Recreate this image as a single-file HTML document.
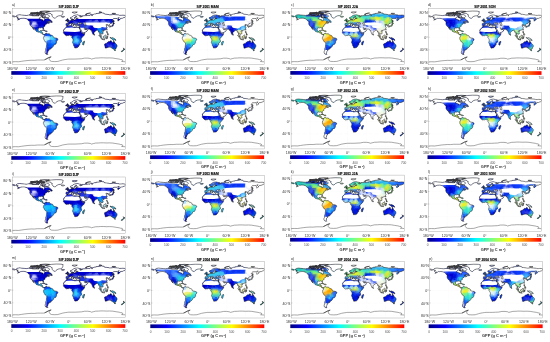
<!DOCTYPE html><html><head><meta charset="utf-8"><style>
html,body{margin:0;padding:0;background:#fff;width:550px;height:342px;overflow:hidden}
svg{display:block}
text{font-family:"Liberation Sans",sans-serif}
.t{opacity:0.999}
</style></head><body>
<svg width="550" height="342" viewBox="0 0 550 342">
<defs>
<linearGradient id="jet" x1="0" x2="1" y1="0" y2="0">
<stop offset="0" stop-color="#000080"/><stop offset="0.142857" stop-color="#0000ff"/>
<stop offset="0.428571" stop-color="#00ffff"/><stop offset="0.714286" stop-color="#ffff00"/>
<stop offset="1" stop-color="#ff0000"/></linearGradient>

<clipPath id="landclip"><path d="M-168,-65.6 -166,-68.9 -163,-70.3 -156.5,-71.3 -150,-70.4 -141,-69.6 -135,-69 -128,-70.2 -120,-69.5 -115,-68 -108,-68.3 -100,-67.8 -96,-68.5 -94,-71.5 -90,-68.5 -85,-69.7 -81.5,-68.5 -82.5,-66.2 -86.5,-66.5 -90.5,-63.5 -94,-61 -94.5,-59 -93,-58.7 -88.8,-56.8 -85,-55.3 -82.3,-55.1 -82,-53 -80.5,-51.3 -79,-51.5 -78.9,-54.5 -76.5,-56.5 -78,-58.5 -77.5,-60.5 -78,-62.4 -73.5,-62.2 -70,-61 -67.5,-58.3 -64.5,-60.3 -61.5,-56 -57.5,-54 -55.7,-52.3 -57,-51.5 -60,-50.2 -66.5,-50.2 -70,-47.5 -64.2,-48.5 -65,-47 -64,-46 -60,-46 -66,-43.5 -67.5,-44.5 -70,-43.5 -70.5,-41.8 -74,-40.5 -75.5,-38.5 -76,-37 -75.5,-35.2 -78,-33.8 -81,-31.5 -80.5,-28 -80.2,-25.3 -81,-25.1 -82.7,-27.8 -83.5,-29.8 -85,-29.7 -88,-30.4 -89.5,-29.2 -91,-29.5 -94,-29.6 -97.2,-27.8 -97.5,-25 -97.8,-22.3 -96,-19 -94.5,-18.2 -92,-18.6 -90.5,-19.9 -90.4,-21 -87,-21.5 -87.5,-18.5 -88.3,-16 -86,-15.9 -83.3,-15 -83.7,-11 -81.7,-9 -79.5,-9.5 -77.2,-8.6 -78,-7.3 -80,-7.5 -81.5,-8 -84,-9.5 -85.7,-11 -87.5,-13 -91,-14 -94,-16 -96.5,-15.7 -100,-17 -103.5,-18.3 -105.5,-20.5 -105.2,-22.7 -108,-25.5 -110,-27.5 -112.2,-29 -113.2,-31.2 -114.8,-31.8 -114.2,-30 -112.8,-28 -111.3,-26 -110.3,-24.2 -109.5,-23 -110.5,-23.5 -112,-24.8 -114,-27 -115,-28 -116,-30.5 -117.1,-32.5 -118.5,-34 -120.6,-34.6 -122.5,-37.5 -124,-40.4 -124.5,-43 -124,-46.2 -124.7,-48.4 -123,-49 -125,-50 -128,-51.5 -130,-54.5 -133,-57.5 -136,-58.5 -140,-59.8 -145,-60.3 -148,-60 -150,-59.5 -152,-60.5 -154,-59 -156.5,-57 -160,-55.7 -163.5,-54.7 -161,-56.3 -158,-58.5 -162,-58.7 -164.5,-60.5 -165,-62.5 -161,-63.7 -165,-64.5 -168,-65.6ZM-73,-78.5 -66,-81 -55,-82.5 -40,-83.5 -25,-83.2 -18,-81.5 -19,-79 -19,-76 -21,-72 -23,-70 -26,-68.5 -32,-68 -38,-65.5 -41,-63 -43.5,-60 -46,-60.8 -49.5,-62 -51,-64.5 -53,-66.5 -54,-69 -52,-70.5 -55,-71.5 -56,-74 -60,-76 -68,-76.5 -71,-77.5ZM-61.5,-66.6 -64,-70 -70,-72.5 -78,-73.5 -85,-73.3 -89,-71.8 -85,-70 -80,-69.8 -77,-67.5 -73,-68 -75,-65.5 -78,-64.5 -75,-62.5 -66,-61.8 -64.5,-63.5ZM-92,-80.5 -85,-77 -78,-76.5 -75,-79 -68,-80.5 -62,-82.3 -75,-83 -90,-82ZM-118,-71 -112,-73 -105,-73 -101,-70 -105,-68.8 -110,-68.5 -117,-69.5ZM-125.5,-72 -120,-74.5 -116,-73.5 -117,-71.5 -122,-71ZM-120,-76 -110,-78 -100,-78.5 -95,-77 -100,-75.5 -110,-75ZM-92,-75 -80,-74.5 -80,-76.5 -90,-76.7ZM-96,-74 -93,-72 -90,-73.8ZM-87,-64.5 -81,-63 -81,-65ZM-77.3,-8.6 -76,-9.5 -75.5,-10.5 -74,-11.3 -72,-12.4 -71.5,-10.8 -71,-11.8 -70,-12.2 -68,-10.5 -64,-10.6 -61.5,-10.5 -60.5,-8.5 -58,-6.8 -55,-5.9 -52,-4.8 -51,-4 -50,-1.8 -50,0 -48,1 -44.5,2.5 -41,2.9 -38.5,3.7 -35.2,5.5 -35,8 -37,11 -38.8,13 -39.2,17.7 -40.5,20.5 -42,22.9 -44.8,23.3 -48,25.5 -48.7,28.5 -51,31 -53.3,33.8 -55,34.9 -58.4,34.6 -57.2,36.3 -57.5,38.2 -62,38.8 -62.3,40.6 -65,41 -64,42.2 -65.3,44.8 -67.5,46.5 -65.8,47.7 -68.3,50.1 -69,51.6 -68.4,52.4 -68,53.5 -66.5,55 -70,55.2 -74,53 -75.5,50 -75.5,46.5 -74,43.5 -73.5,41.5 -73.6,37.2 -71.5,32 -71.3,28 -70.5,23.5 -70.2,18.3 -71.5,17.2 -75,15.3 -76.3,13.5 -78,10.5 -79.8,7 -81.2,5.3 -80.3,3.5 -80.9,2.2 -80,0.5 -80.1,-0.8 -78.9,-1.4 -77.5,-3.5 -77.3,-6.5 -77.8,-7.3ZM32.5,-31.2 34.3,-31.3 35,-33 35.9,-35 35.9,-36.8 34.5,-36.8 32.7,-36.1 30.5,-36.3 28.5,-36.7 27.3,-37 26.2,-39.5 26.5,-40.5 26,-40.8 24,-40.8 22.9,-40.6 24,-38 23,-37.8 22.5,-36.5 21.7,-36.8 21,-38.3 19.4,-40.3 19.4,-41.8 17,-43 15.5,-44 13.7,-45.6 12.3,-44.6 13.6,-43.6 15,-42 17,-41 18.5,-40.2 17.2,-39.2 16.5,-38.4 15.7,-38 14.5,-40.5 12.3,-41.7 10.3,-43.8 8.8,-44.4 7.5,-43.8 6.5,-43.1 4.5,-43.4 3.1,-43.1 3.2,-42 0.9,-41 -0.3,-39.5 0,-38.8 -2,-36.7 -5.3,-36.1 -6,-36.2 -7.4,-37.2 -8.8,-37 -9.5,-38.7 -8.9,-41 -8.8,-42 -9.3,-43 -8,-43.7 -1.8,-43.4 -1.2,-46 -2.2,-47.2 -4.5,-47.9 -4.7,-48.6 -1.6,-48.7 -1.3,-49.7 0.2,-49.5 1.6,-50.2 3.5,-51.4 4.5,-52.5 5,-53.3 7,-53.6 8.6,-53.9 8.6,-55.5 8.1,-56.8 10,-57.6 10.5,-56.3 12.5,-56 10.9,-54 14,-54.2 18,-54.8 21,-55 21,-56.5 23.8,-57.3 24,-59.3 28.5,-59.8 30,-60 25,-60.3 22.5,-60 21.4,-61 21.5,-63 25,-65 25.3,-65.6 21.5,-65.4 19.5,-63.5 17.5,-62.3 17.2,-60.7 18.8,-59.8 16.5,-57.5 15.8,-56.1 14.2,-55.4 12.9,-55.5 11,-58.8 10.5,-59.2 8,-58 5.6,-58.9 5,-61 5.2,-62.5 10,-64 12.5,-66 14.5,-67.8 16,-68.5 19,-69.8 23.5,-70.7 28,-71 31,-70 33,-69.3 36,-69 41,-67.5 40.5,-66.2 35,-66.3 34.8,-64.5 37,-64 40.5,-65 44,-66.5 43.5,-68.5 46,-68.2 53,-68.5 55,-68.5 60,-69 60.5,-69.8 66,-69 68,-69.5 67,-71 69.5,-73 72.5,-72.8 72.5,-71 72.8,-68.5 75,-68.5 73.5,-71 78,-72.3 80.5,-73.6 87,-74 86.5,-75.2 97,-76 104.3,-77.7 107,-76.8 112,-76.5 113.5,-73.5 119,-73 128,-71.8 129.5,-71 131,-71 139,-71.5 140,-72.5 150,-71.5 155,-71 160,-70.5 161,-69.6 167,-69.7 170,-70.1 176,-69.9 180,-68.9 180,-65.3 178.5,-64.3 177,-62.5 173.5,-61.7 170,-60 164.5,-59.9 163,-58 162,-56.3 163.5,-56.5 160,-54.5 158.5,-52.9 156.7,-51 156,-53 155.5,-56.5 157,-58 160,-61.2 160.5,-62 156,-61.5 154,-59.3 150,-59.5 143,-59.3 140.5,-57 138,-54 141,-53 141.3,-50 140.5,-48.5 138.5,-46.9 135,-43.3 132,-43.2 130.7,-42.3 129.5,-40.8 128,-38.5 129.4,-36 129,-35.1 126.5,-34.4 126.3,-36 126.7,-37.7 125.2,-37.8 124.7,-39.6 121.5,-39 121.2,-40.8 119.5,-39.8 117.7,-39 118.8,-37.5 121,-37.8 122.5,-37.2 120.5,-36 119.2,-34.9 120.8,-32.3 121.9,-30.9 121.9,-29 120.5,-27.3 119.6,-25.5 117.5,-23.6 113.5,-22.3 110.5,-21.3 109.8,-21.5 108,-21.5 106.5,-20.3 105.7,-19 107,-17 108.8,-15.3 109.3,-12.5 109,-11.3 106.7,-10.4 104.8,-8.6 105,-10.3 103.4,-10.6 102,-12.3 100.8,-13.4 99.3,-10.5 100.3,-8.3 101.7,-6.8 103.3,-4.8 103.5,-2.3 104.2,-1.4 103.5,-1.3 101.2,-2.8 100.4,-4.9 98.3,-8.2 98.5,-10.5 97.7,-15.5 97.5,-16.7 95.3,-15.8 94.2,-16.1 94.5,-19.5 92.3,-20.8 91.8,-22.4 89,-21.7 86.9,-21 86.3,-19.8 84.8,-19.2 82.2,-16.6 80.2,-15.2 80.3,-13 79.8,-10.3 78.2,-8.9 77.5,-8.1 76.5,-9.5 75.5,-11.8 74.4,-14.8 73.4,-16.6 72.8,-19 72.7,-21.2 72.3,-22 71.5,-20.8 69,-22.4 68.8,-23.8 67.2,-24.7 66.5,-25.5 64,-25.4 61.6,-25.2 58.8,-25.5 57.3,-27.1 56.3,-27.2 54.5,-26.5 51.5,-27.9 50.2,-29.9 48.5,-30 48,-29.2 49.5,-27 50.2,-26.2 51.5,-24.5 51.6,-25.9 51.2,-24.2 54,-24.2 56.2,-26 56.5,-24.5 59.5,-22.5 57.8,-19 55.5,-17.4 52.2,-15.7 48.5,-14 45,-12.8 43.5,-12.7 42.7,-15 41.5,-18 39.5,-21.5 38.5,-23.6 37,-25.8 35,-28 34.6,-29.3 34.2,-27.8 32.6,-29.9ZM-180,-68.9 -175,-67.5 -171,-66.5 -169.7,-66 -171,-64.5 -173,-64.3 -176,-65 -178.5,-65.5 -180,-65.3ZM34.2,-31.3 32.3,-31.3 30,-31.3 25,-31.6 20,-30.8 19,-30.3 20,-32 20.5,-32.8 15.5,-31.5 13,-32.8 11,-33.3 10.2,-34.3 11,-35.5 10.3,-36.9 8.6,-36.9 5,-36.8 1,-36.5 -2,-35.1 -5.3,-35.9 -6,-35.8 -6.8,-34 -9.5,-32.5 -9.8,-30 -11.5,-28 -13,-27.6 -14.5,-26 -16,-24 -17,-21 -16.3,-19.5 -16.5,-16 -17.5,-14.7 -16.7,-12.4 -15,-11 -13.5,-9.5 -12.5,-7.5 -10.5,-6.2 -7.5,-4.4 -5,-5.1 -2,-4.8 1,-6 3.5,-6.4 5.5,-4.6 6.5,-4.3 8.5,-4.6 9.5,-3.8 9.8,-2.5 9.4,-0.5 9,1 11,3.5 12,5 13,7 13.5,9.5 13,12.5 12,15.5 11.8,17.5 13.3,20.5 14.5,23 15,26.5 16.5,28.6 18,31.5 18.4,34.2 20,34.8 22.5,34 25.5,34 27.5,33.2 30,31.2 31.5,28.8 32.6,26 35.3,24 35.5,21.5 34.7,19.8 36.5,18.5 40.5,15 40.5,10.5 39.3,8 39.3,5 41.5,1.7 43.5,-0.8 46,-2.5 48.5,-5.5 50.8,-10.5 51.2,-11.8 48,-11.2 45,-10.5 43.3,-11.5 42.5,-13.5 40,-15.8 38.5,-18 37.3,-21 36.9,-22 35.5,-24 34,-26.6 32.6,-29.9 32.5,-30.5ZM49.3,12 50.5,15.5 49.5,17.5 48.5,20 47.2,24.9 45.2,25.5 43.7,23.5 43.3,21.5 44.4,19.5 44,17 46,15.7 47.8,14ZM113.5,22 114,26.5 115,30 115.7,33.5 115,34.3 118,35 121.5,33.8 124,33 126,32.3 131,31.5 134,32.5 135.7,34.8 137.5,33 138,35.5 140,37.8 143.5,38.8 146.3,39.1 149.9,37.5 150.5,35.5 151.5,33 153,31 153.6,28.2 153,25 150.8,22.5 149,20.5 146.2,18.5 145.3,15 143.5,14 142.5,10.7 141.6,12.5 141.5,15.5 140.8,17.5 139.3,17.4 137,16 135.5,15 136.7,12.3 135,12 132.5,11.4 130.8,12.4 129.5,14.9 127,13.8 125,15 123,16.5 121.5,19 119,20 116.5,20.6 114.2,21.8ZM144.6,40.7 148.3,40.9 148,43.2 146.8,43.6 145.2,42.2ZM172.7,34.4 174.6,36.1 176,37.6 178.5,37.7 177.9,39.2 176.8,40 175.2,41.6 174.6,41.3 175,39.8 173.8,39.3 174.6,38 174.3,36.5ZM172.7,40.5 174.3,41.7 173.2,43 172.8,43.8 171.2,44.5 170.6,45.9 169.3,46.6 166.5,46 166.8,45.2 168.3,44 170.6,43 172,41.5ZM131,1.3 134,0.9 135,3.3 137.8,1.5 141,2.6 145,4.5 147.5,6 150,10.3 147,10.2 146,8 143.5,9 142.5,9.3 141,9.1 139,8.1 138,5.5 134,4 132,2.9ZM109,-1.5 109.6,0.5 110.3,3 114.5,4 116.5,3.5 116,1.5 117.8,-1 118.8,-1 117.8,-4.2 119.3,-5.2 117.3,-7 116,-6.5 115.3,-5 113.5,-3.8 111.3,-2.5 109.6,-2ZM95.2,-5.6 97.5,-5.2 100.3,-2.3 103.5,0.7 104.5,2 106,3.2 105.8,5.8 104.5,5.8 102,4 100.5,1 98.7,-1.7 97,-3.5ZM105.2,6.8 108.5,6.5 111,6.5 114.5,7.7 114.5,8.7 110,8.2 106.5,7.4ZM119,5.5 120.5,5.6 121,3 122.5,4.5 123.3,1 121,1 121.5,-0.5 125,-1.5 120.5,-1 119.5,0.5 118.8,3ZM120,-18.5 122.3,-18.5 122,-16.5 122.5,-14 124,-13 121,-13.5 120.5,-14.5 119.8,-16.5ZM122,-7 126,-6.5 126.5,-8.5 125.5,-9.8 123.5,-8ZM122,-10.5 124,-11.5 125.5,-11 124,-9.8 122.5,-9.5ZM130.9,-34 132.5,-35.5 136,-35.8 137,-37 139.5,-38.5 140,-40.5 141.5,-41.3 142,-39 141,-36.5 140.8,-35 139,-34.7 137,-34.6 135,-33.5 132.5,-34ZM129.7,-33.5 131.8,-33.2 131.3,-31.3 130.2,-31.2ZM140,-42 141.5,-45.5 145.5,-43.3 143.3,-42 141,-41.5ZM142,-46 143.5,-46.5 143,-49 144.5,-49 143,-54.3 142.5,-54 142,-51 141.9,-48ZM120.2,-23 121,-25.2 122,-25 121,-22ZM108.7,-19 110.5,-20.1 111,-19.7 109.5,-18.2ZM79.8,-8 80.2,-9.8 81.9,-7.5 81.5,-6.2 80.2,-6ZM-5.7,-50 -3,-50.5 1.4,-51.2 1.7,-52.7 0.2,-53.5 -1.6,-55.5 -2.1,-57.5 -3,-58.6 -5,-58.6 -6.2,-57 -5.6,-55.3 -4.8,-54.8 -3,-54.4 -3,-53.4 -4.5,-53.3 -4.2,-52 -5.2,-51.7 -3,-51.5 -4.5,-51.1ZM-6,-52.2 -6,-54 -5.6,-55 -8,-55.2 -10,-54.2 -9.9,-53 -10.3,-51.8 -8,-51.6ZM-24,-65.5 -22,-66.4 -18,-66.2 -14.5,-66.1 -13.5,-65 -15,-64.2 -18,-63.4 -22.7,-63.8ZM11,-78.5 17,-76.5 22,-77.5 27,-80 18,-80.5 11,-79.7ZM52,-71.5 57,-70.5 56,-73.5 61,-75.5 69,-77 66,-76.3 58,-75 54,-73.5ZM96,-79 100,-78.5 105,-78.5 104,-80.3 97,-81ZM137,-75 140,-76 149,-75.5 145,-74.5ZM-85,-21.8 -82,-23.2 -78,-22.3 -74.2,-20.2 -77.5,-19.8 -78.5,-21.5 -81,-21.7ZM-74.5,-18.4 -72.8,-19.9 -70,-19.8 -68.4,-18.5 -71.5,-17.7 -74.2,-18.1ZM-59.3,-47.6 -55.5,-51.6 -53,-49.5 -52.7,-47.3 -55.5,-46.8ZM8.5,-41 9.5,-43 9.8,-39 8.4,-39ZM12.4,-38 15.6,-38.3 15.1,-36.7ZM23.5,-35.5 26.3,-35.2 24.5,-34.9ZM32.3,-35 34.6,-35.6 33.8,-34.6ZM-118,-75.5 -112,-76.6 -105,-76 -106,-74.7 -114,-74.5ZM-101.5,-75.5 -98,-76.5 -97,-75.3 -99.5,-74.8ZM-123,-76.2 -118,-77.3 -115.5,-76.4 -120,-75.6ZM-95.5,-78.2 -91,-81 -86,-80.5 -88,-78.5 -92,-77.6ZM-104,-78.1 -100,-79.2 -98.5,-78.2 -101,-77.5ZM-96.5,-74.8 -93.5,-75.5 -92.5,-74.6ZM-102.5,-72.5 -98,-73.8 -96.5,-72.3 -99,-71.5ZM-99,-69 -96,-69.8 -95.5,-68.8 -97.5,-68.4ZM-81,-73.2 -77,-73.8 -76.5,-72.9ZM-84,-62.9 -81.5,-62.2 -82.5,-62.8ZM-80.5,-62 -79.5,-62.3 -79.7,-61.7Z"/></clipPath>
<filter id="bl" x="-5%" y="-5%" width="110%" height="110%"><feGaussianBlur stdDeviation="2.0"/></filter>
<g id="mDJF"><g clip-path="url(#landclip)"><g filter="url(#bl)"><path fill="#0000c0" d="M-93 -87h14v6h-14zM-105 -83h22v6h-22zM-105 -79h22v6h-22zM-105 -75h22v6h-22zM-105 -71h22v6h-22zM-105 -67h22v6h-22zM-105 -63h18v6h-18zM-105 -59h18v6h-18zM-105 -55h18v6h-18z"/><path fill="#0000cc" d="M-81 -87h14v6h-14zM-113 -83h10v6h-10zM-85 -83h18v6h-18zM11 -83h18v6h-18zM91 -83h18v6h-18zM-125 -79h22v6h-22zM-85 -79h14v6h-14zM11 -79h14v6h-14zM51 -79h14v6h-14zM83 -79h34v6h-34zM-165 -75h22v6h-22zM-133 -75h30v6h-30zM-85 -75h14v6h-14zM19 -75h14v6h-14zM47 -75h14v6h-14zM63 -75h70v6h-70zM-181 -71h78v6h-78zM-85 -71h14v6h-14zM11 -71h122v6h-122zM-181 -67h78v6h-78zM-85 -67h14v6h-14zM7 -67h122v6h-122zM-169 -63h66v6h-66zM-85 -63h14v6h-14zM7 -63h122v6h-122zM-165 -59h14v6h-14zM-137 -59h34v6h-34zM-89 -59h18v6h-18zM3 -59h62v6h-62zM71 -59h14v6h-14zM91 -59h14v6h-14zM115 -59h14v6h-14zM-133 -55h14v6h-14zM-117 -55h14v6h-14zM-89 -55h18v6h-18zM3 -55h54v6h-54zM95 -55h6v6h-6zM-105 -51h34v6h-34zM-5 -51h18v6h-18zM27 -51h6v6h-6zM35 -51h18v6h-18zM95 -51h6v6h-6zM-101 -47h30v6h-30zM-1 -47h10v6h-10zM-97 -43h30v6h-30zM-97 -39h10v6h-10zM-81 -39h10v6h-10zM-21 -27h14v6h-14zM-21 -23h42v6h-42zM27 -23h22v6h-22zM71 -23h10v6h-10zM-21 -19h74v6h-74zM-21 -15h42v6h-42zM23 -15h26v6h-26zM-17 -11h34v6h-34zM27 -11h18v6h-18zM-13 -7h18v6h-18zM35 -7h6v6h-6zM123 9h14v6h-14zM123 13h26v6h-26zM111 17h6v6h-6zM127 17h18v6h-18zM23 29h10v6h-10zM23 33h6v6h-6zM-77 49h14v6h-14zM-77 53h14v6h-14z"/><path fill="#000ccc" d="M-69 -87h50v6h-50zM-69 -83h54v6h-54zM7 -83h6v6h-6zM-73 -79h58v6h-58zM135 -79h18v6h-18zM-73 -75h58v6h-58zM131 -75h34v6h-34zM167 -75h10v6h-10zM-73 -71h14v6h-14zM-57 -71h46v6h-46zM131 -71h50v6h-50zM-73 -67h14v6h-14zM-57 -67h22v6h-22zM-29 -67h18v6h-18zM3 -67h6v6h-6zM127 -67h54v6h-54zM-73 -63h14v6h-14zM-53 -63h14v6h-14zM-9 -63h10v6h-10zM3 -63h6v6h-6zM127 -63h50v6h-50zM-73 -59h18v6h-18zM-13 -59h14v6h-14zM103 -59h6v6h-6zM127 -59h18v6h-18zM151 -59h14v6h-14zM-73 -55h22v6h-22zM-13 -55h18v6h-18zM99 -55h6v6h-6zM115 -55h6v6h-6zM131 -55h18v6h-18zM151 -55h10v6h-10zM-73 -51h22v6h-22zM-9 -51h6v6h-6zM11 -51h6v6h-6zM23 -51h6v6h-6zM135 -51h14v6h-14zM-73 -47h18v6h-18zM7 -47h6v6h-6zM135 -47h14v6h-14zM139 -43h6v6h-6zM-101 -35h10v6h-10zM-105 -31h6v6h-6zM-117 -27h10v6h-10zM19 -15h6v6h-6zM15 29h10v6h-10zM15 33h10v6h-10z"/><path fill="#0c0ccc" d="M63 -59h10v6h-10zM83 -59h6v6h-6zM111 -59h6v6h-6zM-121 -55h6v6h-6zM55 -55h6v6h-6zM71 -55h10v6h-10zM91 -55h6v6h-6zM119 -55h6v6h-6zM31 -51h6v6h-6zM-101 -43h6v6h-6zM-101 -39h6v6h-6z"/><path fill="#1818cc" d="M87 -59h6v6h-6zM59 -55h6v6h-6zM-129 -51h6v6h-6zM19 -51h6v6h-6zM51 -51h6v6h-6zM-105 -47h6v6h-6zM19 -23h6v6h-6z"/><path fill="#2430d8" d="M107 -59h6v6h-6zM-9 -47h6v6h-6zM39 -47h6v6h-6zM-1 -43h6v6h-6zM119 21h6v6h-6zM131 21h6v6h-6z"/><path fill="#303cd8" d="M63 -55h6v6h-6zM111 -55h6v6h-6zM55 -51h6v6h-6zM71 -51h6v6h-6zM99 -51h6v6h-6zM115 -51h6v6h-6zM127 -51h6v6h-6zM123 25h6v6h-6zM135 25h6v6h-6z"/><path fill="#3c48d8" d="M67 -55h6v6h-6zM103 -55h6v6h-6zM135 -39h6v6h-6z"/><path fill="#2424d8" d="M79 -55h6v6h-6z"/><path fill="#4854e4" d="M83 -55h6v6h-6zM23 -47h6v6h-6zM71 -47h6v6h-6zM123 -47h6v6h-6zM11 -43h6v6h-6z"/><path fill="#5460e4" d="M87 -55h6v6h-6zM15 -47h6v6h-6zM15 -43h10v6h-10z"/><path fill="#606ce4" d="M107 -55h6v6h-6zM83 -51h10v6h-10zM103 -51h14v6h-14zM75 -47h22v6h-22zM99 -47h14v6h-14zM119 -47h6v6h-6zM75 -43h34v6h-34z"/><path fill="#1824d8" d="M123 -55h6v6h-6zM43 -47h6v6h-6zM-9 -27h6v6h-6zM47 -23h6v6h-6zM119 25h6v6h-6zM123 29h6v6h-6z"/><path fill="#0c18cc" d="M127 -55h6v6h-6z"/><path fill="#2424cc" d="M-125 -51h10v6h-10zM-129 -47h10v6h-10zM-129 -43h10v6h-10z"/><path fill="#5454d8" d="M-117 -51h6v6h-6zM-105 -43h6v6h-6zM-125 -39h6v6h-6z"/><path fill="#7878e4" d="M-113 -51h6v6h-6zM-121 -43h6v6h-6zM-113 -35h6v6h-6z"/><path fill="#4848d8" d="M-109 -51h6v6h-6zM-109 -35h6v6h-6z"/><path fill="#3030d8" d="M15 -51h6v6h-6zM-121 -47h6v6h-6zM95 -47h6v6h-6zM123 21h6v6h-6z"/><path fill="#3c48e4" d="M59 -51h6v6h-6zM123 -51h6v6h-6zM11 -47h6v6h-6zM51 -47h6v6h-6zM51 -43h6v6h-6zM71 -43h6v6h-6zM63 -39h6v6h-6zM31 -35h6v6h-6zM47 -31h6v6h-6zM59 -27h6v6h-6zM127 25h10v6h-10z"/><path fill="#3c54e4" d="M63 -51h10v6h-10zM55 -47h18v6h-18zM127 -47h6v6h-6zM55 -43h18v6h-18zM27 -39h6v6h-6zM51 -39h14v6h-14zM87 -39h6v6h-6zM51 -35h14v6h-14zM111 -35h6v6h-6zM51 -31h14v6h-14zM47 -27h14v6h-14zM51 -23h10v6h-10zM127 29h10v6h-10zM131 33h6v6h-6z"/><path fill="#4848e4" d="M75 -51h6v6h-6zM91 -51h6v6h-6z"/><path fill="#546ce4" d="M79 -51h6v6h-6zM127 -43h6v6h-6z"/><path fill="#3048d8" d="M119 -51h6v6h-6z"/><path fill="#0018cc" d="M131 -51h6v6h-6zM139 -39h6v6h-6zM-109 -31h6v6h-6z"/><path fill="#c0c0fc" d="M-117 -47h6v6h-6zM-117 -43h10v6h-10z"/><path fill="#d8d8fc" d="M-113 -47h6v6h-6zM111 -43h10v6h-10zM119 -39h10v6h-10zM131 -35h6v6h-6z"/><path fill="#c0c0f0" d="M-109 -47h6v6h-6z"/><path fill="#303ce4" d="M-13 -47h6v6h-6zM27 -47h14v6h-14zM-13 -43h14v6h-14zM7 -43h6v6h-6zM27 -43h14v6h-14zM-13 -39h10v6h-10zM3 -39h10v6h-10zM31 -39h10v6h-10zM3 -35h14v6h-14zM3 -31h14v6h-14zM3 -27h14v6h-14zM135 29h6v6h-6z"/><path fill="#0c18d8" d="M-5 -47h6v6h-6zM135 -43h6v6h-6zM79 -39h6v6h-6zM-105 -35h6v6h-6zM-113 -31h6v6h-6zM115 21h6v6h-6zM135 21h6v6h-6zM139 25h6v6h-6z"/><path fill="#4860e4" d="M19 -47h6v6h-6zM23 -43h6v6h-6zM83 -39h6v6h-6zM103 -39h6v6h-6z"/><path fill="#2430e4" d="M47 -47h6v6h-6zM39 -43h14v6h-14zM-5 -39h10v6h-10zM39 -39h10v6h-10zM-9 -35h14v6h-14zM39 -35h10v6h-10zM-17 -31h22v6h-22zM35 -31h14v6h-14zM-1 -27h6v6h-6zM35 -27h10v6h-10z"/><path fill="#6c78e4" d="M111 -47h6v6h-6z"/><path fill="#909cf0" d="M115 -47h6v6h-6z"/><path fill="#1830d8" d="M131 -47h6v6h-6z"/><path fill="#a8a8f0" d="M-109 -43h6v6h-6zM-117 -39h6v6h-6z"/><path fill="#7884f0" d="M107 -43h6v6h-6zM119 -35h6v6h-6z"/><path fill="#ccccf0" d="M119 -43h6v6h-6zM127 -39h6v6h-6zM127 -35h6v6h-6z"/><path fill="#9c9cf0" d="M123 -43h6v6h-6zM-121 -39h6v6h-6zM-113 -39h6v6h-6zM-121 -35h10v6h-10z"/><path fill="#6c6ce4" d="M-109 -39h6v6h-6z"/><path fill="#3c3cd8" d="M-105 -39h6v6h-6z"/><path fill="#000cd8" d="M-89 -39h6v6h-6zM-93 -35h6v6h-6zM-101 -31h10v6h-10zM79 -31h6v6h-6zM79 -27h6v6h-6zM51 -19h10v6h-10zM71 -19h14v6h-14zM47 -15h6v6h-6zM15 -11h14v6h-14zM43 -11h6v6h-6zM7 -7h10v6h-10zM39 -3h6v6h-6zM143 17h6v6h-6zM139 21h6v6h-6zM23 25h14v6h-14zM-77 45h14v6h-14z"/><path fill="#0000d8" d="M-85 -39h6v6h-6zM67 -39h14v6h-14zM67 -35h18v6h-18zM63 -31h18v6h-18zM63 -27h18v6h-18zM67 -23h6v6h-6zM79 -23h6v6h-6zM3 -7h6v6h-6zM39 -7h6v6h-6zM111 21h6v6h-6zM111 25h6v6h-6zM111 29h14v6h-14zM111 33h14v6h-14z"/><path fill="#3048e4" d="M11 -39h6v6h-6zM47 -35h6v6h-6zM107 -35h6v6h-6zM111 -31h6v6h-6zM115 -27h6v6h-6z"/><path fill="#546cf0" d="M19 -39h6v6h-6zM15 -31h6v6h-6zM15 -27h6v6h-6z"/><path fill="#606cf0" d="M23 -39h6v6h-6zM19 -35h14v6h-14zM19 -31h18v6h-18zM19 -27h14v6h-14z"/><path fill="#243ce4" d="M47 -39h6v6h-6zM-13 -35h6v6h-6zM35 -35h6v6h-6zM103 -31h6v6h-6zM43 -27h6v6h-6zM107 -27h6v6h-6zM111 -23h6v6h-6z"/><path fill="#1854f0" d="M91 -39h6v6h-6z"/><path fill="#0084fc" d="M95 -39h6v6h-6zM-101 -23h6v6h-6zM91 -23h6v6h-6zM-105 -19h6v6h-6zM91 -19h6v6h-6z"/><path fill="#3c60e4" d="M99 -39h6v6h-6z"/><path fill="#849cf0" d="M107 -39h6v6h-6z"/><path fill="#b4c0f0" d="M111 -39h6v6h-6z"/><path fill="#ccd8fc" d="M115 -39h6v6h-6z"/><path fill="#8490f0" d="M131 -39h6v6h-6z"/><path fill="#0018d8" d="M-89 -35h14v6h-14zM-93 -31h6v6h-6zM-109 -27h6v6h-6zM47 -11h6v6h-6zM15 -7h6v6h-6zM31 -7h6v6h-6zM43 -7h10v6h-10zM7 -3h6v6h-6zM35 -3h6v6h-6zM43 -3h6v6h-6zM19 25h6v6h-6zM139 29h6v6h-6z"/><path fill="#5460f0" d="M15 -35h6v6h-6zM31 -27h6v6h-6z"/><path fill="#1818d8" d="M63 -35h6v6h-6zM119 17h10v6h-10zM127 21h6v6h-6z"/><path fill="#0024e4" d="M83 -35h10v6h-10zM-85 -31h6v6h-6zM83 -31h10v6h-10zM83 -27h10v6h-10zM83 -23h6v6h-6zM11 -3h6v6h-6zM7 1h6v6h-6zM143 25h6v6h-6zM143 29h6v6h-6zM-69 37h6v6h-6z"/><path fill="#0060f0" d="M91 -35h6v6h-6z"/><path fill="#0090fc" d="M95 -35h6v6h-6zM95 -31h6v6h-6zM95 -27h10v6h-10zM95 -23h6v6h-6z"/><path fill="#0c6cf0" d="M99 -35h6v6h-6zM39 9h6v6h-6z"/><path fill="#2448e4" d="M103 -35h6v6h-6zM107 -31h6v6h-6zM111 -27h6v6h-6zM115 -23h6v6h-6z"/><path fill="#486cf0" d="M115 -35h6v6h-6z"/><path fill="#5454e4" d="M-117 -31h6v6h-6z"/><path fill="#0024d8" d="M-89 -31h6v6h-6z"/><path fill="#006cf0" d="M91 -31h6v6h-6zM-101 -27h6v6h-6z"/><path fill="#0c78fc" d="M99 -31h6v6h-6zM31 9h6v6h-6zM-45 13h6v6h-6zM-49 17h6v6h-6z"/><path fill="#3054e4" d="M115 -31h10v6h-10zM119 -27h6v6h-6z"/><path fill="#003ce4" d="M-105 -27h6v6h-6zM-109 -23h6v6h-6zM-77 -23h6v6h-6z"/><path fill="#0030e4" d="M-89 -27h14v6h-14zM87 -23h6v6h-6zM27 -7h6v6h-6zM39 1h6v6h-6zM23 21h10v6h-10zM143 21h6v6h-6zM147 29h6v6h-6z"/><path fill="#1830e4" d="M-5 -27h6v6h-6z"/><path fill="#0078fc" d="M91 -27h6v6h-6z"/><path fill="#1848e4" d="M103 -27h6v6h-6zM107 -23h6v6h-6zM135 33h6v6h-6z"/><path fill="#006cfc" d="M-105 -23h6v6h-6zM-41 13h6v6h-6zM-45 17h10v6h-10zM-45 21h6v6h-6z"/><path fill="#18a8fc" d="M-97 -23h6v6h-6zM95 -15h6v6h-6z"/><path fill="#24c0fc" d="M-93 -23h6v6h-6zM-97 -19h10v6h-10zM15 5h6v6h-6z"/><path fill="#24b4fc" d="M-89 -23h6v6h-6zM11 5h6v6h-6zM15 9h6v6h-6z"/><path fill="#186cf0" d="M-85 -23h6v6h-6zM15 17h6v6h-6z"/><path fill="#0c48e4" d="M-81 -23h6v6h-6z"/><path fill="#0c3cfc" d="M-73 -23h6v6h-6zM-73 -19h6v6h-6zM-77 -15h10v6h-10zM-77 -11h10v6h-10z"/><path fill="#0c0cd8" d="M23 -23h6v6h-6zM119 13h6v6h-6zM115 17h6v6h-6zM115 25h6v6h-6z"/><path fill="#009cfc" d="M99 -23h6v6h-6zM95 -19h10v6h-10z"/><path fill="#0c84f0" d="M103 -23h6v6h-6z"/><path fill="#7890f0" d="M119 -23h6v6h-6z"/><path fill="#0c90fc" d="M-101 -19h6v6h-6z"/><path fill="#3cc0fc" d="M-89 -19h6v6h-6zM-85 -11h6v6h-6zM-61 -3h6v6h-6zM-49 -3h6v6h-6zM-49 1h6v6h-6z"/><path fill="#3cccfc" d="M-85 -19h6v6h-6zM-89 -15h10v6h-10zM-89 -11h6v6h-6zM-53 1h6v6h-6zM-57 5h10v6h-10z"/><path fill="#0c48fc" d="M-77 -19h6v6h-6z"/><path fill="#0c9cfc" d="M103 -19h6v6h-6z"/><path fill="#1890f0" d="M107 -19h6v6h-6z"/><path fill="#c0e4f0" d="M115 -19h6v6h-6zM119 -3h10v6h-10zM115 1h10v6h-10z"/><path fill="#ccf0fc" d="M119 -19h6v6h-6zM119 -15h10v6h-10zM115 -11h14v6h-14zM111 -7h10v6h-10zM-85 -3h10v6h-10zM107 -3h10v6h-10zM-85 1h14v6h-14zM107 1h10v6h-10zM-85 5h14v6h-14zM107 5h10v6h-10zM-81 9h10v6h-10z"/><path fill="#30c0fc" d="M-93 -15h6v6h-6zM-57 -7h6v6h-6zM19 5h6v6h-6z"/><path fill="#0054fc" d="M-69 -15h6v6h-6zM-69 -11h6v6h-6zM-73 21h18v6h-18zM-65 25h10v6h-10z"/><path fill="#0060fc" d="M-65 -15h6v6h-6zM-65 -11h14v6h-14zM-65 -7h10v6h-10zM35 5h10v6h-10zM35 9h6v6h-6zM-57 21h14v6h-14zM-57 25h10v6h-10zM-57 29h10v6h-10z"/><path fill="#000ce4" d="M71 -15h14v6h-14zM75 -11h10v6h-10zM79 -7h6v6h-6zM-77 41h18v6h-18z"/><path fill="#30a8f0" d="M99 -15h10v6h-10z"/><path fill="#3cb4f0" d="M107 -15h6v6h-6zM103 -11h6v6h-6z"/><path fill="#1854fc" d="M-81 -11h6v6h-6z"/><path fill="#48b4f0" d="M95 -11h10v6h-10z"/><path fill="#a8e4fc" d="M111 -11h6v6h-6zM-73 9h6v6h-6z"/><path fill="#6090fc" d="M-81 -7h6v6h-6z"/><path fill="#3060fc" d="M-77 -7h6v6h-6z"/><path fill="#1848fc" d="M-73 -7h6v6h-6z"/><path fill="#0c60fc" d="M-69 -7h6v6h-6zM-73 17h18v6h-18z"/><path fill="#3cd8fc" d="M-53 -7h6v6h-6zM-57 -3h10v6h-10zM-57 1h6v6h-6z"/><path fill="#0c30e4" d="M19 -7h6v6h-6zM11 25h6v6h-6z"/><path fill="#183ce4" d="M23 -7h6v6h-6z"/><path fill="#9cd8f0" d="M91 -7h10v6h-10zM95 -3h10v6h-10zM99 1h6v6h-6z"/><path fill="#90ccf0" d="M99 -7h6v6h-6z"/><path fill="#c0e4fc" d="M107 -7h6v6h-6zM-77 -3h6v6h-6z"/><path fill="#b4d8fc" d="M-73 -3h6v6h-6z"/><path fill="#9cd8fc" d="M-69 -3h6v6h-6zM-65 5h6v6h-6z"/><path fill="#78c0fc" d="M-65 -3h6v6h-6z"/><path fill="#2478f0" d="M15 -3h6v6h-6zM-45 5h6v6h-6z"/><path fill="#3c9cfc" d="M19 -3h6v6h-6zM23 1h6v6h-6zM-53 9h10v6h-10zM-53 13h6v6h-6z"/><path fill="#3090fc" d="M23 -3h6v6h-6zM-57 9h6v6h-6z"/><path fill="#0048f0" d="M27 -3h6v6h-6zM31 1h10v6h-10zM147 17h6v6h-6zM147 21h6v6h-6zM-73 25h6v6h-6zM147 25h6v6h-6zM151 29h6v6h-6zM-57 33h6v6h-6z"/><path fill="#003cf0" d="M31 -3h6v6h-6zM-77 29h18v6h-18zM-77 33h22v6h-22zM-61 37h6v6h-6z"/><path fill="#a8d8f0" d="M103 -3h6v6h-6zM103 1h6v6h-6zM103 5h6v6h-6z"/><path fill="#c0f0f0" d="M115 -3h6v6h-6z"/><path fill="#a8e4f0" d="M127 -3h6v6h-6z"/><path fill="#3cc0e4" d="M131 -3h10v6h-10zM131 1h18v6h-18zM135 5h18v6h-18z"/><path fill="#c0f0fc" d="M-73 1h6v6h-6z"/><path fill="#b4f0fc" d="M-69 1h10v6h-10zM-73 5h6v6h-6z"/><path fill="#60d8fc" d="M-61 1h6v6h-6z"/><path fill="#309cfc" d="M-45 1h6v6h-6zM-49 13h6v6h-6zM27 13h6v6h-6z"/><path fill="#1848f0" d="M-41 1h6v6h-6z"/><path fill="#0c3cf0" d="M-37 1h6v6h-6zM-37 5h6v6h-6zM11 21h10v6h-10z"/><path fill="#0c60f0" d="M11 1h6v6h-6z"/><path fill="#30a8fc" d="M15 1h6v6h-6z"/><path fill="#3cb4fc" d="M19 1h6v6h-6zM-49 5h6v6h-6z"/><path fill="#0c54f0" d="M27 1h6v6h-6z"/><path fill="#6cc0e4" d="M127 1h6v6h-6z"/><path fill="#a8f0fc" d="M-69 5h6v6h-6z"/><path fill="#54b4fc" d="M-61 5h6v6h-6z"/><path fill="#0c48f0" d="M-41 5h6v6h-6zM-41 9h6v6h-6zM31 21h6v6h-6z"/><path fill="#54ccfc" d="M23 5h6v6h-6zM19 13h6v6h-6z"/><path fill="#3ca8fc" d="M27 5h6v6h-6z"/><path fill="#0c6cfc" d="M31 5h6v6h-6zM-57 17h6v6h-6z"/><path fill="#60a8fc" d="M-69 9h6v6h-6z"/><path fill="#3078fc" d="M-65 9h6v6h-6zM-73 13h6v6h-6z"/><path fill="#246cfc" d="M-61 9h6v6h-6zM-69 13h14v6h-14z"/><path fill="#2478fc" d="M-45 9h6v6h-6zM27 17h10v6h-10z"/><path fill="#30b4fc" d="M11 9h6v6h-6zM7 13h14v6h-14z"/><path fill="#48ccfc" d="M19 9h6v6h-6z"/><path fill="#60ccfc" d="M23 9h6v6h-6z"/><path fill="#48b4fc" d="M27 9h6v6h-6z"/><path fill="#249ccc" d="M43 9h10v6h-10zM43 13h10v6h-10zM39 17h14v6h-14zM39 21h10v6h-10z"/><path fill="#1848d8" d="M135 9h6v6h-6z"/><path fill="#3ca8e4" d="M139 9h6v6h-6z"/><path fill="#3cb4e4" d="M143 9h10v6h-10z"/><path fill="#a8d8fc" d="M-77 13h6v6h-6z"/><path fill="#3084fc" d="M-57 13h6v6h-6z"/><path fill="#54c0fc" d="M23 13h6v6h-6z"/><path fill="#1884fc" d="M31 13h6v6h-6z"/><path fill="#1878fc" d="M35 13h6v6h-6zM-53 17h6v6h-6z"/><path fill="#249cd8" d="M39 13h6v6h-6z"/><path fill="#2484fc" d="M11 17h6v6h-6zM35 17h6v6h-6z"/><path fill="#3c90fc" d="M19 17h10v6h-10z"/><path fill="#0c3ce4" d="M19 21h6v6h-6z"/><path fill="#0054f0" d="M151 21h6v6h-6zM151 25h6v6h-6z"/><path fill="#0048fc" d="M-69 25h6v6h-6zM-61 29h6v6h-6z"/><path fill="#0c24d8" d="M15 25h6v6h-6z"/><path fill="#0048e4" d="M139 33h14v6h-14z"/><path fill="#249c9c" d="M171 33h10v6h-10zM167 37h14v6h-14zM163 41h14v6h-14zM163 45h10v6h-10z"/><path fill="#0018e4" d="M-77 37h10v6h-10z"/><path fill="#0030f0" d="M-65 37h6v6h-6z"/><path fill="#1884c0" d="M139 37h6v6h-6z"/><path fill="#1878cc" d="M143 37h6v6h-6z"/><path fill="#0c6ccc" d="M147 37h6v6h-6z"/><path fill="#189cb4" d="M143 41h10v6h-10z"/></g><path fill="#fff" d="M-180,-90 -50,-90 -50,-58.5 -180,-58.5Z"/><path fill="#fff" d="M-50,-90 180,-90 180,-58 -50,-58Z"/><path fill="#fff" d="M-75,-84 -10,-84 -10,-58 -55,-58 -75,-76Z"/><path fill="#fff" d="M-17,-18 -13,-27 -8,-29.5 0,-30 10,-30.5 20,-29 30,-29.5 35,-29 35,-18 20,-16.5 0,-17Z"/><path fill="#fff" d="M35,-29.5 48,-29.5 50,-26 56,-23 60,-21 53,-15.5 44,-13.5 40,-16Z"/><path fill="#fff" d="M75,-37 100,-37 102,-30 95,-28 80,-30Z"/><path fill="#fff" d="M-82,17 -70.8,17 -71.2,30 -72,56 -82,56Z"/><path fill="#fff" d="M46,-45.5 60,-46.5 90,-47 120,-47 135,-45 126,-33 115,-31 106,-32 100,-30 75,-37 60,-38 50,-41 46,-43Z"/></g><path fill="#fff" d="M47,-45 49,-46.7 51.5,-47 53,-45.3 51,-44.5 51.5,-42.5 53,-42 53.8,-40.5 53,-39.3 54,-37.5 51,-36.7 49,-37.5 49.3,-40.3 48,-42 47.5,-43ZM28,-41.3 28.5,-43.5 29.7,-45.2 31.5,-46.6 33.5,-46 33.5,-44.5 36.5,-45.3 38.2,-46.9 39,-46 37.5,-44.7 40,-43.5 41.5,-41.5 38,-40.9 35,-42 33,-41.9 31,-41.1Z"/></g>
<g id="mMAM"><g clip-path="url(#landclip)"><g filter="url(#bl)"><path fill="#0c54fc" d="M-93 -87h34v6h-34zM-109 -83h46v6h-46zM-109 -79h46v6h-46zM-105 -75h38v6h-38zM-105 -71h38v6h-38zM-101 -67h34v6h-34zM-101 -63h14v6h-14zM-85 -63h14v6h-14zM-97 -59h26v6h-26zM-69 33h6v6h-6z"/><path fill="#2460fc" d="M-61 -87h26v6h-26zM-65 -83h30v6h-30zM-65 -79h30v6h-30zM-65 -75h30v6h-30zM-109 -71h6v6h-6zM-65 -71h6v6h-6zM-57 -71h22v6h-22zM-65 -67h6v6h-6zM-57 -67h22v6h-22zM3 -67h10v6h-10zM-65 -63h6v6h-6zM-53 -63h14v6h-14zM7 -63h10v6h-10zM47 -63h6v6h-6zM-101 -59h6v6h-6zM-69 -59h14v6h-14zM-69 -55h18v6h-18zM-69 -51h18v6h-18zM-69 -47h14v6h-14zM7 -7h6v6h-6zM31 -7h10v6h-10zM-73 25h6v6h-6zM-69 29h6v6h-6z"/><path fill="#309cf0" d="M-37 -87h18v6h-18zM-37 -83h22v6h-22zM-37 -79h22v6h-22zM-37 -75h22v6h-22zM-37 -71h26v6h-26zM-29 -67h18v6h-18zM-9 -63h10v6h-10zM-13 -59h10v6h-10zM-13 -55h6v6h-6zM51 -55h6v6h-6zM-1 -43h6v6h-6z"/><path fill="#3060fc" d="M-113 -83h6v6h-6zM-125 -79h14v6h-14zM-133 -75h22v6h-22zM-137 -71h22v6h-22zM-137 -67h22v6h-22zM-137 -63h14v6h-14zM-121 -63h6v6h-6zM-137 -59h10v6h-10zM-121 -59h6v6h-6zM-121 -55h6v6h-6zM111 -51h6v6h-6z"/><path fill="#849cfc" d="M7 -83h22v6h-22zM11 -79h14v6h-14zM59 -79h6v6h-6zM19 -75h6v6h-6zM63 -75h18v6h-18zM63 -71h14v6h-14zM115 -55h6v6h-6z"/><path fill="#0c30f0" d="M91 -83h18v6h-18zM91 -79h22v6h-22zM87 -75h22v6h-22zM83 -71h26v6h-26zM79 -67h30v6h-30zM55 -63h10v6h-10zM75 -63h14v6h-14zM91 -63h14v6h-14zM55 -59h10v6h-10zM75 -59h10v6h-10zM55 -55h6v6h-6zM-1 -11h6v6h-6zM15 29h10v6h-10zM15 33h10v6h-10z"/><path fill="#1854fc" d="M-113 -79h6v6h-6zM-109 -75h6v6h-6zM-69 -75h6v6h-6zM-69 -71h6v6h-6zM-105 -67h6v6h-6zM-73 -63h6v6h-6zM-73 -59h6v6h-6zM-93 -55h10v6h-10zM-77 -55h6v6h-6zM7 -11h6v6h-6zM3 -7h6v6h-6zM-73 29h6v6h-6z"/><path fill="#2454fc" d="M51 -79h6v6h-6zM47 -75h10v6h-10zM39 -71h18v6h-18zM119 -71h6v6h-6zM23 -67h6v6h-6zM39 -67h14v6h-14zM-125 -63h6v6h-6zM-129 -59h10v6h-10zM-133 -55h6v6h-6zM-125 -55h6v6h-6zM63 -55h14v6h-14zM107 -47h6v6h-6z"/><path fill="#789cfc" d="M55 -79h6v6h-6zM83 -79h6v6h-6zM-113 -75h6v6h-6zM23 -75h6v6h-6zM15 -71h10v6h-10zM67 -67h6v6h-6z"/><path fill="#2454f0" d="M87 -79h6v6h-6zM39 -7h6v6h-6z"/><path fill="#0c3cfc" d="M111 -79h6v6h-6zM107 -75h14v6h-14zM31 -71h10v6h-10zM107 -71h14v6h-14zM31 -67h6v6h-6zM107 -67h10v6h-10zM87 -63h6v6h-6zM103 -63h14v6h-14zM63 -59h14v6h-14zM83 -59h14v6h-14zM99 -59h14v6h-14zM79 -55h34v6h-34zM83 -51h30v6h-30zM87 -47h22v6h-22z"/><path fill="#fcfcfc" d="M135 -79h18v6h-18zM131 -75h34v6h-34zM167 -75h10v6h-10zM127 -71h54v6h-54zM127 -67h54v6h-54zM127 -63h50v6h-50zM123 -59h22v6h-22zM151 -59h14v6h-14zM123 -55h26v6h-26zM151 -55h10v6h-10zM-57 -7h10v6h-10zM-77 -3h14v6h-14zM-57 -3h6v6h-6zM-85 1h14v6h-14zM-85 5h6v6h-6z"/><path fill="#3c6cfc" d="M-165 -75h14v6h-14zM-181 -71h30v6h-30zM-181 -67h30v6h-30zM-169 -63h18v6h-18zM-165 -59h14v6h-14zM115 -59h6v6h-6z"/><path fill="#4878fc" d="M-153 -75h6v6h-6zM-153 -71h6v6h-6zM-153 -67h6v6h-6zM-141 -67h6v6h-6zM15 -67h6v6h-6zM-153 -63h6v6h-6zM-141 -63h6v6h-6z"/><path fill="#5484fc" d="M-149 -75h6v6h-6zM55 -75h6v6h-6zM-149 -71h14v6h-14zM23 -71h6v6h-6zM-149 -67h10v6h-10zM19 -67h6v6h-6zM-149 -63h10v6h-10z"/><path fill="#486cfc" d="M27 -75h6v6h-6z"/><path fill="#6c90fc" d="M79 -75h6v6h-6z"/><path fill="#3054f0" d="M83 -75h6v6h-6zM-125 -39h10v6h-10z"/><path fill="#1848fc" d="M119 -75h6v6h-6zM27 -71h6v6h-6zM35 -67h6v6h-6zM51 -67h6v6h-6zM115 -67h6v6h-6zM51 -63h6v6h-6zM67 -63h6v6h-6zM111 -59h6v6h-6zM59 -55h6v6h-6zM75 -55h6v6h-6zM111 -55h6v6h-6zM83 -47h6v6h-6z"/><path fill="#5478fc" d="M123 -75h6v6h-6zM63 -67h6v6h-6zM71 -67h6v6h-6z"/><path fill="#e4f0fc" d="M127 -75h6v6h-6zM-113 -67h6v6h-6zM-113 -63h6v6h-6zM-113 -59h10v6h-10zM-113 -55h6v6h-6zM-105 -51h6v6h-6zM119 -51h6v6h-6zM143 -51h6v6h-6zM115 -47h34v6h-34zM119 -43h14v6h-14zM135 -43h10v6h-10zM127 -39h18v6h-18z"/><path fill="#6084fc" d="M-117 -71h6v6h-6zM83 -43h6v6h-6z"/><path fill="#ccd8fc" d="M-113 -71h6v6h-6zM51 -47h6v6h-6zM59 -47h22v6h-22zM63 -43h18v6h-18zM47 -39h6v6h-6zM59 -39h6v6h-6zM43 -31h6v6h-6z"/><path fill="#6090fc" d="M11 -71h6v6h-6z"/><path fill="#2448fc" d="M55 -71h6v6h-6zM115 -63h6v6h-6zM-129 -55h6v6h-6z"/><path fill="#6c84fc" d="M59 -71h6v6h-6zM75 -71h6v6h-6z"/><path fill="#1848f0" d="M79 -71h6v6h-6zM11 25h10v6h-10z"/><path fill="#a8b4fc" d="M123 -71h6v6h-6zM59 -35h6v6h-6z"/><path fill="#9cb4fc" d="M-117 -67h6v6h-6zM55 -51h6v6h-6zM47 -23h6v6h-6z"/><path fill="#84a8fc" d="M-109 -67h6v6h-6z"/><path fill="#1860fc" d="M-69 -67h6v6h-6zM-69 -63h6v6h-6zM-85 -55h10v6h-10zM-73 -55h6v6h-6zM-73 -51h6v6h-6zM11 -11h6v6h-6z"/><path fill="#306cfc" d="M11 -67h6v6h-6zM-105 -63h6v6h-6z"/><path fill="#0c48fc" d="M27 -67h6v6h-6z"/><path fill="#0c3cf0" d="M55 -67h6v6h-6zM63 -63h6v6h-6zM71 -63h6v6h-6zM95 -59h6v6h-6zM-5 -11h6v6h-6zM31 -11h6v6h-6zM-9 -7h14v6h-14zM19 25h14v6h-14zM147 29h6v6h-6z"/><path fill="#183cf0" d="M59 -67h6v6h-6zM75 -67h6v6h-6zM43 -23h6v6h-6zM39 -15h6v6h-6zM35 -11h6v6h-6z"/><path fill="#546cfc" d="M119 -67h6v6h-6z"/><path fill="#e4e4fc" d="M123 -67h6v6h-6zM55 -43h6v6h-6zM51 -39h10v6h-10zM51 -35h10v6h-10zM47 -31h14v6h-14zM47 -27h10v6h-10zM51 -23h6v6h-6z"/><path fill="#a8c0fc" d="M-117 -63h6v6h-6zM-117 -59h6v6h-6zM-117 -55h6v6h-6zM35 -39h6v6h-6z"/><path fill="#d8e4fc" d="M-109 -63h6v6h-6zM119 -59h6v6h-6zM-101 -55h6v6h-6zM-101 -51h6v6h-6zM115 -51h6v6h-6zM51 -43h6v6h-6zM47 -35h6v6h-6zM43 -27h6v6h-6zM55 -27h6v6h-6zM55 -23h6v6h-6z"/><path fill="#2478fc" d="M3 -63h6v6h-6zM19 -63h6v6h-6zM87 -43h6v6h-6zM23 -7h6v6h-6zM11 21h10v6h-10zM-65 25h6v6h-6zM-61 29h6v6h-6zM-61 33h6v6h-6zM-61 37h6v6h-6z"/><path fill="#246cfc" d="M15 -63h6v6h-6zM23 -63h14v6h-14zM-89 -51h14v6h-14zM23 -11h6v6h-6zM-69 25h6v6h-6zM-65 29h6v6h-6z"/><path fill="#2484fc" d="M35 -63h6v6h-6zM-73 21h6v6h-6zM-57 33h6v6h-6z"/><path fill="#3ca8f0" d="M39 -63h6v6h-6zM47 -59h6v6h-6zM-85 -35h10v6h-10zM-85 -31h6v6h-6z"/><path fill="#3084fc" d="M43 -63h6v6h-6zM95 -43h6v6h-6zM-101 -39h6v6h-6zM99 -35h6v6h-6z"/><path fill="#9ca8fc" d="M119 -63h6v6h-6zM55 -19h6v6h-6z"/><path fill="#f0fcfc" d="M123 -63h6v6h-6zM119 -55h6v6h-6zM-81 -3h6v6h-6zM-53 -3h6v6h-6z"/><path fill="#b4ccfc" d="M-105 -59h6v6h-6zM35 -35h6v6h-6z"/><path fill="#30a8f0" d="M-5 -59h6v6h-6zM-9 -55h6v6h-6zM-9 -43h10v6h-10zM-13 -39h6v6h-6z"/><path fill="#24b4fc" d="M3 -59h6v6h-6zM-1 -55h6v6h-6zM-5 -51h10v6h-10z"/><path fill="#30b4f0" d="M7 -59h6v6h-6zM15 -59h6v6h-6zM-13 -47h18v6h-18zM-13 -43h6v6h-6z"/><path fill="#249cfc" d="M11 -59h6v6h-6z"/><path fill="#30c0f0" d="M19 -59h6v6h-6zM3 -55h6v6h-6z"/><path fill="#3cccf0" d="M23 -59h14v6h-14zM23 -55h14v6h-14zM11 -51h10v6h-10zM3 -47h6v6h-6z"/><path fill="#3cc0f0" d="M35 -59h14v6h-14zM35 -55h18v6h-18zM23 -51h18v6h-18zM51 -51h6v6h-6z"/><path fill="#1854f0" d="M51 -59h6v6h-6zM19 -11h6v6h-6zM27 -11h6v6h-6z"/><path fill="#f0f0fc" d="M-109 -55h10v6h-10zM-113 -51h10v6h-10zM123 -51h22v6h-22z"/><path fill="#78a8fc" d="M-97 -55h6v6h-6z"/><path fill="#24a8fc" d="M-5 -55h6v6h-6zM-9 -51h6v6h-6z"/><path fill="#30ccf0" d="M7 -55h18v6h-18zM3 -51h10v6h-10zM19 -51h6v6h-6z"/><path fill="#243cf0" d="M-129 -51h10v6h-10zM-129 -47h10v6h-10zM43 -19h14v6h-14zM43 -15h10v6h-10zM39 -11h14v6h-14z"/><path fill="#2448f0" d="M-121 -51h6v6h-6zM-121 -47h10v6h-10zM-129 -43h6v6h-6zM43 -7h10v6h-10z"/><path fill="#7890fc" d="M-117 -51h6v6h-6z"/><path fill="#c0e4fc" d="M-97 -51h6v6h-6zM-77 -7h6v6h-6z"/><path fill="#6cc0fc" d="M-93 -51h6v6h-6z"/><path fill="#186cfc" d="M-77 -51h6v6h-6zM19 21h6v6h-6zM-65 33h6v6h-6z"/><path fill="#48c0f0" d="M39 -51h14v6h-14z"/><path fill="#c0ccfc" d="M59 -51h22v6h-22zM39 -47h14v6h-14zM39 -43h10v6h-10zM39 -39h10v6h-10zM39 -35h10v6h-10zM35 -31h10v6h-10z"/><path fill="#3c60fc" d="M79 -51h6v6h-6z"/><path fill="#a8b4f0" d="M-113 -47h6v6h-6z"/><path fill="#c0d8fc" d="M-109 -47h6v6h-6zM47 -43h6v6h-6z"/><path fill="#b4d8fc" d="M-105 -47h10v6h-10zM-81 -7h6v6h-6z"/><path fill="#84d8f0" d="M-97 -47h6v6h-6z"/><path fill="#3cd8e4" d="M-93 -47h6v6h-6zM-45 13h6v6h-6z"/><path fill="#24b4e4" d="M-89 -47h6v6h-6z"/><path fill="#249cf0" d="M-85 -47h14v6h-14zM-57 29h6v6h-6z"/><path fill="#2484f0" d="M-73 -47h6v6h-6zM-69 21h6v6h-6z"/><path fill="#54c0f0" d="M7 -47h6v6h-6zM95 -27h6v6h-6z"/><path fill="#60c0f0" d="M11 -47h10v6h-10zM7 -43h14v6h-14z"/><path fill="#54b4f0" d="M19 -47h6v6h-6zM99 -27h6v6h-6z"/><path fill="#3c90f0" d="M23 -47h14v6h-14zM23 -43h14v6h-14zM27 -39h10v6h-10z"/><path fill="#609cf0" d="M35 -47h6v6h-6zM11 -39h6v6h-6z"/><path fill="#d8d8fc" d="M55 -47h6v6h-6zM59 -43h6v6h-6z"/><path fill="#ccccfc" d="M79 -47h6v6h-6zM79 -43h6v6h-6z"/><path fill="#d8f0fc" d="M111 -47h6v6h-6zM115 -43h6v6h-6zM123 -39h6v6h-6zM131 -35h6v6h-6zM-73 -7h6v6h-6z"/><path fill="#3048f0" d="M-125 -43h10v6h-10zM-121 -35h6v6h-6z"/><path fill="#243ce4" d="M-117 -43h6v6h-6zM71 -39h6v6h-6zM63 -35h6v6h-6zM63 -31h6v6h-6z"/><path fill="#0018d8" d="M-113 -43h6v6h-6zM-105 -31h6v6h-6zM-113 -27h6v6h-6zM19 -15h6v6h-6z"/><path fill="#1848e4" d="M-109 -43h6v6h-6zM-105 -27h6v6h-6zM135 9h6v6h-6z"/><path fill="#4884fc" d="M-105 -43h6v6h-6z"/><path fill="#54a8fc" d="M-101 -43h6v6h-6z"/><path fill="#30cce4" d="M-97 -43h6v6h-6z"/><path fill="#24ccd8" d="M-93 -43h6v6h-6zM-93 -39h10v6h-10z"/><path fill="#24d8d8" d="M-89 -43h6v6h-6z"/><path fill="#30ccd8" d="M-85 -43h6v6h-6z"/><path fill="#30c0e4" d="M-81 -43h14v6h-14zM-81 -39h10v6h-10zM35 17h6v6h-6z"/><path fill="#54a8f0" d="M19 -43h6v6h-6zM7 -39h6v6h-6z"/><path fill="#84b4fc" d="M35 -43h6v6h-6z"/><path fill="#3ca8fc" d="M91 -43h6v6h-6zM91 -31h6v6h-6zM39 -3h10v6h-10z"/><path fill="#246cf0" d="M99 -43h10v6h-10zM-105 -39h6v6h-6zM103 -39h6v6h-6zM11 -7h6v6h-6z"/><path fill="#3c84f0" d="M107 -43h6v6h-6z"/><path fill="#9cd8fc" d="M111 -43h6v6h-6zM119 -39h6v6h-6z"/><path fill="#1830e4" d="M-117 -39h6v6h-6zM-9 -27h6v6h-6zM127 25h6v6h-6zM135 25h6v6h-6zM135 29h6v6h-6z"/><path fill="#000ccc" d="M-113 -39h6v6h-6zM-113 -35h6v6h-6zM-113 -31h6v6h-6zM-117 -27h6v6h-6zM11 -23h18v6h-18zM11 -19h14v6h-14zM15 -15h6v6h-6zM-77 45h14v6h-14zM-77 49h14v6h-14zM-77 53h14v6h-14z"/><path fill="#0c24d8" d="M-109 -39h6v6h-6zM83 -39h6v6h-6zM-105 -35h6v6h-6zM-109 -27h6v6h-6zM3 -27h6v6h-6zM11 -15h6v6h-6z"/><path fill="#24c0e4" d="M-97 -39h6v6h-6zM-57 21h6v6h-6zM-57 25h6v6h-6z"/><path fill="#30c0d8" d="M-85 -39h6v6h-6zM-97 -35h6v6h-6zM-89 -35h6v6h-6zM11 17h6v6h-6zM31 17h6v6h-6z"/><path fill="#3090f0" d="M-9 -39h6v6h-6z"/><path fill="#3078f0" d="M-5 -39h6v6h-6zM-13 -35h6v6h-6z"/><path fill="#306cf0" d="M-1 -39h6v6h-6zM-9 -35h6v6h-6zM27 -7h6v6h-6z"/><path fill="#3060f0" d="M3 -39h6v6h-6zM-5 -35h14v6h-14zM-13 -31h22v6h-22zM-5 -27h6v6h-6z"/><path fill="#6084f0" d="M19 -39h6v6h-6zM11 -35h18v6h-18zM11 -31h22v6h-22z"/><path fill="#4890f0" d="M23 -39h6v6h-6zM27 -35h10v6h-10z"/><path fill="#3054e4" d="M63 -39h6v6h-6z"/><path fill="#3048e4" d="M67 -39h6v6h-6z"/><path fill="#1824d8" d="M75 -39h6v6h-6zM71 -35h6v6h-6z"/><path fill="#000cd8" d="M79 -39h6v6h-6zM75 -35h6v6h-6zM79 -31h6v6h-6zM79 -23h6v6h-6zM-5 -19h6v6h-6zM71 -19h14v6h-14zM-1 -15h6v6h-6zM7 -15h6v6h-6zM-13 -7h6v6h-6z"/><path fill="#309cfc" d="M87 -39h6v6h-6zM95 -39h6v6h-6z"/><path fill="#3cb4fc" d="M91 -39h6v6h-6zM91 -35h10v6h-10zM119 -35h6v6h-6zM95 -31h6v6h-6zM39 1h6v6h-6z"/><path fill="#2478f0" d="M99 -39h6v6h-6zM27 21h6v6h-6z"/><path fill="#489cfc" d="M107 -39h6v6h-6z"/><path fill="#48b4fc" d="M111 -39h6v6h-6zM115 -35h6v6h-6zM119 -31h6v6h-6z"/><path fill="#54b4fc" d="M115 -39h6v6h-6z"/><path fill="#0c18d8" d="M-117 -35h6v6h-6zM67 -27h6v6h-6zM79 -27h6v6h-6z"/><path fill="#0018cc" d="M-109 -35h6v6h-6zM-117 -31h6v6h-6zM-109 -31h6v6h-6zM23 -19h6v6h-6z"/><path fill="#246ce4" d="M-101 -35h6v6h-6zM-105 -23h6v6h-6z"/><path fill="#30c0cc" d="M-93 -35h6v6h-6zM-93 -31h6v6h-6z"/><path fill="#4878f0" d="M7 -35h6v6h-6z"/><path fill="#183ce4" d="M67 -35h6v6h-6z"/><path fill="#0000cc" d="M79 -35h6v6h-6zM75 -31h6v6h-6zM-21 -27h14v6h-14zM-21 -23h34v6h-34zM-21 -19h18v6h-18zM-1 -19h14v6h-14zM-21 -15h14v6h-14zM3 -15h6v6h-6zM-17 -11h10v6h-10z"/><path fill="#0c30e4" d="M83 -35h6v6h-6zM83 -31h10v6h-10zM83 -27h10v6h-10zM83 -23h10v6h-10zM39 -19h6v6h-6zM-5 -15h6v6h-6zM23 -15h6v6h-6zM15 -11h6v6h-6zM143 21h6v6h-6z"/><path fill="#1854e4" d="M87 -35h6v6h-6zM-109 -23h6v6h-6z"/><path fill="#3084f0" d="M103 -35h6v6h-6z"/><path fill="#60b4fc" d="M107 -35h6v6h-6zM103 -27h6v6h-6z"/><path fill="#54c0fc" d="M111 -35h6v6h-6zM115 -31h6v6h-6z"/><path fill="#a8d8fc" d="M127 -35h6v6h-6zM-73 -19h6v6h-6zM-73 -15h6v6h-6zM-73 -11h6v6h-6z"/><path fill="#0c3cd8" d="M-101 -31h6v6h-6z"/><path fill="#30b4d8" d="M-97 -31h6v6h-6z"/><path fill="#3cb4e4" d="M-89 -31h6v6h-6z"/><path fill="#2454e4" d="M-17 -31h6v6h-6z"/><path fill="#5478f0" d="M7 -31h6v6h-6z"/><path fill="#5490f0" d="M31 -31h6v6h-6z"/><path fill="#6c84f0" d="M59 -31h6v6h-6z"/><path fill="#1830d8" d="M67 -31h6v6h-6z"/><path fill="#0c0cd8" d="M71 -31h6v6h-6z"/><path fill="#3c9cfc" d="M99 -31h6v6h-6z"/><path fill="#4890fc" d="M103 -31h6v6h-6z"/><path fill="#6cccfc" d="M107 -31h6v6h-6z"/><path fill="#78d8fc" d="M111 -31h6v6h-6z"/><path fill="#2460e4" d="M-101 -27h6v6h-6zM91 -27h6v6h-6z"/><path fill="#6cc0a8" d="M-89 -27h6v6h-6z"/><path fill="#48a8e4" d="M-85 -27h6v6h-6z"/><path fill="#3c9cf0" d="M-81 -27h6v6h-6z"/><path fill="#2448e4" d="M-1 -27h6v6h-6z"/><path fill="#2430d8" d="M7 -27h6v6h-6z"/><path fill="#6078f0" d="M11 -27h18v6h-18z"/><path fill="#3c60e4" d="M27 -27h6v6h-6z"/><path fill="#0024e4" d="M31 -27h10v6h-10zM27 -23h18v6h-18zM27 -19h14v6h-14zM27 -15h10v6h-10zM139 25h6v6h-6zM23 29h10v6h-10zM139 29h6v6h-6zM23 33h6v6h-6zM-77 41h14v6h-14z"/><path fill="#849cf0" d="M39 -27h6v6h-6z"/><path fill="#3c54e4" d="M59 -27h6v6h-6z"/><path fill="#183cd8" d="M63 -27h6v6h-6z"/><path fill="#0000d8" d="M71 -27h10v6h-10zM67 -23h14v6h-14zM-9 -15h6v6h-6z"/><path fill="#84d8fc" d="M107 -27h6v6h-6z"/><path fill="#9ce4fc" d="M111 -27h6v6h-6zM111 -23h14v6h-14z"/><path fill="#90e4fc" d="M115 -27h6v6h-6z"/><path fill="#78ccfc" d="M119 -27h6v6h-6z"/><path fill="#4890c0" d="M-101 -23h6v6h-6z"/><path fill="#84cc84" d="M-97 -23h6v6h-6z"/><path fill="#c0d854" d="M-93 -23h6v6h-6z"/><path fill="#d8e454" d="M-89 -23h6v6h-6z"/><path fill="#c0e478" d="M-85 -23h6v6h-6z"/><path fill="#9cd89c" d="M-81 -23h6v6h-6z"/><path fill="#9cccf0" d="M-77 -23h6v6h-6z"/><path fill="#a8ccfc" d="M-73 -23h6v6h-6z"/><path fill="#7890cc" d="M91 -23h6v6h-6z"/><path fill="#d8f0c0" d="M95 -23h10v6h-10z"/><path fill="#d8f0b4" d="M103 -23h6v6h-6z"/><path fill="#a8e4f0" d="M107 -23h6v6h-6z"/><path fill="#3c84cc" d="M-105 -19h6v6h-6z"/><path fill="#78c090" d="M-101 -19h6v6h-6z"/><path fill="#9cd86c" d="M-97 -19h6v6h-6z"/><path fill="#ccd854" d="M-93 -19h6v6h-6z"/><path fill="#c0e46c" d="M-89 -19h6v6h-6zM-93 -15h6v6h-6z"/><path fill="#a8e490" d="M-85 -19h6v6h-6zM-89 -15h6v6h-6z"/><path fill="#9cccfc" d="M-77 -19h6v6h-6zM-77 -15h6v6h-6zM-77 -11h6v6h-6z"/><path fill="#d8e4c0" d="M91 -19h6v6h-6z"/><path fill="#e4f0c0" d="M95 -19h6v6h-6z"/><path fill="#e4f0b4" d="M99 -19h6v6h-6zM95 -15h6v6h-6zM95 -11h6v6h-6zM91 -7h14v6h-14zM95 -3h14v6h-14zM99 1h14v6h-14zM103 5h10v6h-10z"/><path fill="#f0f0a8" d="M103 -19h10v6h-10zM99 -15h6v6h-6zM99 -11h6v6h-6zM115 -11h6v6h-6zM115 -7h6v6h-6zM107 -3h10v6h-10z"/><path fill="#c0f0e4" d="M115 -19h6v6h-6z"/><path fill="#f0f0c0" d="M119 -19h6v6h-6zM119 -15h10v6h-10zM119 -11h10v6h-10z"/><path fill="#9ce49c" d="M-85 -15h6v6h-6zM-89 -11h10v6h-10z"/><path fill="#e4f0e4" d="M-69 -15h6v6h-6zM-69 -11h6v6h-6z"/><path fill="#f0fce4" d="M-65 -15h6v6h-6zM-65 -11h14v6h-14zM-69 -7h14v6h-14z"/><path fill="#0c24e4" d="M35 -15h6v6h-6zM-9 -11h6v6h-6zM3 -11h6v6h-6z"/><path fill="#000ce4" d="M71 -15h14v6h-14zM75 -11h10v6h-10zM79 -7h6v6h-6zM119 13h6v6h-6zM111 17h22v6h-22zM139 17h6v6h-6zM111 21h18v6h-18zM111 25h14v6h-14zM111 29h14v6h-14zM111 33h14v6h-14z"/><path fill="#f0f09c" d="M103 -15h10v6h-10zM103 -11h6v6h-6zM111 -11h6v6h-6zM107 -7h10v6h-10z"/><path fill="#9cd8f0" d="M-81 -11h6v6h-6z"/><path fill="#4884d8" d="M15 -7h6v6h-6zM31 -3h6v6h-6z"/><path fill="#3078e4" d="M19 -7h6v6h-6z"/><path fill="#ccf0e4" d="M-85 -3h6v6h-6z"/><path fill="#fcfce4" d="M-65 -3h6v6h-6zM-61 1h6v6h-6z"/><path fill="#fcfcf0" d="M-61 -3h6v6h-6zM-73 1h6v6h-6zM-57 1h6v6h-6zM-81 5h6v6h-6z"/><path fill="#9cf0d8" d="M-49 -3h6v6h-6z"/><path fill="#489ccc" d="M7 -3h6v6h-6z"/><path fill="#6cc09c" d="M11 -3h6v6h-6z"/><path fill="#a8d86c" d="M15 -3h6v6h-6z"/><path fill="#c0d860" d="M19 -3h6v6h-6z"/><path fill="#a8c078" d="M23 -3h6v6h-6z"/><path fill="#a8b46c" d="M27 -3h6v6h-6z"/><path fill="#3c90fc" d="M35 -3h6v6h-6z"/><path fill="#e4e4b4" d="M115 -3h6v6h-6z"/><path fill="#e4e4c0" d="M119 -3h10v6h-10zM111 1h14v6h-14zM111 5h6v6h-6z"/><path fill="#cce4c0" d="M127 -3h6v6h-6z"/><path fill="#84ccc0" d="M131 -3h10v6h-10zM135 1h14v6h-14zM139 5h14v6h-14z"/><path fill="#fcfccc" d="M-69 1h6v6h-6z"/><path fill="#fcfcd8" d="M-65 1h6v6h-6z"/><path fill="#e4fcf0" d="M-53 1h6v6h-6z"/><path fill="#90f0d8" d="M-49 1h6v6h-6z"/><path fill="#6cf0d8" d="M-45 1h6v6h-6z"/><path fill="#48e4fc" d="M-41 1h6v6h-6zM-41 5h6v6h-6z"/><path fill="#3ce4fc" d="M-37 1h6v6h-6zM-37 5h6v6h-6z"/><path fill="#84d884" d="M7 1h6v6h-6z"/><path fill="#90e478" d="M11 1h6v6h-6z"/><path fill="#b4e460" d="M15 1h6v6h-6z"/><path fill="#e4f03c" d="M19 1h6v6h-6z"/><path fill="#e4e430" d="M23 1h10v6h-10z"/><path fill="#b4cc60" d="M31 1h6v6h-6z"/><path fill="#48b4f0" d="M35 1h6v6h-6zM39 5h6v6h-6z"/><path fill="#84b4cc" d="M127 1h6v6h-6z"/><path fill="#78ccc0" d="M131 1h6v6h-6z"/><path fill="#fcfcc0" d="M-77 5h6v6h-6z"/><path fill="#f0f084" d="M-73 5h6v6h-6zM-65 5h6v6h-6zM-81 9h6v6h-6z"/><path fill="#f0f078" d="M-69 5h6v6h-6zM-77 9h6v6h-6z"/><path fill="#e4f078" d="M-61 5h6v6h-6zM-73 13h6v6h-6z"/><path fill="#e4f084" d="M-57 5h6v6h-6z"/><path fill="#b4f0c0" d="M-53 5h6v6h-6z"/><path fill="#78f0cc" d="M-49 5h6v6h-6z"/><path fill="#60e4e4" d="M-45 5h6v6h-6z"/><path fill="#a8f060" d="M11 5h6v6h-6z"/><path fill="#b4f054" d="M15 5h6v6h-6zM23 5h6v6h-6z"/><path fill="#ccf048" d="M19 5h6v6h-6z"/><path fill="#b4e454" d="M27 5h6v6h-6z"/><path fill="#90e490" d="M31 5h6v6h-6z"/><path fill="#60cccc" d="M35 5h6v6h-6z"/><path fill="#78c0c0" d="M135 5h6v6h-6zM143 9h10v6h-10z"/><path fill="#f0f06c" d="M-73 9h10v6h-10zM-77 13h6v6h-6z"/><path fill="#d8f078" d="M-65 9h6v6h-6z"/><path fill="#ccf054" d="M-61 9h6v6h-6z"/><path fill="#d8f048" d="M-57 9h6v6h-6z"/><path fill="#90f090" d="M-53 9h6v6h-6z"/><path fill="#60f0c0" d="M-49 9h6v6h-6z"/><path fill="#54f0cc" d="M-45 9h6v6h-6z"/><path fill="#48e4f0" d="M-41 9h6v6h-6z"/><path fill="#84e484" d="M11 9h14v6h-14z"/><path fill="#90f06c" d="M23 9h6v6h-6z"/><path fill="#90e484" d="M27 9h6v6h-6z"/><path fill="#6ce4b4" d="M31 9h6v6h-6z"/><path fill="#60e4c0" d="M35 9h6v6h-6z"/><path fill="#54d8cc" d="M39 9h6v6h-6zM35 13h6v6h-6z"/><path fill="#30ccfc" d="M43 9h10v6h-10zM43 13h10v6h-10zM-41 17h6v6h-6zM39 17h14v6h-14zM-45 21h6v6h-6zM39 21h10v6h-10z"/><path fill="#0024f0" d="M123 9h14v6h-14z"/><path fill="#6ca8cc" d="M139 9h6v6h-6z"/><path fill="#a8f084" d="M-69 13h6v6h-6z"/><path fill="#78f09c" d="M-65 13h6v6h-6z"/><path fill="#84f084" d="M-61 13h6v6h-6z"/><path fill="#a8f06c" d="M-57 13h6v6h-6z"/><path fill="#3ce4c0" d="M-53 13h6v6h-6z"/><path fill="#3ce4cc" d="M-49 13h6v6h-6z"/><path fill="#3cd8fc" d="M-41 13h6v6h-6z"/><path fill="#48e4c0" d="M7 13h10v6h-10z"/><path fill="#48d8c0" d="M15 13h10v6h-10zM-57 17h6v6h-6z"/><path fill="#60d8a8" d="M23 13h6v6h-6z"/><path fill="#54d8b4" d="M27 13h6v6h-6zM-69 17h14v6h-14z"/><path fill="#48d8cc" d="M31 13h6v6h-6z"/><path fill="#3cd8f0" d="M39 13h6v6h-6z"/><path fill="#0018e4" d="M123 13h10v6h-10zM135 13h14v6h-14zM131 17h10v6h-10zM143 17h6v6h-6zM139 21h6v6h-6zM123 29h6v6h-6z"/><path fill="#0018f0" d="M131 13h6v6h-6z"/><path fill="#6cd8a8" d="M-73 17h6v6h-6z"/><path fill="#24e4cc" d="M-53 17h6v6h-6z"/><path fill="#24d8e4" d="M-49 17h6v6h-6zM-53 21h10v6h-10z"/><path fill="#30d8fc" d="M-45 17h6v6h-6z"/><path fill="#30a8e4" d="M15 17h10v6h-10zM31 21h6v6h-6z"/><path fill="#48b4cc" d="M23 17h6v6h-6z"/><path fill="#3cc0d8" d="M27 17h6v6h-6z"/><path fill="#0c48f0" d="M147 17h6v6h-6zM147 21h6v6h-6zM31 25h6v6h-6zM147 25h6v6h-6zM-77 29h6v6h-6zM151 29h6v6h-6z"/><path fill="#2490f0" d="M-65 21h10v6h-10z"/><path fill="#1860f0" d="M23 21h6v6h-6z"/><path fill="#0c18e4" d="M127 21h6v6h-6zM135 21h6v6h-6zM123 25h6v6h-6z"/><path fill="#1824e4" d="M131 21h6v6h-6z"/><path fill="#0c54f0" d="M151 21h6v6h-6zM151 25h6v6h-6zM147 33h6v6h-6zM-65 37h6v6h-6z"/><path fill="#2490fc" d="M-61 25h6v6h-6z"/><path fill="#24cce4" d="M-53 25h6v6h-6zM-53 29h6v6h-6z"/><path fill="#2430e4" d="M131 25h6v6h-6zM127 29h10v6h-10zM131 33h6v6h-6z"/><path fill="#0030e4" d="M143 25h6v6h-6zM143 29h6v6h-6zM-65 41h6v6h-6z"/><path fill="#003cf0" d="M-77 33h6v6h-6zM-77 37h14v6h-14z"/><path fill="#0048f0" d="M-73 33h6v6h-6z"/><path fill="#0c48e4" d="M135 33h6v6h-6z"/><path fill="#0c54e4" d="M139 33h10v6h-10z"/><path fill="#249c9c" d="M171 33h10v6h-10zM167 37h14v6h-14zM163 41h14v6h-14zM163 45h10v6h-10z"/><path fill="#1878cc" d="M139 37h6v6h-6z"/><path fill="#1878d8" d="M143 37h6v6h-6z"/><path fill="#186cd8" d="M147 37h6v6h-6z"/><path fill="#2490c0" d="M143 41h6v6h-6z"/><path fill="#2484c0" d="M147 41h6v6h-6z"/></g><path fill="#fff" d="M-180,-90 -127,-90 -127,-66.5 -180,-66.5Z"/><path fill="#fff" d="M-127,-90 -50,-90 -50,-56 -60,-56 -70,-60 -91,-63.5 -127,-66.5Z"/><path fill="#fff" d="M-180,-61 -138,-61 -138,-50 -180,-50Z"/><path fill="#fff" d="M-50,-90 55,-90 55,-71 -50,-71Z"/><path fill="#fff" d="M55,-90 125,-90 125,-66 55,-66Z"/><path fill="#fff" d="M120,-90 180,-90 180,-50 140,-50 125,-55 120,-60Z"/><path fill="#fff" d="M-75,-84 -10,-84 -10,-58 -55,-58 -75,-76Z"/><path fill="#fff" d="M-17,-18 -13,-27 -8,-29.5 0,-30 10,-30.5 20,-29 30,-29.5 35,-29 35,-18 20,-16.5 0,-17Z"/><path fill="#fff" d="M35,-29.5 48,-29.5 50,-26 56,-23 60,-21 53,-15.5 44,-13.5 40,-16Z"/><path fill="#fff" d="M75,-37 100,-37 102,-30 95,-28 80,-30Z"/><path fill="#fff" d="M-82,17 -70.8,17 -71.2,30 -72,56 -82,56Z"/><path fill="#fff" d="M50,-49 60,-51.5 90,-53 120,-53 130,-45 122,-38 110,-36 100,-30 75,-37 60,-38 52,-40Z"/></g><path fill="#fff" d="M47,-45 49,-46.7 51.5,-47 53,-45.3 51,-44.5 51.5,-42.5 53,-42 53.8,-40.5 53,-39.3 54,-37.5 51,-36.7 49,-37.5 49.3,-40.3 48,-42 47.5,-43ZM28,-41.3 28.5,-43.5 29.7,-45.2 31.5,-46.6 33.5,-46 33.5,-44.5 36.5,-45.3 38.2,-46.9 39,-46 37.5,-44.7 40,-43.5 41.5,-41.5 38,-40.9 35,-42 33,-41.9 31,-41.1Z"/></g>
<g id="mJJA"><g clip-path="url(#landclip)"><g filter="url(#bl)"><path fill="#243090" d="M-93 -87h6v6h-6zM-109 -83h18v6h-18zM-109 -79h14v6h-14z"/><path fill="#24309c" d="M-89 -87h6v6h-6zM-113 -83h6v6h-6zM-93 -83h6v6h-6zM-121 -79h10v6h-10zM-97 -79h6v6h-6z"/><path fill="#3048c0" d="M-85 -87h6v6h-6zM-85 -83h6v6h-6zM-73 -71h6v6h-6z"/><path fill="#3054c0" d="M-81 -87h50v6h-50zM-81 -83h50v6h-50zM-81 -79h42v6h-42zM-77 -75h30v6h-30zM-69 -71h10v6h-10z"/><path fill="#60f09c" d="M-33 -87h14v6h-14zM-33 -83h18v6h-18zM-33 -79h18v6h-18zM-33 -75h18v6h-18zM-33 -71h22v6h-22zM31 -71h14v6h-14zM-29 -67h18v6h-18zM27 -67h18v6h-18zM-9 -63h10v6h-10zM39 -63h6v6h-6zM67 -63h6v6h-6zM111 -63h6v6h-6zM-13 -59h14v6h-14zM111 -59h10v6h-10zM-13 -55h10v6h-10z"/><path fill="#2430b4" d="M-89 -83h6v6h-6zM-125 -79h6v6h-6zM-89 -79h6v6h-6zM-89 -75h6v6h-6z"/><path fill="#fcfcfc" d="M7 -83h22v6h-22zM91 -83h18v6h-18zM11 -79h14v6h-14zM51 -79h14v6h-14zM91 -79h18v6h-18zM135 -79h18v6h-18zM95 -39h14v6h-14zM95 -35h10v6h-10z"/><path fill="#1830a8" d="M-113 -79h6v6h-6zM-117 -75h6v6h-6z"/><path fill="#2430a8" d="M-93 -79h6v6h-6zM-121 -75h6v6h-6z"/><path fill="#2448c0" d="M-85 -79h6v6h-6zM-109 -47h6v6h-6z"/><path fill="#3cb4fc" d="M-41 -79h10v6h-10zM-49 -75h18v6h-18zM-53 -71h22v6h-22zM-57 -67h22v6h-22zM-53 -63h14v6h-14zM-61 -59h6v6h-6zM-65 -55h14v6h-14zM-61 -51h10v6h-10zM-13 -43h6v6h-6zM-101 -27h6v6h-6zM-65 21h6v6h-6z"/><path fill="#3cb4f0" d="M83 -79h6v6h-6zM-77 -63h6v6h-6zM-77 -59h6v6h-6z"/><path fill="#f0fcfc" d="M87 -79h6v6h-6zM107 -79h6v6h-6z"/><path fill="#54ccf0" d="M111 -79h6v6h-6z"/><path fill="#30ccc0" d="M-165 -75h14v6h-14zM-149 -75h6v6h-6zM-181 -71h26v6h-26zM-149 -71h6v6h-6zM-181 -67h26v6h-26zM-149 -67h6v6h-6zM-169 -63h14v6h-14zM-165 -59h6v6h-6z"/><path fill="#24ccc0" d="M-153 -75h6v6h-6zM-157 -71h10v6h-10zM-157 -67h10v6h-10zM-157 -63h14v6h-14zM-161 -59h10v6h-10z"/><path fill="#243ce4" d="M-133 -75h10v6h-10zM-129 -47h6v6h-6zM-129 -43h6v6h-6zM-113 -43h6v6h-6zM-117 -39h6v6h-6zM-121 -35h14v6h-14zM-117 -31h10v6h-10zM7 -27h6v6h-6z"/><path fill="#243ccc" d="M-125 -75h6v6h-6zM-85 -75h6v6h-6zM-89 -67h6v6h-6z"/><path fill="#1824b4" d="M-113 -75h10v6h-10z"/><path fill="#18309c" d="M-105 -75h6v6h-6z"/><path fill="#1824a8" d="M-101 -75h6v6h-6z"/><path fill="#1824c0" d="M-97 -75h6v6h-6zM-113 -71h10v6h-10z"/><path fill="#1830b4" d="M-93 -75h6v6h-6zM-121 -71h10v6h-10z"/><path fill="#3048cc" d="M-81 -75h6v6h-6zM-109 -43h6v6h-6z"/><path fill="#6ccce4" d="M19 -75h6v6h-6z"/><path fill="#6cd8d8" d="M23 -75h6v6h-6z"/><path fill="#6ce4cc" d="M27 -75h6v6h-6z"/><path fill="#d8f0fc" d="M47 -75h6v6h-6zM111 -39h10v6h-10z"/><path fill="#e4f0fc" d="M51 -75h10v6h-10zM63 -75h6v6h-6zM131 -75h18v6h-18zM107 -43h6v6h-6zM67 -23h14v6h-14z"/><path fill="#a8e4fc" d="M67 -75h6v6h-6zM-5 -7h6v6h-6z"/><path fill="#30b4f0" d="M71 -75h18v6h-18zM71 -71h22v6h-22zM-105 -19h6v6h-6z"/><path fill="#48c0f0" d="M87 -75h6v6h-6zM107 -75h6v6h-6z"/><path fill="#54c0f0" d="M91 -75h18v6h-18z"/><path fill="#30c0f0" d="M111 -75h18v6h-18zM111 -71h18v6h-18zM119 -67h6v6h-6z"/><path fill="#b4e4fc" d="M127 -75h6v6h-6zM-9 -7h6v6h-6z"/><path fill="#d8e4fc" d="M147 -75h6v6h-6zM87 -51h6v6h-6zM95 -51h6v6h-6zM87 -47h6v6h-6zM95 -47h6v6h-6zM107 -47h6v6h-6zM91 -43h6v6h-6zM91 -39h6v6h-6zM63 -35h6v6h-6zM67 -31h6v6h-6zM71 -27h6v6h-6zM55 -23h6v6h-6z"/><path fill="#2478fc" d="M151 -75h6v6h-6zM147 -67h6v6h-6zM147 -63h6v6h-6zM-45 17h6v6h-6zM-73 21h6v6h-6z"/><path fill="#246cfc" d="M155 -75h10v6h-10zM151 -71h18v6h-18zM151 -67h18v6h-18zM151 -63h18v6h-18zM151 -59h14v6h-14zM151 -55h10v6h-10zM39 -3h6v6h-6zM-41 1h10v6h-10zM35 1h6v6h-6zM-45 5h14v6h-14zM-49 9h14v6h-14zM-45 13h10v6h-10zM-41 17h6v6h-6zM147 21h10v6h-10zM151 25h6v6h-6zM151 29h6v6h-6z"/><path fill="#2460fc" d="M167 -75h10v6h-10zM167 -71h14v6h-14zM167 -67h14v6h-14zM167 -63h10v6h-10zM-125 -55h10v6h-10zM43 -3h6v6h-6zM-45 1h6v6h-6zM39 1h6v6h-6zM39 5h6v6h-6zM143 33h10v6h-10zM143 37h10v6h-10z"/><path fill="#3cccc0" d="M-145 -71h10v6h-10zM-145 -67h14v6h-14zM-145 -63h10v6h-10z"/><path fill="#3ca8cc" d="M-137 -71h6v6h-6z"/><path fill="#2448d8" d="M-133 -71h14v6h-14zM-81 -71h6v6h-6zM-85 -67h14v6h-14zM51 -47h6v6h-6z"/><path fill="#1824cc" d="M-105 -71h6v6h-6zM-97 -71h6v6h-6z"/><path fill="#0c24cc" d="M-101 -71h6v6h-6z"/><path fill="#1830c0" d="M-93 -71h6v6h-6z"/><path fill="#2430c0" d="M-89 -71h6v6h-6z"/><path fill="#243cd8" d="M-85 -71h6v6h-6zM-113 -47h6v6h-6zM-109 -39h6v6h-6z"/><path fill="#2448cc" d="M-77 -71h6v6h-6z"/><path fill="#3c9cf0" d="M-57 -71h6v6h-6z"/><path fill="#3cccd8" d="M11 -71h6v6h-6zM55 -67h10v6h-10zM111 -67h6v6h-6z"/><path fill="#48ccd8" d="M15 -71h6v6h-6zM51 -71h6v6h-6zM-85 -59h10v6h-10z"/><path fill="#48cccc" d="M19 -71h6v6h-6zM-97 -23h6v6h-6z"/><path fill="#54d8c0" d="M23 -71h6v6h-6z"/><path fill="#60e4a8" d="M27 -71h6v6h-6zM19 -63h6v6h-6zM119 -63h6v6h-6z"/><path fill="#60f0a8" d="M43 -71h6v6h-6zM23 -67h6v6h-6zM43 -67h6v6h-6zM43 -63h6v6h-6zM63 -63h6v6h-6zM115 -63h6v6h-6z"/><path fill="#48d8d8" d="M47 -71h6v6h-6z"/><path fill="#48cce4" d="M55 -71h10v6h-10z"/><path fill="#54cce4" d="M63 -71h6v6h-6zM-97 -31h6v6h-6z"/><path fill="#3cc0e4" d="M67 -71h6v6h-6zM-81 -63h6v6h-6zM-101 -23h6v6h-6z"/><path fill="#24b4f0" d="M91 -71h22v6h-22z"/><path fill="#30a8f0" d="M127 -71h6v6h-6z"/><path fill="#3090fc" d="M131 -71h18v6h-18z"/><path fill="#3084fc" d="M147 -71h6v6h-6zM-13 -35h6v6h-6z"/><path fill="#3090c0" d="M-133 -67h14v6h-14z"/><path fill="#3084b4" d="M-121 -67h6v6h-6z"/><path fill="#3c84a8" d="M-117 -67h14v6h-14z"/><path fill="#246cb4" d="M-105 -67h6v6h-6z"/><path fill="#1854cc" d="M-101 -67h6v6h-6z"/><path fill="#1848cc" d="M-97 -67h6v6h-6z"/><path fill="#1848c0" d="M-93 -67h6v6h-6z"/><path fill="#3060d8" d="M-73 -67h6v6h-6z"/><path fill="#3090f0" d="M-69 -67h6v6h-6zM135 -63h6v6h-6z"/><path fill="#309cfc" d="M-65 -67h6v6h-6zM-73 -63h10v6h-10zM-73 -59h10v6h-10zM-105 -31h6v6h-6zM-105 -27h6v6h-6zM-109 -23h6v6h-6zM-61 17h6v6h-6zM-69 21h6v6h-6z"/><path fill="#3ce4c0" d="M3 -67h10v6h-10z"/><path fill="#3cd8c0" d="M11 -67h6v6h-6zM-101 -63h14v6h-14z"/><path fill="#48d8c0" d="M15 -67h6v6h-6zM-97 -19h6v6h-6z"/><path fill="#54e4b4" d="M19 -67h6v6h-6zM3 -63h6v6h-6zM59 -63h6v6h-6zM-101 -59h10v6h-10z"/><path fill="#3ce4cc" d="M47 -67h6v6h-6z"/><path fill="#3cd8d8" d="M51 -67h6v6h-6z"/><path fill="#48d8cc" d="M63 -67h6v6h-6zM55 -63h6v6h-6z"/><path fill="#54d8b4" d="M67 -67h6v6h-6z"/><path fill="#48c0d8" d="M71 -67h6v6h-6zM83 -67h6v6h-6z"/><path fill="#48b4d8" d="M75 -67h10v6h-10z"/><path fill="#9cd878" d="M87 -67h6v6h-6z"/><path fill="#6ccca8" d="M91 -67h6v6h-6z"/><path fill="#3cb4d8" d="M95 -67h6v6h-6z"/><path fill="#30b4d8" d="M99 -67h6v6h-6z"/><path fill="#54ccc0" d="M103 -67h6v6h-6z"/><path fill="#60d8a8" d="M107 -67h6v6h-6z"/><path fill="#30c0e4" d="M115 -67h6v6h-6zM123 -67h6v6h-6z"/><path fill="#48a8d8" d="M127 -67h6v6h-6z"/><path fill="#2484fc" d="M131 -67h18v6h-18zM139 -63h10v6h-10zM-49 13h6v6h-6zM-69 17h6v6h-6z"/><path fill="#3cd8b4" d="M-137 -63h6v6h-6z"/><path fill="#3cd8a8" d="M-133 -63h14v6h-14zM-137 -59h10v6h-10z"/><path fill="#48d89c" d="M-121 -63h6v6h-6z"/><path fill="#60e484" d="M-117 -63h6v6h-6z"/><path fill="#60f084" d="M-113 -63h10v6h-10z"/><path fill="#54e49c" d="M-105 -63h6v6h-6z"/><path fill="#3ccce4" d="M-85 -63h6v6h-6z"/><path fill="#30a8fc" d="M-65 -63h6v6h-6zM-105 -23h6v6h-6zM-57 17h6v6h-6zM-61 25h6v6h-6z"/><path fill="#48e4c0" d="M7 -63h10v6h-10zM47 -63h6v6h-6z"/><path fill="#48e4b4" d="M15 -63h6v6h-6z"/><path fill="#6cf09c" d="M23 -63h6v6h-6zM35 -63h6v6h-6z"/><path fill="#78f090" d="M27 -63h10v6h-10z"/><path fill="#48e4cc" d="M51 -63h6v6h-6z"/><path fill="#a8f060" d="M71 -63h6v6h-6zM99 -63h6v6h-6zM123 -63h6v6h-6zM3 -59h6v6h-6zM11 -59h6v6h-6zM119 -59h6v6h-6zM39 -55h6v6h-6zM-93 -35h6v6h-6zM-89 -27h6v6h-6zM-89 -19h6v6h-6zM-93 -15h6v6h-6z"/><path fill="#b4f048" d="M75 -63h10v6h-10z"/><path fill="#c0f048" d="M83 -63h6v6h-6zM-89 -35h10v6h-10zM-81 -23h10v6h-10z"/><path fill="#f0f024" d="M87 -63h10v6h-10zM87 -59h10v6h-10zM23 -55h6v6h-6z"/><path fill="#d8f030" d="M95 -63h6v6h-6zM19 -59h6v6h-6z"/><path fill="#9cf060" d="M103 -63h6v6h-6zM103 -59h6v6h-6zM-89 -23h6v6h-6z"/><path fill="#84f084" d="M107 -63h6v6h-6zM43 -59h6v6h-6zM107 -59h6v6h-6zM43 -55h10v6h-10zM-5 -51h6v6h-6zM43 -51h6v6h-6zM-1 -47h6v6h-6z"/><path fill="#c0f054" d="M127 -63h6v6h-6zM31 -59h6v6h-6zM127 -59h10v6h-10zM-97 -55h6v6h-6zM7 -55h6v6h-6zM31 -55h10v6h-10zM31 -51h10v6h-10zM-89 -31h10v6h-10zM-81 -27h6v6h-6zM-73 -23h6v6h-6zM-77 -19h10v6h-10z"/><path fill="#90cc84" d="M131 -63h6v6h-6z"/><path fill="#3cc0b4" d="M-129 -59h6v6h-6z"/><path fill="#309cd8" d="M-125 -59h6v6h-6z"/><path fill="#2478e4" d="M-121 -59h6v6h-6z"/><path fill="#54c0a8" d="M-117 -59h6v6h-6z"/><path fill="#6cf078" d="M-113 -59h6v6h-6z"/><path fill="#84f06c" d="M-109 -59h6v6h-6z"/><path fill="#84f078" d="M-105 -59h6v6h-6z"/><path fill="#6ce49c" d="M-93 -59h6v6h-6zM-9 -51h6v6h-6zM-5 -47h6v6h-6z"/><path fill="#54d8cc" d="M-89 -59h6v6h-6z"/><path fill="#3ca8fc" d="M-65 -59h6v6h-6zM-13 -39h6v6h-6z"/><path fill="#b4f060" d="M7 -59h6v6h-6zM11 -7h6v6h-6z"/><path fill="#b4f054" d="M15 -59h6v6h-6zM35 -59h6v6h-6zM99 -59h6v6h-6zM3 -55h6v6h-6zM-85 -27h6v6h-6z"/><path fill="#e4f030" d="M23 -59h6v6h-6zM95 -59h6v6h-6z"/><path fill="#ccf03c" d="M27 -59h6v6h-6z"/><path fill="#90f078" d="M39 -59h6v6h-6z"/><path fill="#78f084" d="M47 -59h6v6h-6z"/><path fill="#6cd89c" d="M51 -59h6v6h-6z"/><path fill="#3ca8c0" d="M55 -59h6v6h-6z"/><path fill="#48cca8" d="M59 -59h6v6h-6z"/><path fill="#54d8a8" d="M63 -59h6v6h-6z"/><path fill="#48b4b4" d="M67 -59h6v6h-6z"/><path fill="#84c078" d="M71 -59h6v6h-6z"/><path fill="#a8d854" d="M75 -59h10v6h-10z"/><path fill="#b4e454" d="M83 -59h6v6h-6zM127 -51h6v6h-6z"/><path fill="#ccf048" d="M123 -59h6v6h-6zM11 -55h6v6h-6zM-81 -35h6v6h-6zM-85 -19h6v6h-6zM-89 -15h6v6h-6zM15 -7h6v6h-6z"/><path fill="#a8e46c" d="M135 -59h6v6h-6zM-101 -55h6v6h-6zM115 -47h6v6h-6zM119 -43h6v6h-6z"/><path fill="#54b4c0" d="M139 -59h6v6h-6zM-1 -43h6v6h-6z"/><path fill="#3084d8" d="M-133 -55h6v6h-6z"/><path fill="#246cf0" d="M-129 -55h6v6h-6zM39 -15h6v6h-6zM39 -11h6v6h-6zM39 -7h6v6h-6z"/><path fill="#3078e4" d="M-117 -55h6v6h-6z"/><path fill="#90e46c" d="M-113 -55h6v6h-6zM-105 -55h6v6h-6zM127 -43h6v6h-6z"/><path fill="#9ce46c" d="M-109 -55h6v6h-6zM115 -55h6v6h-6zM131 -55h6v6h-6zM127 -47h6v6h-6z"/><path fill="#d8f048" d="M-93 -55h6v6h-6zM-85 -15h6v6h-6zM-89 -11h6v6h-6zM19 -7h10v6h-10z"/><path fill="#c0d854" d="M-89 -55h6v6h-6zM19 -51h10v6h-10z"/><path fill="#9cc06c" d="M-85 -55h10v6h-10z"/><path fill="#84b490" d="M-77 -55h6v6h-6z"/><path fill="#60a8cc" d="M-73 -55h6v6h-6z"/><path fill="#48a8f0" d="M-69 -55h6v6h-6z"/><path fill="#6cf090" d="M-5 -55h6v6h-6z"/><path fill="#9cf06c" d="M-1 -55h6v6h-6zM-1 -51h6v6h-6z"/><path fill="#d8f03c" d="M15 -55h6v6h-6zM27 -55h6v6h-6z"/><path fill="#e4f024" d="M19 -55h6v6h-6z"/><path fill="#60b49c" d="M51 -55h6v6h-6z"/><path fill="#0c3cd8" d="M55 -55h10v6h-10zM67 -55h6v6h-6z"/><path fill="#0c54d8" d="M63 -55h6v6h-6z"/><path fill="#1848d8" d="M71 -55h6v6h-6z"/><path fill="#3c6ccc" d="M75 -55h6v6h-6z"/><path fill="#4878cc" d="M79 -55h6v6h-6z"/><path fill="#5484c0" d="M83 -55h6v6h-6z"/><path fill="#d8e4a8" d="M87 -55h6v6h-6zM95 -55h6v6h-6z"/><path fill="#e4f0a8" d="M91 -55h6v6h-6z"/><path fill="#b4d8b4" d="M99 -55h6v6h-6z"/><path fill="#a8d8b4" d="M103 -55h6v6h-6z"/><path fill="#9ce4c0" d="M107 -55h6v6h-6z"/><path fill="#78f0a8" d="M111 -55h6v6h-6z"/><path fill="#e4e430" d="M119 -55h10v6h-10zM-93 -51h6v6h-6zM123 -51h6v6h-6z"/><path fill="#c0e448" d="M127 -55h6v6h-6zM123 -47h6v6h-6z"/><path fill="#84e478" d="M135 -55h6v6h-6zM131 -51h6v6h-6z"/><path fill="#84e484" d="M139 -55h10v6h-10zM135 -51h14v6h-14zM131 -47h18v6h-18zM135 -43h10v6h-10zM131 -39h14v6h-14z"/><path fill="#2448e4" d="M-129 -51h6v6h-6zM-125 -47h6v6h-6zM-125 -43h6v6h-6zM-109 -35h6v6h-6zM-109 -31h6v6h-6zM-117 -27h6v6h-6zM15 -27h6v6h-6zM-17 -15h6v6h-6z"/><path fill="#2448f0" d="M-125 -51h6v6h-6zM-1 -39h10v6h-10zM-5 -35h6v6h-6zM-13 -31h6v6h-6zM3 -31h6v6h-6zM27 5h6v6h-6z"/><path fill="#2454f0" d="M-121 -51h6v6h-6zM75 -51h10v6h-10zM-9 -35h6v6h-6zM39 -19h6v6h-6zM23 5h6v6h-6z"/><path fill="#3060e4" d="M-117 -51h6v6h-6z"/><path fill="#486ca8" d="M-113 -51h6v6h-6z"/><path fill="#48789c" d="M-109 -51h6v6h-6z"/><path fill="#54909c" d="M-105 -51h6v6h-6z"/><path fill="#90cc6c" d="M-101 -51h6v6h-6z"/><path fill="#d8e43c" d="M-97 -51h6v6h-6z"/><path fill="#f0cc18" d="M-89 -51h6v6h-6z"/><path fill="#fcb40c" d="M-85 -51h10v6h-10zM-93 -47h6v6h-6zM-93 -43h6v6h-6zM-65 -3h6v6h-6zM-73 1h6v6h-6zM-73 5h6v6h-6z"/><path fill="#fcc018" d="M-77 -51h6v6h-6zM-69 -3h6v6h-6z"/><path fill="#f0cc30" d="M-73 -51h6v6h-6z"/><path fill="#ccc060" d="M-69 -51h6v6h-6z"/><path fill="#54b4e4" d="M-65 -51h6v6h-6z"/><path fill="#9ce478" d="M3 -51h6v6h-6z"/><path fill="#84d8a8" d="M7 -51h6v6h-6z"/><path fill="#9ce484" d="M11 -51h6v6h-6zM-93 -31h6v6h-6z"/><path fill="#c0e454" d="M15 -51h6v6h-6zM27 -51h6v6h-6z"/><path fill="#a8f06c" d="M39 -51h6v6h-6z"/><path fill="#78e484" d="M47 -51h6v6h-6z"/><path fill="#3c78b4" d="M51 -51h6v6h-6z"/><path fill="#0024d8" d="M55 -51h6v6h-6z"/><path fill="#0024e4" d="M59 -51h6v6h-6zM55 -47h10v6h-10zM59 -43h6v6h-6zM135 -3h6v6h-6zM131 1h18v6h-18zM135 5h10v6h-10zM11 9h10v6h-10zM123 9h18v6h-18zM147 9h6v6h-6zM7 13h18v6h-18zM11 17h10v6h-10zM27 25h10v6h-10zM111 25h10v6h-10zM27 29h6v6h-6zM111 29h18v6h-18zM111 33h14v6h-14z"/><path fill="#0030e4" d="M63 -51h10v6h-10zM63 -47h10v6h-10zM63 -43h10v6h-10zM-61 33h10v6h-10zM-65 37h10v6h-10zM-69 41h10v6h-10zM-77 45h14v6h-14zM-77 49h14v6h-14zM-77 53h14v6h-14z"/><path fill="#0c3ce4" d="M71 -51h6v6h-6zM71 -47h6v6h-6zM15 -23h6v6h-6zM31 -23h10v6h-10zM-61 29h6v6h-6zM-65 33h6v6h-6zM-69 37h6v6h-6zM-73 41h6v6h-6z"/><path fill="#5478f0" d="M83 -51h6v6h-6zM75 -47h6v6h-6z"/><path fill="#e4e4fc" d="M91 -51h6v6h-6zM91 -47h6v6h-6zM59 -35h6v6h-6zM59 -31h10v6h-10zM55 -27h18v6h-18zM79 -23h6v6h-6z"/><path fill="#a8ccfc" d="M99 -51h6v6h-6z"/><path fill="#b4ccfc" d="M103 -51h6v6h-6zM99 -47h6v6h-6z"/><path fill="#cce4fc" d="M107 -51h6v6h-6zM79 -43h14v6h-14zM83 -39h10v6h-10z"/><path fill="#cce4cc" d="M111 -51h6v6h-6z"/><path fill="#b4e460" d="M115 -51h6v6h-6z"/><path fill="#cce43c" d="M119 -51h6v6h-6z"/><path fill="#3054e4" d="M-121 -47h6v6h-6zM-125 -39h6v6h-6zM39 -27h6v6h-6zM-9 -19h6v6h-6z"/><path fill="#3c54f0" d="M-117 -47h6v6h-6zM-121 -43h6v6h-6zM19 -31h6v6h-6z"/><path fill="#5490a8" d="M-105 -47h6v6h-6z"/><path fill="#78cc84" d="M-101 -47h6v6h-6z"/><path fill="#d8cc30" d="M-97 -47h6v6h-6z"/><path fill="#fcc000" d="M-89 -47h6v6h-6zM-53 -7h6v6h-6zM-53 -3h6v6h-6z"/><path fill="#fcc00c" d="M-85 -47h6v6h-6zM-89 -43h6v6h-6z"/><path fill="#fccc24" d="M-81 -47h18v6h-18z"/><path fill="#c0c06c" d="M-65 -47h6v6h-6z"/><path fill="#48b4f0" d="M-61 -47h6v6h-6zM-13 -47h6v6h-6z"/><path fill="#54c0d8" d="M-9 -47h6v6h-6z"/><path fill="#78d8b4" d="M3 -47h6v6h-6z"/><path fill="#60ccd8" d="M7 -47h6v6h-6z"/><path fill="#6cccd8" d="M11 -47h6v6h-6z"/><path fill="#60b4d8" d="M15 -47h6v6h-6z"/><path fill="#4890e4" d="M19 -47h10v6h-10z"/><path fill="#609cf0" d="M27 -47h6v6h-6z"/><path fill="#9cb4fc" d="M31 -47h6v6h-6zM79 -47h6v6h-6zM31 -43h6v6h-6zM67 -39h6v6h-6zM75 -39h6v6h-6z"/><path fill="#a8c0fc" d="M35 -47h6v6h-6zM35 -43h6v6h-6zM35 -39h6v6h-6zM87 -35h6v6h-6z"/><path fill="#c0ccfc" d="M39 -47h6v6h-6zM71 -31h6v6h-6zM43 -27h6v6h-6z"/><path fill="#ccd8f0" d="M43 -47h6v6h-6z"/><path fill="#a8d8d8" d="M47 -47h6v6h-6z"/><path fill="#c0d8fc" d="M83 -47h6v6h-6zM103 -47h6v6h-6zM51 -43h6v6h-6zM55 -39h6v6h-6zM79 -39h6v6h-6z"/><path fill="#ccf0d8" d="M111 -47h6v6h-6z"/><path fill="#a8e454" d="M119 -47h6v6h-6z"/><path fill="#3054f0" d="M-117 -43h6v6h-6zM-121 -39h6v6h-6zM7 -39h10v6h-10zM7 -35h18v6h-18zM7 -31h14v6h-14z"/><path fill="#60a89c" d="M-105 -43h6v6h-6z"/><path fill="#84d878" d="M-101 -43h6v6h-6z"/><path fill="#cccc30" d="M-97 -43h6v6h-6z"/><path fill="#fccc18" d="M-85 -43h6v6h-6zM-61 -7h6v6h-6z"/><path fill="#f0d83c" d="M-81 -43h10v6h-10z"/><path fill="#fcd824" d="M-73 -43h6v6h-6zM-65 -7h6v6h-6z"/><path fill="#48b4fc" d="M-9 -43h6v6h-6z"/><path fill="#48b4e4" d="M-5 -43h6v6h-6zM-105 -35h6v6h-6z"/><path fill="#60cce4" d="M7 -43h6v6h-6z"/><path fill="#54a8e4" d="M11 -43h6v6h-6z"/><path fill="#3c84f0" d="M15 -43h6v6h-6z"/><path fill="#3c90f0" d="M19 -43h6v6h-6zM35 -7h6v6h-6z"/><path fill="#4890f0" d="M23 -43h6v6h-6z"/><path fill="#78a8fc" d="M27 -43h6v6h-6z"/><path fill="#ccd8fc" d="M39 -43h14v6h-14zM75 -43h6v6h-6zM39 -39h18v6h-18zM39 -35h22v6h-22zM67 -35h6v6h-6zM39 -31h22v6h-22zM47 -27h10v6h-10z"/><path fill="#0c30e4" d="M55 -43h6v6h-6zM59 -39h6v6h-6zM-21 -27h14v6h-14zM3 -27h6v6h-6zM-21 -23h14v6h-14zM-1 -23h10v6h-10zM-21 -19h10v6h-10zM19 9h6v6h-6zM31 9h10v6h-10zM35 13h6v6h-6zM35 17h6v6h-6zM139 25h6v6h-6z"/><path fill="#789cf0" d="M71 -43h6v6h-6z"/><path fill="#f0f0fc" d="M95 -43h14v6h-14zM91 -35h6v6h-6zM71 -19h14v6h-14zM71 -15h14v6h-14zM75 -11h10v6h-10zM79 -7h6v6h-6z"/><path fill="#ccf0f0" d="M111 -43h6v6h-6z"/><path fill="#b4e4a8" d="M115 -43h6v6h-6z"/><path fill="#a8e460" d="M123 -43h6v6h-6z"/><path fill="#2430e4" d="M-113 -39h6v6h-6zM131 25h6v6h-6zM127 29h10v6h-10zM131 33h6v6h-6z"/><path fill="#6cc0a8" d="M-105 -39h6v6h-6z"/><path fill="#90e478" d="M-101 -39h6v6h-6zM-93 -19h6v6h-6z"/><path fill="#9ce460" d="M-97 -39h6v6h-6z"/><path fill="#ccd83c" d="M-93 -39h6v6h-6z"/><path fill="#d8d830" d="M-89 -39h6v6h-6z"/><path fill="#e4d830" d="M-85 -39h6v6h-6z"/><path fill="#f0e43c" d="M-81 -39h10v6h-10z"/><path fill="#3c90fc" d="M-9 -39h6v6h-6z"/><path fill="#3060f0" d="M-5 -39h6v6h-6z"/><path fill="#3c78f0" d="M19 -39h6v6h-6zM31 -11h6v6h-6z"/><path fill="#4878f0" d="M23 -39h6v6h-6zM-5 -19h6v6h-6z"/><path fill="#6084f0" d="M27 -39h6v6h-6z"/><path fill="#90a8fc" d="M31 -39h6v6h-6z"/><path fill="#90a8f0" d="M63 -39h6v6h-6z"/><path fill="#6c84f0" d="M71 -39h6v6h-6zM83 -35h6v6h-6zM79 -27h6v6h-6z"/><path fill="#e4fcfc" d="M107 -39h6v6h-6z"/><path fill="#d8f0e4" d="M119 -39h6v6h-6zM115 -35h10v6h-10z"/><path fill="#ccf0cc" d="M123 -39h6v6h-6zM131 -35h6v6h-6z"/><path fill="#b4e49c" d="M127 -39h6v6h-6zM7 -7h6v6h-6z"/><path fill="#60cccc" d="M-101 -35h6v6h-6z"/><path fill="#78d89c" d="M-97 -35h6v6h-6z"/><path fill="#243cf0" d="M-1 -35h10v6h-10zM-9 -31h14v6h-14z"/><path fill="#3c60f0" d="M23 -35h10v6h-10zM23 -31h14v6h-14zM83 -31h6v6h-6zM23 -27h14v6h-14z"/><path fill="#486cf0" d="M31 -35h6v6h-6zM79 -35h6v6h-6zM35 -31h6v6h-6zM79 -31h6v6h-6zM7 -19h6v6h-6zM3 -15h6v6h-6z"/><path fill="#849cfc" d="M35 -35h6v6h-6z"/><path fill="#909cfc" d="M71 -35h6v6h-6z"/><path fill="#546cf0" d="M75 -35h6v6h-6zM83 -27h6v6h-6z"/><path fill="#fcfcf0" d="M103 -35h6v6h-6zM95 -31h6v6h-6z"/><path fill="#f0fcf0" d="M107 -35h6v6h-6z"/><path fill="#d8f0f0" d="M111 -35h6v6h-6z"/><path fill="#e4f0e4" d="M127 -35h6v6h-6zM111 -31h14v6h-14zM115 -27h10v6h-10zM87 -23h6v6h-6zM115 -23h10v6h-10z"/><path fill="#48c0fc" d="M-101 -31h6v6h-6z"/><path fill="#183ce4" d="M-17 -31h6v6h-6zM-5 -23h6v6h-6zM7 -23h6v6h-6zM19 -23h6v6h-6zM-13 -19h6v6h-6zM3 -19h6v6h-6zM-21 -15h6v6h-6zM31 5h6v6h-6zM139 29h10v6h-10z"/><path fill="#7890f0" d="M75 -31h6v6h-6z"/><path fill="#4860f0" d="M87 -31h6v6h-6z"/><path fill="#d8d8e4" d="M91 -31h6v6h-6z"/><path fill="#f0fce4" d="M99 -31h14v6h-14zM103 -27h10v6h-10zM111 -23h6v6h-6z"/><path fill="#2454e4" d="M-113 -27h6v6h-6zM35 -27h6v6h-6zM23 -23h6v6h-6zM19 -19h6v6h-6zM27 -19h6v6h-6zM-1 -15h6v6h-6zM15 -15h6v6h-6z"/><path fill="#2478f0" d="M-109 -27h6v6h-6zM-65 25h6v6h-6z"/><path fill="#1830e4" d="M-9 -27h6v6h-6zM-1 -27h6v6h-6zM-9 -23h6v6h-6zM-1 -19h6v6h-6zM127 25h6v6h-6zM135 25h6v6h-6zM135 29h6v6h-6z"/><path fill="#183cf0" d="M-5 -27h6v6h-6zM19 5h6v6h-6z"/><path fill="#3048f0" d="M11 -27h6v6h-6z"/><path fill="#1848e4" d="M19 -27h6v6h-6zM11 -23h6v6h-6zM27 -23h6v6h-6zM39 -23h6v6h-6zM15 -19h6v6h-6zM31 -19h10v6h-10z"/><path fill="#b4c0fc" d="M75 -27h6v6h-6z"/><path fill="#6078f0" d="M87 -27h6v6h-6z"/><path fill="#f0f0e4" d="M91 -27h14v6h-14zM111 -27h6v6h-6zM91 -23h14v6h-14zM91 -19h10v6h-10z"/><path fill="#78e490" d="M-93 -23h6v6h-6z"/><path fill="#a8f054" d="M-85 -23h6v6h-6z"/><path fill="#1854f0" d="M43 -23h6v6h-6zM-69 25h6v6h-6zM147 29h6v6h-6z"/><path fill="#2460f0" d="M47 -23h10v6h-10zM43 -19h18v6h-18zM35 -15h6v6h-6zM43 -15h10v6h-10zM43 -11h10v6h-10zM43 -7h10v6h-10zM139 37h6v6h-6zM143 41h10v6h-10z"/><path fill="#d8d8fc" d="M83 -23h6v6h-6z"/><path fill="#f0f0d8" d="M103 -23h10v6h-10zM99 -19h6v6h-6zM95 -15h6v6h-6z"/><path fill="#3ccccc" d="M-101 -19h6v6h-6z"/><path fill="#3c6ce4" d="M11 -19h6v6h-6z"/><path fill="#6090f0" d="M23 -19h6v6h-6z"/><path fill="#f0f0cc" d="M103 -19h6v6h-6zM99 -15h6v6h-6zM-81 -7h6v6h-6zM-85 -3h14v6h-14zM-85 1h10v6h-10zM-85 5h6v6h-6z"/><path fill="#f0f0c0" d="M107 -19h6v6h-6zM115 -19h10v6h-10zM103 -15h10v6h-10zM119 -15h10v6h-10zM95 -11h14v6h-14zM111 -11h18v6h-18zM91 -7h14v6h-14zM107 -7h14v6h-14zM95 -3h22v6h-22zM99 1h14v6h-14zM103 5h6v6h-6z"/><path fill="#c0f060" d="M-77 -15h6v6h-6z"/><path fill="#ccf054" d="M-73 -15h6v6h-6z"/><path fill="#f0e430" d="M-69 -15h6v6h-6zM-69 -11h6v6h-6z"/><path fill="#fce424" d="M-65 -15h6v6h-6zM-65 -11h10v6h-10z"/><path fill="#3c6cf0" d="M-13 -15h6v6h-6z"/><path fill="#6cb4fc" d="M-9 -15h6v6h-6z"/><path fill="#78ccfc" d="M-5 -15h6v6h-6z"/><path fill="#84c0fc" d="M7 -15h10v6h-10zM3 -11h6v6h-6z"/><path fill="#6c9ce4" d="M19 -15h6v6h-6zM27 -15h6v6h-6z"/><path fill="#b4d8f0" d="M23 -15h6v6h-6z"/><path fill="#1854e4" d="M31 -15h6v6h-6z"/><path fill="#e4f048" d="M-85 -11h6v6h-6z"/><path fill="#d8f084" d="M-81 -11h6v6h-6z"/><path fill="#ccf084" d="M-77 -11h6v6h-6z"/><path fill="#d8f078" d="M-73 -11h6v6h-6z"/><path fill="#fcd818" d="M-57 -11h6v6h-6z"/><path fill="#9cccfc" d="M-17 -11h6v6h-6z"/><path fill="#a8d8fc" d="M-13 -11h6v6h-6z"/><path fill="#9cd8fc" d="M-9 -11h6v6h-6zM7 -11h6v6h-6z"/><path fill="#90d8fc" d="M-5 -11h6v6h-6zM-1 -7h6v6h-6z"/><path fill="#60a8f0" d="M-1 -11h6v6h-6z"/><path fill="#a8e4cc" d="M11 -11h6v6h-6z"/><path fill="#a8cc90" d="M15 -11h6v6h-6z"/><path fill="#c0e4a8" d="M19 -11h6v6h-6z"/><path fill="#ccf0a8" d="M23 -11h6v6h-6z"/><path fill="#b4d89c" d="M27 -11h6v6h-6z"/><path fill="#3078fc" d="M35 -11h6v6h-6z"/><path fill="#e4f0cc" d="M-77 -7h6v6h-6zM107 5h6v6h-6z"/><path fill="#e4f0b4" d="M-73 -7h6v6h-6z"/><path fill="#fce448" d="M-69 -7h6v6h-6z"/><path fill="#fcb400" d="M-57 -7h6v6h-6zM-57 -3h6v6h-6zM-69 1h6v6h-6zM-57 1h6v6h-6z"/><path fill="#c0f0fc" d="M-13 -7h6v6h-6z"/><path fill="#9ce4e4" d="M3 -7h6v6h-6z"/><path fill="#c0e46c" d="M27 -7h6v6h-6z"/><path fill="#6ccccc" d="M31 -7h6v6h-6zM31 -3h6v6h-6z"/><path fill="#fcd878" d="M-73 -3h6v6h-6zM-77 1h6v6h-6z"/><path fill="#fca800" d="M-61 -3h6v6h-6zM-65 1h6v6h-6z"/><path fill="#c0a848" d="M-49 -3h6v6h-6z"/><path fill="#90c090" d="M7 -3h6v6h-6z"/><path fill="#90c084" d="M11 -3h6v6h-6z"/><path fill="#a8cc6c" d="M15 -3h6v6h-6z"/><path fill="#ccd848" d="M19 -3h6v6h-6z"/><path fill="#c0d860" d="M23 -3h6v6h-6z"/><path fill="#9cd890" d="M27 -3h6v6h-6z"/><path fill="#489cf0" d="M35 -3h6v6h-6z"/><path fill="#e4e4cc" d="M115 -3h18v6h-18zM111 1h14v6h-14zM111 5h6v6h-6z"/><path fill="#546ce4" d="M131 -3h6v6h-6z"/><path fill="#fc9c00" d="M-61 1h6v6h-6z"/><path fill="#f0c00c" d="M-53 1h6v6h-6z"/><path fill="#909084" d="M-49 1h6v6h-6zM-53 5h6v6h-6z"/><path fill="#306cf0" d="M7 1h6v6h-6z"/><path fill="#306ce4" d="M11 1h6v6h-6z"/><path fill="#3c6cd8" d="M15 1h6v6h-6zM-49 5h6v6h-6z"/><path fill="#5478c0" d="M19 1h6v6h-6z"/><path fill="#486ccc" d="M23 1h6v6h-6z"/><path fill="#5490cc" d="M27 1h6v6h-6z"/><path fill="#489ce4" d="M31 1h6v6h-6z"/><path fill="#849cd8" d="M127 1h6v6h-6z"/><path fill="#f0d890" d="M-81 5h6v6h-6z"/><path fill="#fcb418" d="M-77 5h6v6h-6zM-69 5h6v6h-6zM-77 9h6v6h-6z"/><path fill="#fca818" d="M-65 5h6v6h-6z"/><path fill="#f0b40c" d="M-61 5h6v6h-6z"/><path fill="#d8b424" d="M-57 5h6v6h-6z"/><path fill="#1848f0" d="M11 5h6v6h-6zM35 5h6v6h-6zM23 9h10v6h-10zM39 9h10v6h-10zM143 21h6v6h-6zM143 25h6v6h-6zM135 33h6v6h-6z"/><path fill="#0c30f0" d="M15 5h6v6h-6z"/><path fill="#0018e4" d="M143 5h10v6h-10zM139 9h10v6h-10zM123 13h18v6h-18zM143 13h6v6h-6zM19 17h6v6h-6zM131 17h10v6h-10zM111 21h10v6h-10zM139 21h6v6h-6zM23 25h6v6h-6zM119 25h6v6h-6zM23 29h6v6h-6zM23 33h6v6h-6z"/><path fill="#fcb424" d="M-81 9h6v6h-6zM-73 9h10v6h-10zM-77 13h6v6h-6z"/><path fill="#d8a848" d="M-65 9h6v6h-6z"/><path fill="#ccc03c" d="M-61 9h6v6h-6z"/><path fill="#c0c048" d="M-57 9h6v6h-6z"/><path fill="#4884cc" d="M-53 9h6v6h-6z"/><path fill="#0c3cf0" d="M47 9h6v6h-6zM39 13h14v6h-14zM39 17h14v6h-14zM39 21h10v6h-10zM-77 29h18v6h-18zM-77 33h14v6h-14zM171 33h10v6h-10zM-77 37h10v6h-10zM167 37h14v6h-14zM-77 41h6v6h-6zM163 41h14v6h-14zM163 45h10v6h-10z"/><path fill="#f0a830" d="M-73 13h6v6h-6z"/><path fill="#909c84" d="M-69 13h6v6h-6z"/><path fill="#3c84e4" d="M-65 13h6v6h-6z"/><path fill="#549cc0" d="M-61 13h6v6h-6z"/><path fill="#78b49c" d="M-57 13h6v6h-6z"/><path fill="#3ca8f0" d="M-53 13h6v6h-6z"/><path fill="#0c24e4" d="M23 13h6v6h-6zM31 13h6v6h-6zM143 17h6v6h-6z"/><path fill="#0c24d8" d="M27 13h6v6h-6z"/><path fill="#000ce4" d="M119 13h6v6h-6zM139 13h6v6h-6zM111 17h22v6h-22zM139 17h6v6h-6zM119 21h10v6h-10z"/><path fill="#4890d8" d="M-73 17h6v6h-6z"/><path fill="#2490fc" d="M-65 17h6v6h-6zM-49 17h6v6h-6zM-57 25h6v6h-6z"/><path fill="#24a8fc" d="M-53 17h6v6h-6z"/><path fill="#0018d8" d="M23 17h6v6h-6zM11 21h26v6h-26zM19 25h6v6h-6zM19 29h6v6h-6zM19 33h6v6h-6z"/><path fill="#000cd8" d="M27 17h10v6h-10zM11 25h10v6h-10zM15 29h6v6h-6zM15 33h6v6h-6z"/><path fill="#186cfc" d="M147 17h6v6h-6zM-53 21h14v6h-14z"/><path fill="#3cc0fc" d="M-61 21h6v6h-6z"/><path fill="#249cfc" d="M-57 21h6v6h-6z"/><path fill="#0c18e4" d="M127 21h6v6h-6zM135 21h6v6h-6zM123 25h6v6h-6z"/><path fill="#1824e4" d="M131 21h6v6h-6z"/><path fill="#0c48f0" d="M-73 25h6v6h-6z"/><path fill="#0c60fc" d="M-53 25h6v6h-6z"/><path fill="#1860fc" d="M147 25h6v6h-6z"/><path fill="#0c48e4" d="M-57 29h6v6h-6z"/><path fill="#0c54fc" d="M-53 29h6v6h-6z"/><path fill="#1854fc" d="M139 33h6v6h-6z"/></g><path fill="#fff" d="M-180,-60.5 -140,-60.5 -140,-50 -180,-50Z"/><path fill="#fff" d="M-75,-84 -10,-84 -10,-58 -55,-58 -75,-76Z"/><path fill="#fff" d="M-17,-18 -13,-27 -8,-29.5 0,-30 10,-30.5 20,-29 30,-29.5 35,-29 35,-18 20,-16.5 0,-17Z"/><path fill="#fff" d="M35,-29.5 48,-29.5 50,-26 56,-23 60,-21 53,-15.5 44,-13.5 40,-16Z"/><path fill="#fff" d="M75,-37 100,-37 102,-30 95,-28 80,-30Z"/><path fill="#fff" d="M-82,17 -70.8,17 -71.2,30 -72,56 -82,56Z"/><path fill="#fff" d="M-76,41 -60,41 -60,56 -76,56Z"/><path fill="#fff" d="M-180,-90 180,-90 180,-79 -180,-79Z"/><path fill="#fff" d="M52,-45 62,-46.5 80,-46.5 95,-45 108,-43 104,-36 75,-37 60,-38 52,-40Z"/></g><path fill="#fff" d="M47,-45 49,-46.7 51.5,-47 53,-45.3 51,-44.5 51.5,-42.5 53,-42 53.8,-40.5 53,-39.3 54,-37.5 51,-36.7 49,-37.5 49.3,-40.3 48,-42 47.5,-43ZM28,-41.3 28.5,-43.5 29.7,-45.2 31.5,-46.6 33.5,-46 33.5,-44.5 36.5,-45.3 38.2,-46.9 39,-46 37.5,-44.7 40,-43.5 41.5,-41.5 38,-40.9 35,-42 33,-41.9 31,-41.1Z"/></g>
<g id="mSON"><g clip-path="url(#landclip)"><g filter="url(#bl)"><path fill="#0c3cfc" d="M-93 -87h18v6h-18zM-93 -83h18v6h-18zM95 -83h14v6h-14zM-93 -79h14v6h-14zM95 -79h14v6h-14zM-97 -75h18v6h-18zM95 -75h18v6h-18zM-97 -71h18v6h-18zM95 -71h18v6h-18zM-97 -67h14v6h-14zM95 -67h18v6h-18zM-97 -63h10v6h-10zM95 -63h18v6h-18zM-97 -59h14v6h-14zM35 -59h10v6h-10zM47 -59h6v6h-6zM95 -59h18v6h-18zM-97 -55h6v6h-6zM23 -55h26v6h-26zM95 -55h18v6h-18zM95 -51h6v6h-6z"/><path fill="#2454fc" d="M-77 -87h18v6h-18zM-77 -83h14v6h-14zM23 -83h6v6h-6zM-81 -79h18v6h-18zM51 -79h6v6h-6zM-77 -75h14v6h-14zM23 -75h10v6h-10zM47 -75h10v6h-10zM-81 -71h18v6h-18zM23 -71h34v6h-34zM111 -71h6v6h-6zM-81 -67h18v6h-18zM19 -67h18v6h-18zM43 -67h10v6h-10zM111 -67h6v6h-6zM-81 -63h14v6h-14zM19 -63h6v6h-6zM27 -63h10v6h-10zM115 -63h6v6h-6zM-81 -59h14v6h-14zM11 -59h6v6h-6zM115 -59h10v6h-10zM-85 -55h6v6h-6zM111 -55h6v6h-6zM-93 -51h10v6h-10zM19 -51h14v6h-14zM-93 -47h6v6h-6z"/><path fill="#3060fc" d="M-61 -87h26v6h-26zM-65 -83h34v6h-34zM7 -83h18v6h-18zM-65 -79h34v6h-34zM11 -79h14v6h-14zM-65 -75h34v6h-34zM19 -75h6v6h-6zM-65 -71h6v6h-6zM-57 -71h26v6h-26zM11 -71h14v6h-14zM-65 -67h6v6h-6zM-57 -67h22v6h-22zM3 -67h18v6h-18zM115 -67h6v6h-6zM-69 -63h10v6h-10zM-53 -63h14v6h-14zM3 -63h18v6h-18zM-69 -59h14v6h-14zM-69 -55h18v6h-18zM-69 -51h18v6h-18zM-65 -47h10v6h-10zM-117 -31h6v6h-6z"/><path fill="#2460fc" d="M-37 -87h18v6h-18zM-33 -83h18v6h-18zM-33 -79h18v6h-18zM-33 -75h18v6h-18zM-33 -71h22v6h-22zM-29 -67h18v6h-18zM147 -67h6v6h-6zM-9 -63h10v6h-10zM143 -63h14v6h-14zM-13 -59h14v6h-14zM7 -59h6v6h-6zM135 -59h10v6h-10zM151 -59h10v6h-10zM-81 -55h14v6h-14zM-13 -55h14v6h-14zM115 -55h6v6h-6zM151 -55h10v6h-10zM-85 -51h6v6h-6zM-9 -51h10v6h-10zM11 -51h10v6h-10zM-89 -47h6v6h-6zM-1 -47h6v6h-6zM-97 -39h6v6h-6zM-105 -35h14v6h-14zM31 9h6v6h-6zM27 17h6v6h-6z"/><path fill="#0c30f0" d="M-113 -83h22v6h-22zM91 -83h6v6h-6zM-125 -79h34v6h-34zM91 -79h6v6h-6zM-125 -75h30v6h-30zM87 -75h10v6h-10zM-125 -71h30v6h-30zM87 -71h10v6h-10zM-125 -67h30v6h-30zM83 -67h14v6h-14zM-125 -63h30v6h-30zM55 -63h6v6h-6zM79 -63h18v6h-18zM-125 -59h30v6h-30zM51 -59h10v6h-10zM87 -59h10v6h-10zM91 -55h6v6h-6zM-97 -51h6v6h-6z"/><path fill="#d8e4fc" d="M55 -79h6v6h-6zM127 -63h6v6h-6zM43 -47h10v6h-10zM99 -47h6v6h-6zM115 -43h6v6h-6zM39 -39h6v6h-6zM55 -39h6v6h-6zM103 -39h14v6h-14zM39 -35h6v6h-6zM39 -31h6v6h-6zM43 -27h6v6h-6zM51 -27h6v6h-6z"/><path fill="#fcfcfc" d="M59 -79h6v6h-6zM135 -79h14v6h-14zM63 -75h22v6h-22zM119 -75h26v6h-26zM155 -75h10v6h-10zM167 -75h10v6h-10zM63 -71h18v6h-18zM123 -71h22v6h-22zM159 -71h22v6h-22zM67 -67h6v6h-6zM123 -67h14v6h-14zM163 -67h18v6h-18zM167 -63h10v6h-10z"/><path fill="#e4e4fc" d="M83 -79h6v6h-6zM59 -71h6v6h-6zM79 -71h6v6h-6zM103 -47h14v6h-14zM43 -43h14v6h-14zM99 -43h18v6h-18zM43 -39h14v6h-14zM43 -35h14v6h-14zM43 -31h14v6h-14zM47 -27h6v6h-6z"/><path fill="#1830f0" d="M87 -79h6v6h-6zM91 -51h6v6h-6z"/><path fill="#1848fc" d="M107 -79h6v6h-6zM-81 -75h6v6h-6zM-85 -67h6v6h-6zM35 -67h10v6h-10zM51 -67h6v6h-6zM-85 -63h6v6h-6zM23 -63h6v6h-6zM35 -63h18v6h-18zM111 -63h6v6h-6zM-85 -59h6v6h-6zM19 -59h18v6h-18zM43 -59h6v6h-6zM111 -59h6v6h-6zM-93 -55h10v6h-10zM39 -51h10v6h-10zM99 -51h6v6h-6z"/><path fill="#f0f0fc" d="M111 -79h6v6h-6zM147 -79h6v6h-6zM115 -75h6v6h-6zM143 -75h6v6h-6zM151 -75h6v6h-6zM155 -71h6v6h-6zM63 -67h6v6h-6zM71 -67h6v6h-6zM135 -67h6v6h-6z"/><path fill="#546cfc" d="M-165 -75h22v6h-22zM-133 -75h6v6h-6zM-181 -71h54v6h-54zM-181 -67h54v6h-54zM-169 -63h42v6h-42zM-165 -59h14v6h-14zM-137 -59h10v6h-10z"/><path fill="#3054fc" d="M-129 -75h6v6h-6zM-129 -71h6v6h-6zM-129 -67h6v6h-6zM-129 -63h6v6h-6z"/><path fill="#9ca8fc" d="M55 -75h6v6h-6zM63 -63h6v6h-6zM35 -43h6v6h-6z"/><path fill="#6078f0" d="M83 -75h6v6h-6zM27 -39h6v6h-6z"/><path fill="#849cfc" d="M111 -75h6v6h-6zM75 -55h6v6h-6zM31 -47h6v6h-6zM31 -39h6v6h-6zM35 -35h6v6h-6z"/><path fill="#a8c0fc" d="M147 -75h6v6h-6zM151 -71h6v6h-6zM119 -67h6v6h-6zM131 -63h6v6h-6zM79 -55h6v6h-6zM-45 1h6v6h-6z"/><path fill="#3c60fc" d="M55 -71h6v6h-6zM119 -63h6v6h-6zM-133 -55h6v6h-6zM31 -51h6v6h-6z"/><path fill="#183cf0" d="M83 -71h6v6h-6zM55 -67h6v6h-6zM59 -59h6v6h-6zM75 -59h6v6h-6zM83 -59h6v6h-6zM87 -55h6v6h-6zM43 -23h6v6h-6zM39 -19h6v6h-6zM39 -15h6v6h-6zM27 21h6v6h-6z"/><path fill="#9cb4fc" d="M115 -71h6v6h-6zM155 -67h6v6h-6zM35 -39h6v6h-6z"/><path fill="#f0fcfc" d="M119 -71h6v6h-6zM15 1h10v6h-10zM-53 5h6v6h-6z"/><path fill="#90b4fc" d="M143 -71h6v6h-6zM159 -63h6v6h-6zM95 -39h6v6h-6zM99 -35h6v6h-6z"/><path fill="#4878fc" d="M147 -71h6v6h-6z"/><path fill="#7884fc" d="M59 -67h6v6h-6z"/><path fill="#ccd8fc" d="M75 -67h6v6h-6zM39 -43h6v6h-6z"/><path fill="#546cf0" d="M79 -67h6v6h-6zM63 -59h6v6h-6zM-77 41h6v6h-6z"/><path fill="#c0d8fc" d="M139 -67h6v6h-6z"/><path fill="#306cfc" d="M143 -67h6v6h-6zM139 -63h6v6h-6zM159 -59h6v6h-6zM-113 -31h6v6h-6zM-117 -27h6v6h-6z"/><path fill="#3c78fc" d="M151 -67h6v6h-6zM127 -59h6v6h-6z"/><path fill="#e4f0fc" d="M159 -67h6v6h-6zM163 -63h6v6h-6zM11 5h14v6h-14z"/><path fill="#183cfc" d="M51 -63h6v6h-6z"/><path fill="#243cf0" d="M59 -63h6v6h-6zM47 -23h10v6h-10zM43 -19h18v6h-18zM43 -15h10v6h-10zM43 -11h10v6h-10z"/><path fill="#c0ccfc" d="M67 -63h6v6h-6zM75 -51h14v6h-14zM107 -51h6v6h-6zM39 -47h6v6h-6zM71 -47h18v6h-18zM95 -47h6v6h-6zM75 -43h14v6h-14z"/><path fill="#7884f0" d="M71 -63h6v6h-6z"/><path fill="#3048f0" d="M75 -63h6v6h-6zM67 -59h6v6h-6zM7 -27h6v6h-6zM15 -27h10v6h-10z"/><path fill="#b4c0fc" d="M123 -63h6v6h-6z"/><path fill="#5484fc" d="M135 -63h6v6h-6z"/><path fill="#3c6cfc" d="M155 -63h6v6h-6zM123 -59h6v6h-6z"/><path fill="#3048fc" d="M-129 -59h6v6h-6z"/><path fill="#246cfc" d="M3 -59h6v6h-6zM131 -59h6v6h-6zM-1 -55h10v6h-10zM131 -55h18v6h-18zM-1 -51h14v6h-14zM-69 -47h6v6h-6zM3 -47h6v6h-6zM-97 -31h6v6h-6zM15 17h6v6h-6zM-73 29h6v6h-6z"/><path fill="#1854fc" d="M15 -59h6v6h-6zM-97 -43h6v6h-6zM31 13h6v6h-6z"/><path fill="#0c30e4" d="M71 -59h6v6h-6zM-125 -43h10v6h-10zM-125 -39h10v6h-10zM63 -39h18v6h-18zM-113 -35h6v6h-6zM59 -35h22v6h-22zM59 -31h14v6h-14zM55 -27h14v6h-14zM39 -23h6v6h-6zM55 -23h6v6h-6zM35 -15h6v6h-6zM143 17h6v6h-6z"/><path fill="#4860f0" d="M79 -59h6v6h-6zM71 -55h6v6h-6z"/><path fill="#0c24e4" d="M-129 -55h6v6h-6zM-121 -47h6v6h-6zM-129 -43h6v6h-6zM27 -23h6v6h-6zM119 17h10v6h-10zM115 21h6v6h-6zM127 21h6v6h-6zM135 21h10v6h-10zM31 25h6v6h-6z"/><path fill="#0018e4" d="M-125 -55h10v6h-10zM-105 -55h10v6h-10zM-129 -47h10v6h-10zM-101 -43h6v6h-6zM123 13h26v6h-26zM111 17h6v6h-6zM127 17h14v6h-14zM111 21h6v6h-6zM19 29h6v6h-6zM19 33h6v6h-6z"/><path fill="#000cd8" d="M-117 -55h6v6h-6zM-109 -55h6v6h-6zM-109 -47h10v6h-10zM-109 -43h10v6h-10zM11 -23h14v6h-14zM11 -19h18v6h-18zM27 29h6v6h-6z"/><path fill="#0000d8" d="M-113 -55h6v6h-6zM-117 -51h6v6h-6zM-109 -51h6v6h-6z"/><path fill="#1860fc" d="M7 -55h6v6h-6zM35 9h6v6h-6zM11 21h6v6h-6zM-77 29h6v6h-6zM-65 37h6v6h-6z"/><path fill="#0c54fc" d="M11 -55h10v6h-10zM35 13h6v6h-6z"/><path fill="#0c48fc" d="M19 -55h6v6h-6z"/><path fill="#0030f0" d="M47 -55h10v6h-10zM47 -51h6v6h-6z"/><path fill="#1848f0" d="M55 -55h6v6h-6zM-37 5h6v6h-6zM43 9h6v6h-6zM31 17h6v6h-6zM23 21h6v6h-6zM-77 37h14v6h-14z"/><path fill="#7890f0" d="M59 -55h6v6h-6zM39 -27h6v6h-6z"/><path fill="#9ca8f0" d="M63 -55h6v6h-6zM59 -51h6v6h-6zM67 -51h6v6h-6zM55 -47h6v6h-6zM63 -43h6v6h-6z"/><path fill="#6c84f0" d="M67 -55h6v6h-6zM55 -51h6v6h-6z"/><path fill="#7890fc" d="M83 -55h6v6h-6z"/><path fill="#2484fc" d="M119 -55h6v6h-6zM-85 -47h18v6h-18zM-41 9h6v6h-6zM-73 25h6v6h-6zM-65 29h6v6h-6zM-57 33h6v6h-6z"/><path fill="#3090fc" d="M123 -55h6v6h-6zM131 -51h6v6h-6zM135 -47h6v6h-6zM139 -39h6v6h-6z"/><path fill="#3084fc" d="M127 -55h6v6h-6zM135 -51h14v6h-14zM139 -47h10v6h-10zM139 -43h6v6h-6z"/><path fill="#000ce4" d="M-129 -51h14v6h-14zM-105 -51h10v6h-10zM139 17h6v6h-6z"/><path fill="#0000cc" d="M-113 -51h6v6h-6zM-113 -47h6v6h-6zM-21 -27h14v6h-14zM-21 -23h34v6h-34zM-21 -19h14v6h-14zM-1 -19h14v6h-14zM-21 -15h10v6h-10z"/><path fill="#2478fc" d="M-81 -51h14v6h-14zM-93 -43h6v6h-6zM39 9h6v6h-6zM11 17h6v6h-6zM-69 29h6v6h-6zM-65 33h10v6h-10zM-61 37h6v6h-6z"/><path fill="#2448fc" d="M35 -51h6v6h-6z"/><path fill="#0c3cf0" d="M51 -51h6v6h-6zM-97 -47h6v6h-6zM-101 -39h6v6h-6zM-37 1h6v6h-6zM47 9h6v6h-6zM43 13h10v6h-10zM39 17h14v6h-14zM31 21h6v6h-6zM39 21h10v6h-10z"/><path fill="#9cb4f0" d="M63 -51h6v6h-6zM59 -47h14v6h-14zM59 -43h6v6h-6zM55 -35h6v6h-6z"/><path fill="#a8b4fc" d="M71 -51h6v6h-6z"/><path fill="#6c84fc" d="M87 -51h6v6h-6z"/><path fill="#6078fc" d="M103 -51h6v6h-6z"/><path fill="#b4ccfc" d="M111 -51h6v6h-6zM87 -47h6v6h-6zM87 -43h6v6h-6zM99 -39h6v6h-6zM103 -35h6v6h-6z"/><path fill="#3c9cfc" d="M115 -51h6v6h-6zM135 -43h6v6h-6z"/><path fill="#309cfc" d="M119 -51h6v6h-6z"/><path fill="#30a8fc" d="M123 -51h6v6h-6zM119 -47h6v6h-6zM71 -19h10v6h-10zM-41 13h6v6h-6z"/><path fill="#3ca8fc" d="M127 -51h6v6h-6zM131 -47h6v6h-6zM135 -39h6v6h-6zM-9 -11h6v6h-6zM-13 -7h6v6h-6zM147 25h6v6h-6z"/><path fill="#0c18d8" d="M-117 -47h6v6h-6zM3 -27h6v6h-6zM-9 -19h6v6h-6zM-13 -15h6v6h-6zM-17 -11h6v6h-6zM-69 53h6v6h-6z"/><path fill="#0018d8" d="M-101 -47h6v6h-6zM-117 -39h6v6h-6zM-109 -39h10v6h-10zM-117 -35h6v6h-6zM23 -23h6v6h-6zM23 25h10v6h-10zM23 29h6v6h-6zM23 33h6v6h-6z"/><path fill="#2454f0" d="M-13 -47h14v6h-14zM-13 -43h10v6h-10zM-13 -39h6v6h-6zM-41 1h6v6h-6zM-41 5h6v6h-6zM139 25h6v6h-6z"/><path fill="#3c6cf0" d="M7 -47h14v6h-14zM7 -43h14v6h-14z"/><path fill="#3060f0" d="M19 -47h10v6h-10zM19 -43h10v6h-10zM19 -39h6v6h-6zM-65 41h6v6h-6z"/><path fill="#486cf0" d="M27 -47h6v6h-6zM91 -47h6v6h-6zM31 -35h6v6h-6zM35 -31h6v6h-6zM-73 41h6v6h-6z"/><path fill="#90a8fc" d="M35 -47h6v6h-6zM51 -47h6v6h-6zM31 -43h6v6h-6z"/><path fill="#9cccfc" d="M115 -47h6v6h-6z"/><path fill="#3cb4fc" d="M123 -47h10v6h-10zM35 5h6v6h-6zM147 17h6v6h-6zM147 21h6v6h-6z"/><path fill="#0c24d8" d="M-117 -43h6v6h-6zM-9 -27h6v6h-6z"/><path fill="#000ccc" d="M-113 -43h6v6h-6zM-113 -39h6v6h-6z"/><path fill="#30b4e4" d="M-89 -43h6v6h-6zM-57 29h6v6h-6z"/><path fill="#30cce4" d="M-85 -43h6v6h-6zM-61 25h6v6h-6z"/><path fill="#30c0e4" d="M-81 -43h6v6h-6zM-89 -39h18v6h-18zM-89 -35h14v6h-14zM-89 -31h10v6h-10zM-81 -27h6v6h-6zM-65 25h6v6h-6z"/><path fill="#30a8f0" d="M-77 -43h6v6h-6z"/><path fill="#2490fc" d="M-73 -43h6v6h-6z"/><path fill="#2448f0" d="M-5 -43h6v6h-6zM-9 -39h6v6h-6zM39 -11h6v6h-6zM47 -7h6v6h-6z"/><path fill="#2448e4" d="M-1 -43h6v6h-6zM-5 -39h6v6h-6zM-13 -35h10v6h-10zM3 -31h6v6h-6z"/><path fill="#6084fc" d="M27 -43h6v6h-6z"/><path fill="#b4c0f0" d="M55 -43h6v6h-6z"/><path fill="#849cf0" d="M67 -43h6v6h-6z"/><path fill="#90a8f0" d="M71 -43h6v6h-6z"/><path fill="#84c0fc" d="M91 -43h6v6h-6z"/><path fill="#cce4fc" d="M95 -43h6v6h-6zM107 -35h6v6h-6z"/><path fill="#84ccfc" d="M119 -43h6v6h-6z"/><path fill="#3cc0fc" d="M123 -43h10v6h-10zM131 -39h6v6h-6zM-5 -11h6v6h-6zM-9 -7h10v6h-10zM39 1h6v6h-6zM39 5h6v6h-6zM151 21h6v6h-6zM151 25h6v6h-6z"/><path fill="#2484f0" d="M-93 -39h6v6h-6zM75 -23h6v6h-6z"/><path fill="#243ce4" d="M-1 -39h10v6h-10zM-5 -35h14v6h-14zM-13 -31h18v6h-18zM-5 -27h6v6h-6zM123 25h6v6h-6zM135 25h6v6h-6z"/><path fill="#3054f0" d="M7 -39h10v6h-10zM7 -35h18v6h-18zM7 -31h14v6h-14zM11 -27h6v6h-6z"/><path fill="#3c60f0" d="M23 -39h6v6h-6zM23 -35h10v6h-10zM23 -31h14v6h-14zM23 -27h18v6h-18zM-69 41h6v6h-6z"/><path fill="#183ce4" d="M59 -39h6v6h-6zM-17 -31h6v6h-6zM55 -31h6v6h-6zM67 -27h6v6h-6z"/><path fill="#3084f0" d="M79 -39h6v6h-6zM143 25h6v6h-6z"/><path fill="#3cccfc" d="M83 -39h10v6h-10zM83 -35h10v6h-10zM83 -31h14v6h-14zM83 -27h10v6h-10zM87 -23h6v6h-6z"/><path fill="#54ccfc" d="M91 -39h6v6h-6z"/><path fill="#c0e4fc" d="M115 -39h10v6h-10zM111 -35h14v6h-14z"/><path fill="#a8d8fc" d="M123 -39h6v6h-6z"/><path fill="#48c0fc" d="M127 -39h6v6h-6zM131 -35h6v6h-6zM35 1h6v6h-6z"/><path fill="#0c30d8" d="M-121 -35h6v6h-6zM-5 -19h6v6h-6zM27 -15h6v6h-6z"/><path fill="#2460f0" d="M-109 -35h6v6h-6zM43 -7h6v6h-6z"/><path fill="#2490f0" d="M-93 -35h6v6h-6z"/><path fill="#30b4fc" d="M79 -35h6v6h-6zM79 -27h6v6h-6zM79 -23h6v6h-6zM79 -19h6v6h-6zM71 -15h14v6h-14zM75 -11h10v6h-10zM79 -7h6v6h-6z"/><path fill="#48ccfc" d="M91 -35h6v6h-6zM91 -27h6v6h-6z"/><path fill="#84b4fc" d="M95 -35h6v6h-6zM95 -31h10v6h-10zM19 13h6v6h-6z"/><path fill="#b4d8fc" d="M127 -35h6v6h-6z"/><path fill="#3078fc" d="M-109 -31h6v6h-6zM-113 -27h6v6h-6zM19 17h10v6h-10z"/><path fill="#3c84f0" d="M-105 -31h6v6h-6z"/><path fill="#3c84e4" d="M-101 -31h6v6h-6zM-109 -27h6v6h-6z"/><path fill="#309cf0" d="M-93 -31h6v6h-6z"/><path fill="#3c54f0" d="M19 -31h6v6h-6z"/><path fill="#0c3ce4" d="M71 -31h6v6h-6z"/><path fill="#1854e4" d="M75 -31h6v6h-6zM35 -11h6v6h-6z"/><path fill="#30c0fc" d="M79 -31h6v6h-6zM83 -23h6v6h-6zM-41 17h6v6h-6z"/><path fill="#90c0fc" d="M103 -31h6v6h-6zM23 13h6v6h-6z"/><path fill="#a8d8f0" d="M107 -31h6v6h-6z"/><path fill="#a8e4fc" d="M111 -31h10v6h-10zM119 -27h6v6h-6z"/><path fill="#b4e4fc" d="M119 -31h6v6h-6z"/><path fill="#60b4b4" d="M-105 -27h6v6h-6z"/><path fill="#84d884" d="M-101 -27h6v6h-6zM-105 -23h6v6h-6z"/><path fill="#48cccc" d="M-89 -27h6v6h-6z"/><path fill="#3cc0d8" d="M-85 -27h6v6h-6z"/><path fill="#1830d8" d="M-1 -27h6v6h-6z"/><path fill="#1860f0" d="M71 -27h6v6h-6z"/><path fill="#2478f0" d="M75 -27h6v6h-6zM71 -23h6v6h-6zM143 21h6v6h-6z"/><path fill="#9cd8cc" d="M95 -27h6v6h-6z"/><path fill="#90c0f0" d="M99 -27h6v6h-6z"/><path fill="#84cce4" d="M103 -27h6v6h-6z"/><path fill="#84e4d8" d="M107 -27h6v6h-6zM111 -23h6v6h-6z"/><path fill="#90e4e4" d="M111 -27h6v6h-6zM115 -23h6v6h-6z"/><path fill="#9ce4fc" d="M115 -27h6v6h-6z"/><path fill="#60b4a8" d="M-109 -23h6v6h-6z"/><path fill="#9ce46c" d="M-101 -23h6v6h-6z"/><path fill="#b4f054" d="M-97 -23h6v6h-6zM-101 -19h6v6h-6zM-69 -7h6v6h-6z"/><path fill="#ccf048" d="M-93 -23h6v6h-6zM-61 -7h6v6h-6zM23 -7h6v6h-6z"/><path fill="#e4f03c" d="M-89 -23h14v6h-14zM-89 -19h10v6h-10zM-93 -15h10v6h-10zM-65 -3h6v6h-6zM-65 1h6v6h-6z"/><path fill="#60e4a8" d="M-77 -23h6v6h-6zM-73 17h6v6h-6z"/><path fill="#48e4c0" d="M-73 -23h6v6h-6zM-77 -15h6v6h-6zM-53 21h6v6h-6z"/><path fill="#0024e4" d="M31 -23h10v6h-10zM27 -19h14v6h-14zM31 -15h6v6h-6zM123 9h14v6h-14zM11 25h14v6h-14zM111 25h10v6h-10zM15 29h6v6h-6zM111 29h14v6h-14zM15 33h6v6h-6zM111 33h14v6h-14z"/><path fill="#246cf0" d="M67 -23h6v6h-6z"/><path fill="#90e4c0" d="M91 -23h6v6h-6zM103 -23h6v6h-6z"/><path fill="#c0f09c" d="M95 -23h6v6h-6zM95 -19h6v6h-6z"/><path fill="#b4f0a8" d="M99 -23h6v6h-6zM-77 -7h6v6h-6z"/><path fill="#84e4cc" d="M107 -23h6v6h-6z"/><path fill="#c0e4d8" d="M119 -23h6v6h-6z"/><path fill="#90e46c" d="M-105 -19h6v6h-6z"/><path fill="#c0f054" d="M-97 -19h6v6h-6zM-65 -15h6v6h-6zM-65 -11h10v6h-10zM-65 -7h6v6h-6z"/><path fill="#d8f048" d="M-93 -19h6v6h-6z"/><path fill="#48e4b4" d="M-77 -19h10v6h-10zM-73 -15h6v6h-6z"/><path fill="#c0f0a8" d="M91 -19h6v6h-6z"/><path fill="#b4f09c" d="M99 -19h6v6h-6zM95 -15h6v6h-6z"/><path fill="#90f0a8" d="M103 -19h6v6h-6z"/><path fill="#84f0b4" d="M107 -19h6v6h-6z"/><path fill="#ccf0c0" d="M115 -19h6v6h-6z"/><path fill="#e4f0c0" d="M119 -19h6v6h-6zM119 -15h10v6h-10zM111 -11h18v6h-18zM111 -7h10v6h-10zM-57 -3h6v6h-6z"/><path fill="#f0f030" d="M-85 -15h6v6h-6zM-89 -11h10v6h-10z"/><path fill="#a8f06c" d="M-69 -15h6v6h-6z"/><path fill="#2460e4" d="M-9 -15h6v6h-6zM-13 -11h6v6h-6z"/><path fill="#3090f0" d="M-5 -15h6v6h-6zM39 -7h6v6h-6z"/><path fill="#0c30cc" d="M-1 -15h10v6h-10z"/><path fill="#183ccc" d="M7 -15h6v6h-6z"/><path fill="#3c54a8" d="M11 -15h6v6h-6z"/><path fill="#0c24cc" d="M15 -15h6v6h-6z"/><path fill="#0c18cc" d="M19 -15h6v6h-6zM-77 53h10v6h-10z"/><path fill="#1830c0" d="M23 -15h6v6h-6z"/><path fill="#90f09c" d="M99 -15h6v6h-6z"/><path fill="#84f09c" d="M103 -15h6v6h-6zM99 -11h10v6h-10z"/><path fill="#84f0a8" d="M107 -15h6v6h-6z"/><path fill="#9ce490" d="M-81 -11h6v6h-6z"/><path fill="#54e4c0" d="M-77 -11h6v6h-6z"/><path fill="#54e4b4" d="M-73 -11h6v6h-6zM-65 13h6v6h-6z"/><path fill="#a8f060" d="M-69 -11h6v6h-6zM-69 5h10v6h-10zM-81 9h6v6h-6z"/><path fill="#c0f060" d="M-57 -11h6v6h-6z"/><path fill="#30b4d8" d="M-1 -11h6v6h-6z"/><path fill="#30b4cc" d="M3 -11h6v6h-6z"/><path fill="#60cc9c" d="M7 -11h6v6h-6z"/><path fill="#b4e448" d="M11 -11h6v6h-6z"/><path fill="#9cb460" d="M15 -11h6v6h-6z"/><path fill="#a8a860" d="M19 -11h6v6h-6z"/><path fill="#b4d854" d="M23 -11h6v6h-6z"/><path fill="#84cc78" d="M27 -11h6v6h-6z"/><path fill="#306cc0" d="M31 -11h6v6h-6z"/><path fill="#9cf0a8" d="M95 -11h6v6h-6z"/><path fill="#ccf09c" d="M-81 -7h6v6h-6z"/><path fill="#90e49c" d="M-73 -7h6v6h-6z"/><path fill="#e4f0b4" d="M-57 -7h6v6h-6z"/><path fill="#e4f0e4" d="M-53 -7h6v6h-6zM-53 -3h6v6h-6z"/><path fill="#3cd8d8" d="M-1 -7h6v6h-6z"/><path fill="#3cd8cc" d="M3 -7h6v6h-6zM-57 25h6v6h-6z"/><path fill="#90e484" d="M7 -7h6v6h-6z"/><path fill="#c0f048" d="M11 -7h6v6h-6z"/><path fill="#d8f03c" d="M15 -7h6v6h-6z"/><path fill="#e4f024" d="M19 -7h6v6h-6z"/><path fill="#9cf060" d="M27 -7h6v6h-6z"/><path fill="#6cd8a8" d="M31 -7h6v6h-6z"/><path fill="#3cc0f0" d="M35 -7h6v6h-6zM151 29h6v6h-6z"/><path fill="#ccf0b4" d="M91 -7h14v6h-14zM95 -3h14v6h-14zM99 1h10v6h-10zM103 5h10v6h-10z"/><path fill="#d8f0c0" d="M107 -7h6v6h-6zM11 -3h6v6h-6zM107 -3h10v6h-10z"/><path fill="#e4f09c" d="M-85 -3h10v6h-10zM-85 1h10v6h-10zM-85 5h6v6h-6z"/><path fill="#d8f090" d="M-77 -3h6v6h-6z"/><path fill="#e4f048" d="M-73 -3h6v6h-6zM-61 -3h6v6h-6zM-61 1h6v6h-6z"/><path fill="#e4f030" d="M-69 -3h6v6h-6zM-77 5h6v6h-6z"/><path fill="#f0f0f0" d="M-49 -3h6v6h-6zM-53 1h6v6h-6z"/><path fill="#ccf0cc" d="M7 -3h6v6h-6z"/><path fill="#e4f0a8" d="M15 -3h6v6h-6z"/><path fill="#f0f078" d="M19 -3h6v6h-6z"/><path fill="#ccf084" d="M23 -3h6v6h-6z"/><path fill="#a8f09c" d="M27 -3h6v6h-6z"/><path fill="#6cd8cc" d="M31 -3h6v6h-6z"/><path fill="#3cccf0" d="M35 -3h10v6h-10z"/><path fill="#3cb4f0" d="M43 -3h6v6h-6z"/><path fill="#d8e4c0" d="M115 -3h6v6h-6z"/><path fill="#cce4c0" d="M119 -3h10v6h-10zM111 1h14v6h-14zM111 5h6v6h-6z"/><path fill="#d8f0cc" d="M127 -3h6v6h-6z"/><path fill="#d8f0f0" d="M131 -3h10v6h-10zM23 1h6v6h-6zM131 1h18v6h-18zM139 5h14v6h-14z"/><path fill="#e4f060" d="M-77 1h6v6h-6z"/><path fill="#f0f024" d="M-73 1h10v6h-10z"/><path fill="#e4f0cc" d="M-57 1h6v6h-6z"/><path fill="#f0fcf0" d="M-49 1h6v6h-6z"/><path fill="#e4fcfc" d="M7 1h10v6h-10z"/><path fill="#c0f0f0" d="M27 1h6v6h-6z"/><path fill="#84d8f0" d="M31 1h6v6h-6z"/><path fill="#d8f0b4" d="M107 1h6v6h-6z"/><path fill="#9cc0d8" d="M127 1h6v6h-6z"/><path fill="#e4f078" d="M-81 5h6v6h-6z"/><path fill="#ccf03c" d="M-73 5h6v6h-6z"/><path fill="#9cf084" d="M-61 5h6v6h-6z"/><path fill="#c0fce4" d="M-57 5h6v6h-6z"/><path fill="#d8f0fc" d="M-49 5h6v6h-6zM23 5h6v6h-6zM19 9h10v6h-10z"/><path fill="#6c9cfc" d="M-45 5h6v6h-6zM27 13h6v6h-6z"/><path fill="#b4e4f0" d="M27 5h6v6h-6z"/><path fill="#60b4fc" d="M31 5h6v6h-6z"/><path fill="#cce4f0" d="M135 5h6v6h-6zM143 9h10v6h-10z"/><path fill="#90f078" d="M-77 9h6v6h-6z"/><path fill="#84f078" d="M-73 9h6v6h-6z"/><path fill="#84f084" d="M-69 9h6v6h-6zM-77 13h10v6h-10z"/><path fill="#78f084" d="M-65 9h6v6h-6z"/><path fill="#48f0c0" d="M-61 9h6v6h-6zM-57 13h6v6h-6zM-57 17h6v6h-6z"/><path fill="#60f0cc" d="M-57 9h6v6h-6z"/><path fill="#9cf0e4" d="M-53 9h6v6h-6z"/><path fill="#60d8f0" d="M-49 9h6v6h-6z"/><path fill="#3c9cf0" d="M-45 9h6v6h-6z"/><path fill="#ccf0fc" d="M11 9h10v6h-10z"/><path fill="#9cc0fc" d="M27 9h6v6h-6z"/><path fill="#3048e4" d="M135 9h6v6h-6zM135 29h6v6h-6zM131 33h6v6h-6z"/><path fill="#b4ccf0" d="M139 9h6v6h-6z"/><path fill="#78f090" d="M-69 13h6v6h-6z"/><path fill="#3ce4cc" d="M-61 13h6v6h-6zM-69 17h6v6h-6zM-57 21h6v6h-6z"/><path fill="#54f0c0" d="M-53 13h6v6h-6z"/><path fill="#3cd8e4" d="M-49 13h6v6h-6z"/><path fill="#30b4f0" d="M-45 13h6v6h-6z"/><path fill="#78b4fc" d="M7 13h14v6h-14z"/><path fill="#0c48f0" d="M39 13h6v6h-6zM35 17h6v6h-6zM15 21h10v6h-10zM-77 33h6v6h-6z"/><path fill="#0c18e4" d="M119 13h6v6h-6zM115 17h6v6h-6z"/><path fill="#30e4d8" d="M-65 17h10v6h-10z"/><path fill="#48f0b4" d="M-53 17h6v6h-6z"/><path fill="#48d8cc" d="M-49 17h6v6h-6z"/><path fill="#3ccce4" d="M-45 17h6v6h-6zM-45 21h6v6h-6z"/><path fill="#30d8d8" d="M-73 21h6v6h-6zM-61 21h6v6h-6z"/><path fill="#30d8e4" d="M-69 21h10v6h-10z"/><path fill="#48d8d8" d="M-49 21h6v6h-6z"/><path fill="#1830e4" d="M119 21h6v6h-6zM119 25h6v6h-6zM123 29h6v6h-6z"/><path fill="#2430e4" d="M123 21h6v6h-6zM131 21h6v6h-6z"/><path fill="#24a8f0" d="M-69 25h6v6h-6z"/><path fill="#3ce4c0" d="M-53 25h6v6h-6z"/><path fill="#303ce4" d="M127 25h10v6h-10zM127 29h10v6h-10z"/><path fill="#249cf0" d="M-61 29h6v6h-6z"/><path fill="#3cd8c0" d="M-53 29h6v6h-6z"/><path fill="#246ce4" d="M139 29h6v6h-6z"/><path fill="#3084e4" d="M143 29h6v6h-6z"/><path fill="#3ca8e4" d="M147 29h6v6h-6z"/><path fill="#1854f0" d="M-73 33h6v6h-6z"/><path fill="#186cfc" d="M-69 33h6v6h-6z"/><path fill="#3c9cc0" d="M135 33h6v6h-6z"/><path fill="#54c0b4" d="M139 33h6v6h-6z"/><path fill="#54cca8" d="M143 33h6v6h-6z"/><path fill="#54d8a8" d="M147 33h6v6h-6z"/><path fill="#24909c" d="M171 33h10v6h-10zM167 37h14v6h-14zM163 41h14v6h-14zM163 45h10v6h-10z"/><path fill="#48ccb4" d="M139 37h10v6h-10z"/><path fill="#54ccb4" d="M147 37h6v6h-6z"/><path fill="#48c0c0" d="M143 41h10v6h-10z"/><path fill="#606ce4" d="M-77 45h6v6h-6z"/><path fill="#6c78e4" d="M-73 45h6v6h-6z"/><path fill="#6c84e4" d="M-69 45h6v6h-6z"/><path fill="#2430d8" d="M-77 49h6v6h-6z"/><path fill="#303cd8" d="M-73 49h6v6h-6z"/><path fill="#3048d8" d="M-69 49h6v6h-6z"/></g><path fill="#fff" d="M-180,-90 -50,-90 -50,-60.5 -180,-60.5Z"/><path fill="#fff" d="M-180,-90 -135,-90 -135,-50 -180,-50Z"/><path fill="#fff" d="M-50,-90 180,-90 180,-63 -50,-63Z"/><path fill="#fff" d="M-75,-84 -10,-84 -10,-58 -55,-58 -75,-76Z"/><path fill="#fff" d="M-17,-18 -13,-27 -8,-29.5 0,-30 10,-30.5 20,-29 30,-29.5 35,-29 35,-18 20,-16.5 0,-17Z"/><path fill="#fff" d="M35,-29.5 48,-29.5 50,-26 56,-23 60,-21 53,-15.5 44,-13.5 40,-16Z"/><path fill="#fff" d="M75,-37 100,-37 102,-30 95,-28 80,-30Z"/><path fill="#fff" d="M-82,17 -70.8,17 -71.2,30 -72,56 -82,56Z"/><path fill="#fff" d="M46,-46 60,-49 90,-50 115,-49 120,-45 112,-36 100,-30 75,-37 60,-37 50,-38 46,-42Z"/></g><path fill="#fff" d="M47,-45 49,-46.7 51.5,-47 53,-45.3 51,-44.5 51.5,-42.5 53,-42 53.8,-40.5 53,-39.3 54,-37.5 51,-36.7 49,-37.5 49.3,-40.3 48,-42 47.5,-43ZM28,-41.3 28.5,-43.5 29.7,-45.2 31.5,-46.6 33.5,-46 33.5,-44.5 36.5,-45.3 38.2,-46.9 39,-46 37.5,-44.7 40,-43.5 41.5,-41.5 38,-40.9 35,-42 33,-41.9 31,-41.1Z"/></g>
<g id="mDJF2"><g clip-path="url(#landclip)"><g filter="url(#bl)"><path fill="#0000c0" d="M-93 -87h14v6h-14zM-105 -83h22v6h-22zM-105 -79h22v6h-22zM-105 -75h22v6h-22zM-105 -71h22v6h-22zM-105 -67h22v6h-22zM-105 -63h18v6h-18zM-105 -59h18v6h-18zM-105 -55h18v6h-18z"/><path fill="#0000cc" d="M-81 -87h14v6h-14zM-113 -83h10v6h-10zM-85 -83h18v6h-18zM11 -83h18v6h-18zM91 -83h18v6h-18zM-125 -79h22v6h-22zM-85 -79h14v6h-14zM11 -79h14v6h-14zM51 -79h14v6h-14zM83 -79h34v6h-34zM-165 -75h22v6h-22zM-133 -75h30v6h-30zM-85 -75h14v6h-14zM19 -75h14v6h-14zM47 -75h14v6h-14zM63 -75h70v6h-70zM-181 -71h78v6h-78zM-85 -71h14v6h-14zM11 -71h122v6h-122zM-181 -67h78v6h-78zM-85 -67h14v6h-14zM7 -67h122v6h-122zM-169 -63h66v6h-66zM-85 -63h14v6h-14zM7 -63h122v6h-122zM-165 -59h14v6h-14zM-137 -59h34v6h-34zM-89 -59h18v6h-18zM3 -59h62v6h-62zM71 -59h14v6h-14zM91 -59h14v6h-14zM115 -59h14v6h-14zM-133 -55h14v6h-14zM-117 -55h14v6h-14zM-89 -55h18v6h-18zM3 -55h54v6h-54zM95 -55h6v6h-6zM-105 -51h34v6h-34zM-5 -51h18v6h-18zM27 -51h6v6h-6zM35 -51h18v6h-18zM95 -51h6v6h-6zM-101 -47h30v6h-30zM-1 -47h10v6h-10zM-97 -43h30v6h-30zM-97 -39h10v6h-10zM-81 -39h10v6h-10zM-21 -27h14v6h-14zM-21 -23h42v6h-42zM27 -23h22v6h-22zM71 -23h10v6h-10zM-21 -19h74v6h-74zM-21 -15h42v6h-42zM23 -15h26v6h-26zM-17 -11h34v6h-34zM27 -11h18v6h-18zM-13 -7h18v6h-18zM35 -7h6v6h-6zM123 9h14v6h-14zM123 13h26v6h-26zM111 17h6v6h-6zM127 17h18v6h-18zM23 29h10v6h-10zM23 33h6v6h-6zM-77 49h14v6h-14zM-77 53h14v6h-14z"/><path fill="#000ccc" d="M-69 -87h50v6h-50zM-69 -83h54v6h-54zM7 -83h6v6h-6zM-73 -79h58v6h-58zM135 -79h18v6h-18zM-73 -75h58v6h-58zM131 -75h34v6h-34zM167 -75h10v6h-10zM-73 -71h14v6h-14zM-57 -71h46v6h-46zM131 -71h50v6h-50zM-73 -67h14v6h-14zM-57 -67h22v6h-22zM-29 -67h18v6h-18zM3 -67h6v6h-6zM127 -67h54v6h-54zM-73 -63h14v6h-14zM-53 -63h14v6h-14zM-9 -63h10v6h-10zM3 -63h6v6h-6zM127 -63h50v6h-50zM-73 -59h18v6h-18zM-13 -59h14v6h-14zM103 -59h6v6h-6zM127 -59h18v6h-18zM151 -59h14v6h-14zM-73 -55h22v6h-22zM-13 -55h18v6h-18zM99 -55h6v6h-6zM115 -55h6v6h-6zM131 -55h18v6h-18zM151 -55h10v6h-10zM-73 -51h22v6h-22zM-9 -51h6v6h-6zM11 -51h6v6h-6zM23 -51h6v6h-6zM135 -51h14v6h-14zM-73 -47h18v6h-18zM7 -47h6v6h-6zM135 -47h14v6h-14zM139 -43h6v6h-6zM-101 -35h10v6h-10zM-105 -31h6v6h-6zM-117 -27h10v6h-10zM19 -15h6v6h-6zM15 29h10v6h-10zM15 33h10v6h-10z"/><path fill="#0c0ccc" d="M63 -59h10v6h-10zM83 -59h6v6h-6zM111 -59h6v6h-6zM-121 -55h6v6h-6zM55 -55h6v6h-6zM71 -55h10v6h-10zM91 -55h6v6h-6zM119 -55h6v6h-6zM31 -51h6v6h-6zM-101 -43h6v6h-6zM-101 -39h6v6h-6z"/><path fill="#1818cc" d="M87 -59h6v6h-6zM59 -55h6v6h-6zM-129 -51h6v6h-6zM19 -51h6v6h-6zM51 -51h6v6h-6zM-105 -47h6v6h-6zM19 -23h6v6h-6z"/><path fill="#2430d8" d="M107 -59h6v6h-6zM-9 -47h6v6h-6zM39 -47h6v6h-6zM-1 -43h6v6h-6zM119 21h6v6h-6zM131 21h6v6h-6z"/><path fill="#303cd8" d="M63 -55h6v6h-6zM111 -55h6v6h-6zM55 -51h6v6h-6zM71 -51h6v6h-6zM99 -51h6v6h-6zM115 -51h6v6h-6zM127 -51h6v6h-6zM123 25h6v6h-6zM135 25h6v6h-6z"/><path fill="#3c48d8" d="M67 -55h6v6h-6zM103 -55h6v6h-6zM135 -39h6v6h-6z"/><path fill="#2424d8" d="M79 -55h6v6h-6z"/><path fill="#4854e4" d="M83 -55h6v6h-6zM23 -47h6v6h-6zM71 -47h6v6h-6zM123 -47h6v6h-6zM11 -43h6v6h-6z"/><path fill="#5460e4" d="M87 -55h6v6h-6zM15 -47h6v6h-6zM15 -43h10v6h-10z"/><path fill="#606ce4" d="M107 -55h6v6h-6zM83 -51h10v6h-10zM103 -51h14v6h-14zM75 -47h22v6h-22zM99 -47h14v6h-14zM119 -47h6v6h-6zM75 -43h34v6h-34z"/><path fill="#1824d8" d="M123 -55h6v6h-6zM43 -47h6v6h-6zM-9 -27h6v6h-6zM47 -23h6v6h-6zM119 25h6v6h-6zM123 29h6v6h-6z"/><path fill="#0c18cc" d="M127 -55h6v6h-6z"/><path fill="#2424cc" d="M-125 -51h10v6h-10zM-129 -47h10v6h-10zM-129 -43h10v6h-10z"/><path fill="#5454d8" d="M-117 -51h6v6h-6zM-105 -43h6v6h-6zM-125 -39h6v6h-6z"/><path fill="#7878e4" d="M-113 -51h6v6h-6zM-121 -43h6v6h-6zM-113 -35h6v6h-6z"/><path fill="#4848d8" d="M-109 -51h6v6h-6zM-109 -35h6v6h-6z"/><path fill="#3030d8" d="M15 -51h6v6h-6zM-121 -47h6v6h-6zM95 -47h6v6h-6zM123 21h6v6h-6z"/><path fill="#3c48e4" d="M59 -51h6v6h-6zM123 -51h6v6h-6zM11 -47h6v6h-6zM51 -47h6v6h-6zM51 -43h6v6h-6zM71 -43h6v6h-6zM63 -39h6v6h-6zM31 -35h6v6h-6zM47 -31h6v6h-6zM59 -27h6v6h-6zM127 25h10v6h-10z"/><path fill="#3c54e4" d="M63 -51h10v6h-10zM55 -47h18v6h-18zM127 -47h6v6h-6zM55 -43h18v6h-18zM27 -39h6v6h-6zM51 -39h14v6h-14zM87 -39h6v6h-6zM51 -35h14v6h-14zM111 -35h6v6h-6zM51 -31h14v6h-14zM47 -27h14v6h-14zM51 -23h10v6h-10zM127 29h10v6h-10zM131 33h6v6h-6z"/><path fill="#4848e4" d="M75 -51h6v6h-6zM91 -51h6v6h-6z"/><path fill="#546ce4" d="M79 -51h6v6h-6zM127 -43h6v6h-6z"/><path fill="#3048d8" d="M119 -51h6v6h-6z"/><path fill="#0018cc" d="M131 -51h6v6h-6zM139 -39h6v6h-6zM-109 -31h6v6h-6z"/><path fill="#c0c0fc" d="M-117 -47h6v6h-6zM-117 -43h10v6h-10z"/><path fill="#d8d8fc" d="M-113 -47h6v6h-6zM111 -43h10v6h-10zM119 -39h10v6h-10zM131 -35h6v6h-6z"/><path fill="#c0c0f0" d="M-109 -47h6v6h-6z"/><path fill="#303ce4" d="M-13 -47h6v6h-6zM27 -47h14v6h-14zM-13 -43h14v6h-14zM7 -43h6v6h-6zM27 -43h14v6h-14zM-13 -39h10v6h-10zM3 -39h10v6h-10zM31 -39h10v6h-10zM3 -35h14v6h-14zM3 -31h14v6h-14zM3 -27h14v6h-14zM135 29h6v6h-6z"/><path fill="#0c18d8" d="M-5 -47h6v6h-6zM135 -43h6v6h-6zM79 -39h6v6h-6zM-105 -35h6v6h-6zM-113 -31h6v6h-6zM115 21h6v6h-6zM135 21h6v6h-6zM139 25h6v6h-6z"/><path fill="#4860e4" d="M19 -47h6v6h-6zM23 -43h6v6h-6zM83 -39h6v6h-6zM103 -39h6v6h-6z"/><path fill="#2430e4" d="M47 -47h6v6h-6zM39 -43h14v6h-14zM-5 -39h10v6h-10zM39 -39h10v6h-10zM-9 -35h14v6h-14zM39 -35h10v6h-10zM-17 -31h22v6h-22zM35 -31h14v6h-14zM-1 -27h6v6h-6zM35 -27h10v6h-10z"/><path fill="#6c78e4" d="M111 -47h6v6h-6z"/><path fill="#909cf0" d="M115 -47h6v6h-6z"/><path fill="#1830d8" d="M131 -47h6v6h-6z"/><path fill="#a8a8f0" d="M-109 -43h6v6h-6zM-117 -39h6v6h-6z"/><path fill="#7884f0" d="M107 -43h6v6h-6zM119 -35h6v6h-6z"/><path fill="#ccccf0" d="M119 -43h6v6h-6zM127 -39h6v6h-6zM127 -35h6v6h-6z"/><path fill="#9c9cf0" d="M123 -43h6v6h-6zM-121 -39h6v6h-6zM-113 -39h6v6h-6zM-121 -35h10v6h-10z"/><path fill="#6c6ce4" d="M-109 -39h6v6h-6z"/><path fill="#3c3cd8" d="M-105 -39h6v6h-6z"/><path fill="#000cd8" d="M-89 -39h6v6h-6zM-93 -35h6v6h-6zM-101 -31h10v6h-10zM79 -31h6v6h-6zM79 -27h6v6h-6zM51 -19h10v6h-10zM71 -19h14v6h-14zM47 -15h6v6h-6zM15 -11h14v6h-14zM43 -11h6v6h-6zM7 -7h10v6h-10zM39 -3h6v6h-6zM143 17h6v6h-6zM139 21h6v6h-6zM23 25h14v6h-14zM-77 45h14v6h-14z"/><path fill="#0000d8" d="M-85 -39h6v6h-6zM67 -39h14v6h-14zM67 -35h18v6h-18zM63 -31h18v6h-18zM63 -27h18v6h-18zM67 -23h6v6h-6zM79 -23h6v6h-6zM3 -7h6v6h-6zM39 -7h6v6h-6zM111 21h6v6h-6zM111 25h6v6h-6zM111 29h14v6h-14zM111 33h14v6h-14z"/><path fill="#3048e4" d="M11 -39h6v6h-6zM47 -35h6v6h-6zM107 -35h6v6h-6zM111 -31h6v6h-6zM115 -27h6v6h-6z"/><path fill="#546cf0" d="M19 -39h6v6h-6zM15 -31h6v6h-6zM15 -27h6v6h-6z"/><path fill="#606cf0" d="M23 -39h6v6h-6zM19 -35h14v6h-14zM19 -31h18v6h-18zM19 -27h14v6h-14z"/><path fill="#243ce4" d="M47 -39h6v6h-6zM-13 -35h6v6h-6zM35 -35h6v6h-6zM103 -31h6v6h-6zM43 -27h6v6h-6zM107 -27h6v6h-6zM111 -23h6v6h-6z"/><path fill="#1854f0" d="M91 -39h6v6h-6z"/><path fill="#0084fc" d="M95 -39h6v6h-6zM-101 -23h6v6h-6zM91 -23h6v6h-6zM-105 -19h6v6h-6zM91 -19h6v6h-6z"/><path fill="#3c60e4" d="M99 -39h6v6h-6z"/><path fill="#849cf0" d="M107 -39h6v6h-6z"/><path fill="#b4c0f0" d="M111 -39h6v6h-6z"/><path fill="#ccd8fc" d="M115 -39h6v6h-6z"/><path fill="#8490f0" d="M131 -39h6v6h-6z"/><path fill="#0018d8" d="M-89 -35h14v6h-14zM-93 -31h6v6h-6zM-109 -27h6v6h-6zM47 -11h6v6h-6zM15 -7h6v6h-6zM31 -7h6v6h-6zM43 -7h10v6h-10zM7 -3h6v6h-6zM35 -3h6v6h-6zM43 -3h6v6h-6zM19 25h6v6h-6zM139 29h6v6h-6z"/><path fill="#5460f0" d="M15 -35h6v6h-6zM31 -27h6v6h-6z"/><path fill="#1818d8" d="M63 -35h6v6h-6zM119 17h10v6h-10zM127 21h6v6h-6z"/><path fill="#0024e4" d="M83 -35h10v6h-10zM-85 -31h6v6h-6zM83 -31h10v6h-10zM83 -27h10v6h-10zM83 -23h6v6h-6zM11 -3h6v6h-6zM7 1h6v6h-6zM143 25h6v6h-6zM143 29h6v6h-6zM-69 37h6v6h-6z"/><path fill="#0060f0" d="M91 -35h6v6h-6z"/><path fill="#0090fc" d="M95 -35h6v6h-6zM95 -31h6v6h-6zM95 -27h10v6h-10zM95 -23h6v6h-6z"/><path fill="#0c6cf0" d="M99 -35h6v6h-6zM-45 5h6v6h-6zM39 9h6v6h-6z"/><path fill="#2448e4" d="M103 -35h6v6h-6zM107 -31h6v6h-6zM111 -27h6v6h-6zM115 -23h6v6h-6z"/><path fill="#486cf0" d="M115 -35h6v6h-6z"/><path fill="#5454e4" d="M-117 -31h6v6h-6z"/><path fill="#0024d8" d="M-89 -31h6v6h-6z"/><path fill="#006cf0" d="M91 -31h6v6h-6zM-101 -27h6v6h-6z"/><path fill="#0c78fc" d="M99 -31h6v6h-6zM31 9h6v6h-6zM-73 17h18v6h-18z"/><path fill="#3054e4" d="M115 -31h10v6h-10zM119 -27h6v6h-6z"/><path fill="#003ce4" d="M-105 -27h6v6h-6zM-109 -23h6v6h-6zM-77 -23h6v6h-6z"/><path fill="#0030e4" d="M-89 -27h14v6h-14zM87 -23h6v6h-6zM27 -7h6v6h-6zM39 1h6v6h-6zM23 21h10v6h-10zM143 21h6v6h-6zM147 29h6v6h-6z"/><path fill="#1830e4" d="M-5 -27h6v6h-6z"/><path fill="#0078fc" d="M91 -27h6v6h-6zM-45 17h6v6h-6zM-45 21h6v6h-6z"/><path fill="#1848e4" d="M103 -27h6v6h-6zM107 -23h6v6h-6zM23 -7h6v6h-6zM135 33h6v6h-6z"/><path fill="#006cfc" d="M-105 -23h6v6h-6zM-41 13h6v6h-6zM-41 17h6v6h-6z"/><path fill="#18a8fc" d="M-97 -23h6v6h-6zM95 -15h6v6h-6zM-57 9h6v6h-6zM-57 13h6v6h-6zM-49 13h6v6h-6zM-53 17h6v6h-6z"/><path fill="#24c0fc" d="M-93 -23h6v6h-6zM-97 -19h10v6h-10zM-85 -3h14v6h-14zM-85 1h14v6h-14zM-85 5h14v6h-14zM15 5h6v6h-6zM-81 9h10v6h-10z"/><path fill="#24b4fc" d="M-89 -23h6v6h-6zM11 5h6v6h-6zM-53 9h6v6h-6zM15 9h6v6h-6zM-53 13h6v6h-6z"/><path fill="#186cf0" d="M-85 -23h6v6h-6zM15 17h6v6h-6z"/><path fill="#0c48e4" d="M-81 -23h6v6h-6z"/><path fill="#0c3cfc" d="M-73 -23h6v6h-6zM-73 -19h6v6h-6zM-77 -15h10v6h-10zM-77 -11h10v6h-10z"/><path fill="#0c0cd8" d="M23 -23h6v6h-6zM119 13h6v6h-6zM115 17h6v6h-6zM115 25h6v6h-6z"/><path fill="#009cfc" d="M99 -23h6v6h-6zM95 -19h10v6h-10z"/><path fill="#0c84f0" d="M103 -23h6v6h-6z"/><path fill="#7890f0" d="M119 -23h6v6h-6z"/><path fill="#0c90fc" d="M-101 -19h6v6h-6zM-45 1h6v6h-6z"/><path fill="#3cc0fc" d="M-89 -19h6v6h-6zM-85 -11h6v6h-6zM23 13h6v6h-6z"/><path fill="#3cccfc" d="M-85 -19h6v6h-6zM-89 -15h10v6h-10zM-89 -11h6v6h-6zM19 1h6v6h-6zM23 5h6v6h-6zM23 9h6v6h-6zM19 13h6v6h-6z"/><path fill="#0c48fc" d="M-77 -19h6v6h-6zM-73 -7h6v6h-6z"/><path fill="#0c9cfc" d="M103 -19h6v6h-6zM-61 9h6v6h-6zM-73 13h18v6h-18z"/><path fill="#1890f0" d="M107 -19h6v6h-6z"/><path fill="#c0e4f0" d="M115 -19h6v6h-6zM119 -3h10v6h-10zM115 1h10v6h-10z"/><path fill="#ccf0fc" d="M119 -19h6v6h-6zM119 -15h10v6h-10zM115 -11h14v6h-14zM111 -7h10v6h-10zM107 -3h10v6h-10zM107 1h10v6h-10zM107 5h10v6h-10z"/><path fill="#30c0fc" d="M-93 -15h6v6h-6zM15 1h6v6h-6z"/><path fill="#0054fc" d="M-69 -15h6v6h-6zM-69 -11h6v6h-6zM-73 21h18v6h-18zM-65 25h10v6h-10z"/><path fill="#0060fc" d="M-65 -15h6v6h-6zM-65 -11h14v6h-14zM-69 -7h14v6h-14zM35 5h10v6h-10zM35 9h6v6h-6z"/><path fill="#000ce4" d="M71 -15h14v6h-14zM75 -11h10v6h-10zM79 -7h6v6h-6zM-77 41h18v6h-18z"/><path fill="#30a8f0" d="M99 -15h10v6h-10z"/><path fill="#3cb4f0" d="M107 -15h6v6h-6zM103 -11h6v6h-6z"/><path fill="#1854fc" d="M-81 -11h6v6h-6zM-77 -7h6v6h-6z"/><path fill="#48b4f0" d="M95 -11h10v6h-10z"/><path fill="#a8e4fc" d="M111 -11h6v6h-6z"/><path fill="#1878fc" d="M-81 -7h6v6h-6zM-45 9h6v6h-6zM35 13h6v6h-6zM27 17h6v6h-6z"/><path fill="#00b4fc" d="M-57 -7h6v6h-6zM-61 -3h6v6h-6z"/><path fill="#00c0fc" d="M-53 -7h6v6h-6zM-53 -3h6v6h-6zM-61 1h6v6h-6zM-53 1h6v6h-6zM-57 5h6v6h-6z"/><path fill="#0c30e4" d="M19 -7h6v6h-6zM11 25h6v6h-6z"/><path fill="#9cd8f0" d="M91 -7h10v6h-10zM95 -3h10v6h-10zM99 1h6v6h-6z"/><path fill="#90ccf0" d="M99 -7h6v6h-6z"/><path fill="#c0e4fc" d="M107 -7h6v6h-6z"/><path fill="#18b4fc" d="M-73 -3h6v6h-6zM-77 13h6v6h-6z"/><path fill="#0cb4fc" d="M-69 -3h6v6h-6zM-49 -3h6v6h-6zM-49 1h6v6h-6zM-61 5h6v6h-6z"/><path fill="#0ca8fc" d="M-65 -3h6v6h-6zM-49 5h6v6h-6zM-69 9h10v6h-10z"/><path fill="#00ccfc" d="M-57 -3h6v6h-6zM-57 1h6v6h-6z"/><path fill="#2484f0" d="M15 -3h6v6h-6z"/><path fill="#3cb4fc" d="M19 -3h6v6h-6z"/><path fill="#30a8fc" d="M23 -3h6v6h-6zM27 5h6v6h-6z"/><path fill="#0048f0" d="M27 -3h6v6h-6zM31 1h10v6h-10zM147 17h6v6h-6zM147 21h6v6h-6zM-73 25h6v6h-6zM147 25h6v6h-6zM151 29h6v6h-6z"/><path fill="#003cf0" d="M31 -3h6v6h-6zM-77 29h18v6h-18zM-77 33h22v6h-22zM-61 37h6v6h-6z"/><path fill="#a8d8f0" d="M103 -3h6v6h-6zM103 1h6v6h-6zM103 5h6v6h-6z"/><path fill="#c0f0f0" d="M115 -3h6v6h-6z"/><path fill="#a8e4f0" d="M127 -3h6v6h-6z"/><path fill="#3cc0e4" d="M131 -3h10v6h-10zM131 1h18v6h-18zM135 5h18v6h-18z"/><path fill="#18c0fc" d="M-73 1h6v6h-6zM-73 5h6v6h-6zM-73 9h6v6h-6z"/><path fill="#0cc0fc" d="M-69 1h10v6h-10zM-69 5h10v6h-10zM-53 5h6v6h-6z"/><path fill="#0c48f0" d="M-41 1h6v6h-6zM-41 5h6v6h-6zM-41 9h6v6h-6zM31 21h6v6h-6z"/><path fill="#0c3cf0" d="M-37 1h6v6h-6zM-37 5h6v6h-6zM11 21h10v6h-10z"/><path fill="#0c60f0" d="M11 1h6v6h-6z"/><path fill="#30b4fc" d="M23 1h6v6h-6zM11 9h6v6h-6zM27 9h6v6h-6zM7 13h14v6h-14z"/><path fill="#0c54f0" d="M27 1h6v6h-6z"/><path fill="#6cc0e4" d="M127 1h6v6h-6z"/><path fill="#30ccfc" d="M19 5h6v6h-6zM19 9h6v6h-6z"/><path fill="#0c6cfc" d="M31 5h6v6h-6z"/><path fill="#24a8fc" d="M-49 9h6v6h-6z"/><path fill="#249ccc" d="M43 9h10v6h-10zM43 13h10v6h-10zM39 17h14v6h-14zM39 21h10v6h-10z"/><path fill="#1848d8" d="M135 9h6v6h-6z"/><path fill="#3ca8e4" d="M139 9h6v6h-6z"/><path fill="#3cb4e4" d="M143 9h10v6h-10z"/><path fill="#0c84fc" d="M-45 13h6v6h-6zM-49 17h6v6h-6z"/><path fill="#249cfc" d="M27 13h6v6h-6zM-53 21h6v6h-6zM-53 25h6v6h-6zM-53 29h6v6h-6z"/><path fill="#1884fc" d="M31 13h6v6h-6zM-57 29h6v6h-6z"/><path fill="#249cd8" d="M39 13h6v6h-6z"/><path fill="#1890fc" d="M-57 17h6v6h-6zM-57 21h6v6h-6zM-49 21h6v6h-6zM-57 25h6v6h-6z"/><path fill="#2484fc" d="M11 17h6v6h-6zM35 17h6v6h-6z"/><path fill="#2490fc" d="M19 17h10v6h-10z"/><path fill="#2478fc" d="M31 17h6v6h-6z"/><path fill="#0c3ce4" d="M19 21h6v6h-6z"/><path fill="#0054f0" d="M151 21h6v6h-6zM151 25h6v6h-6zM-57 33h6v6h-6z"/><path fill="#0048fc" d="M-69 25h6v6h-6zM-61 29h6v6h-6z"/><path fill="#0c24d8" d="M15 25h6v6h-6z"/><path fill="#0048e4" d="M139 33h14v6h-14z"/><path fill="#249c9c" d="M171 33h10v6h-10zM167 37h14v6h-14zM163 41h14v6h-14zM163 45h10v6h-10z"/><path fill="#0018e4" d="M-77 37h10v6h-10z"/><path fill="#0030f0" d="M-65 37h6v6h-6z"/><path fill="#1884c0" d="M139 37h6v6h-6z"/><path fill="#1878cc" d="M143 37h6v6h-6z"/><path fill="#0c6ccc" d="M147 37h6v6h-6z"/><path fill="#189cb4" d="M143 41h10v6h-10z"/></g><path fill="#fff" d="M-180,-90 -50,-90 -50,-58.5 -180,-58.5Z"/><path fill="#fff" d="M-50,-90 180,-90 180,-58 -50,-58Z"/><path fill="#fff" d="M-75,-84 -10,-84 -10,-58 -55,-58 -75,-76Z"/><path fill="#fff" d="M-17,-18 -13,-27 -8,-29.5 0,-30 10,-30.5 20,-29 30,-29.5 35,-29 35,-18 20,-16.5 0,-17Z"/><path fill="#fff" d="M35,-29.5 48,-29.5 50,-26 56,-23 60,-21 53,-15.5 44,-13.5 40,-16Z"/><path fill="#fff" d="M75,-37 100,-37 102,-30 95,-28 80,-30Z"/><path fill="#fff" d="M-82,17 -70.8,17 -71.2,30 -72,56 -82,56Z"/><path fill="#fff" d="M46,-45.5 60,-46.5 90,-47 120,-47 135,-45 126,-33 115,-31 106,-32 100,-30 75,-37 60,-38 50,-41 46,-43Z"/></g><path fill="#fff" d="M47,-45 49,-46.7 51.5,-47 53,-45.3 51,-44.5 51.5,-42.5 53,-42 53.8,-40.5 53,-39.3 54,-37.5 51,-36.7 49,-37.5 49.3,-40.3 48,-42 47.5,-43ZM28,-41.3 28.5,-43.5 29.7,-45.2 31.5,-46.6 33.5,-46 33.5,-44.5 36.5,-45.3 38.2,-46.9 39,-46 37.5,-44.7 40,-43.5 41.5,-41.5 38,-40.9 35,-42 33,-41.9 31,-41.1Z"/></g>
<g id="mMAM2"><g clip-path="url(#landclip)"><g filter="url(#bl)"><path fill="#0c54fc" d="M-93 -87h34v6h-34zM-109 -83h46v6h-46zM-109 -79h46v6h-46zM-109 -75h42v6h-42zM-105 -71h38v6h-38zM-105 -67h38v6h-38zM-101 -63h14v6h-14zM-85 -63h14v6h-14zM-97 -59h26v6h-26zM-69 33h6v6h-6z"/><path fill="#2460fc" d="M-61 -87h26v6h-26zM-65 -83h30v6h-30zM-65 -79h30v6h-30zM-65 -75h30v6h-30zM-65 -71h6v6h-6zM-57 -71h22v6h-22zM-65 -67h6v6h-6zM-57 -67h22v6h-22zM3 -67h10v6h-10zM-65 -63h6v6h-6zM-53 -63h14v6h-14zM7 -63h10v6h-10zM47 -63h6v6h-6zM-69 -59h14v6h-14zM-69 -55h18v6h-18zM-69 -51h18v6h-18zM-69 -47h14v6h-14zM7 -7h6v6h-6zM31 -7h10v6h-10zM-73 25h6v6h-6zM-69 29h6v6h-6z"/><path fill="#309cf0" d="M-37 -87h18v6h-18zM-37 -83h22v6h-22zM-37 -79h22v6h-22zM-37 -75h22v6h-22zM-37 -71h26v6h-26zM-29 -67h18v6h-18zM-9 -63h10v6h-10zM-13 -59h10v6h-10zM-13 -55h6v6h-6zM51 -55h6v6h-6zM-1 -43h6v6h-6z"/><path fill="#3060fc" d="M-113 -83h6v6h-6zM-125 -79h14v6h-14zM-133 -75h22v6h-22zM-137 -71h22v6h-22zM-137 -67h22v6h-22zM-137 -63h14v6h-14zM-137 -59h10v6h-10zM-117 -51h6v6h-6zM111 -51h6v6h-6z"/><path fill="#849cfc" d="M7 -83h22v6h-22zM11 -79h14v6h-14zM59 -79h6v6h-6zM19 -75h6v6h-6zM63 -75h18v6h-18zM63 -71h14v6h-14zM115 -55h6v6h-6z"/><path fill="#0c30f0" d="M91 -83h18v6h-18zM91 -79h22v6h-22zM87 -75h22v6h-22zM83 -71h26v6h-26zM79 -67h30v6h-30zM55 -63h10v6h-10zM75 -63h14v6h-14zM91 -63h14v6h-14zM55 -59h10v6h-10zM75 -59h10v6h-10zM55 -55h6v6h-6zM-1 -11h6v6h-6zM15 29h10v6h-10zM15 33h10v6h-10z"/><path fill="#1854fc" d="M-113 -79h6v6h-6zM-69 -75h6v6h-6zM-109 -71h6v6h-6zM-69 -71h6v6h-6zM-105 -63h6v6h-6zM-73 -63h6v6h-6zM-101 -59h6v6h-6zM-73 -59h6v6h-6zM-93 -55h10v6h-10zM-77 -55h6v6h-6zM7 -11h6v6h-6zM3 -7h6v6h-6zM-73 29h6v6h-6z"/><path fill="#2454fc" d="M51 -79h6v6h-6zM47 -75h10v6h-10zM39 -71h18v6h-18zM119 -71h6v6h-6zM23 -67h6v6h-6zM39 -67h14v6h-14zM-125 -63h10v6h-10zM-129 -59h14v6h-14zM-133 -55h6v6h-6zM-125 -55h10v6h-10zM63 -55h14v6h-14zM107 -47h6v6h-6z"/><path fill="#789cfc" d="M55 -79h6v6h-6zM83 -79h6v6h-6zM23 -75h6v6h-6zM15 -71h10v6h-10zM67 -67h6v6h-6z"/><path fill="#2454f0" d="M87 -79h6v6h-6zM39 -7h6v6h-6z"/><path fill="#0c3cfc" d="M111 -79h6v6h-6zM107 -75h14v6h-14zM31 -71h10v6h-10zM107 -71h14v6h-14zM31 -67h6v6h-6zM107 -67h10v6h-10zM87 -63h6v6h-6zM103 -63h14v6h-14zM63 -59h14v6h-14zM83 -59h14v6h-14zM99 -59h14v6h-14zM79 -55h34v6h-34zM83 -51h30v6h-30zM87 -47h22v6h-22z"/><path fill="#fcfcfc" d="M135 -79h18v6h-18zM131 -75h34v6h-34zM167 -75h10v6h-10zM127 -71h54v6h-54zM127 -67h54v6h-54zM127 -63h50v6h-50zM123 -59h22v6h-22zM151 -59h14v6h-14zM123 -55h26v6h-26zM151 -55h10v6h-10zM-57 -7h10v6h-10zM-77 -3h14v6h-14zM-57 -3h6v6h-6zM-85 1h14v6h-14zM-85 5h6v6h-6z"/><path fill="#3c6cfc" d="M-165 -75h14v6h-14zM-181 -71h30v6h-30zM-181 -67h30v6h-30zM-169 -63h18v6h-18zM-165 -59h14v6h-14zM-117 -59h6v6h-6zM115 -59h6v6h-6z"/><path fill="#4878fc" d="M-153 -75h6v6h-6zM-153 -71h6v6h-6zM-153 -67h6v6h-6zM-141 -67h6v6h-6zM15 -67h6v6h-6zM-153 -63h6v6h-6zM-141 -63h6v6h-6z"/><path fill="#5484fc" d="M-149 -75h6v6h-6zM55 -75h6v6h-6zM-149 -71h14v6h-14zM23 -71h6v6h-6zM-149 -67h10v6h-10zM19 -67h6v6h-6zM-149 -63h10v6h-10z"/><path fill="#306cfc" d="M-113 -75h6v6h-6zM-117 -71h6v6h-6zM-117 -67h6v6h-6zM-109 -67h6v6h-6zM11 -67h6v6h-6zM-117 -63h6v6h-6z"/><path fill="#486cfc" d="M27 -75h6v6h-6z"/><path fill="#6c90fc" d="M79 -75h6v6h-6z"/><path fill="#3054f0" d="M83 -75h6v6h-6zM-125 -39h10v6h-10z"/><path fill="#1848fc" d="M119 -75h6v6h-6zM27 -71h6v6h-6zM35 -67h6v6h-6zM51 -67h6v6h-6zM115 -67h6v6h-6zM51 -63h6v6h-6zM67 -63h6v6h-6zM111 -59h6v6h-6zM59 -55h6v6h-6zM75 -55h6v6h-6zM111 -55h6v6h-6zM83 -47h6v6h-6z"/><path fill="#5478fc" d="M123 -75h6v6h-6zM63 -67h6v6h-6zM71 -67h6v6h-6z"/><path fill="#e4f0fc" d="M127 -75h6v6h-6zM119 -51h6v6h-6zM143 -51h6v6h-6zM115 -47h34v6h-34zM119 -43h14v6h-14zM135 -43h10v6h-10zM127 -39h18v6h-18z"/><path fill="#3c78fc" d="M-113 -71h6v6h-6zM-109 -63h6v6h-6zM-117 -55h6v6h-6z"/><path fill="#6090fc" d="M11 -71h6v6h-6z"/><path fill="#2448fc" d="M55 -71h6v6h-6zM115 -63h6v6h-6zM-129 -55h6v6h-6z"/><path fill="#6c84fc" d="M59 -71h6v6h-6zM75 -71h6v6h-6z"/><path fill="#1848f0" d="M79 -71h6v6h-6zM11 25h10v6h-10z"/><path fill="#a8b4fc" d="M123 -71h6v6h-6zM59 -35h6v6h-6z"/><path fill="#3c84fc" d="M-113 -67h6v6h-6zM-113 -63h6v6h-6zM-113 -59h6v6h-6z"/><path fill="#1860fc" d="M-69 -67h6v6h-6zM-69 -63h6v6h-6zM-85 -55h10v6h-10zM-73 -55h6v6h-6zM-73 -51h6v6h-6zM11 -11h6v6h-6z"/><path fill="#0c48fc" d="M27 -67h6v6h-6z"/><path fill="#0c3cf0" d="M55 -67h6v6h-6zM63 -63h6v6h-6zM71 -63h6v6h-6zM95 -59h6v6h-6zM-5 -11h6v6h-6zM31 -11h6v6h-6zM-9 -7h14v6h-14zM19 25h14v6h-14zM147 29h6v6h-6z"/><path fill="#183cf0" d="M59 -67h6v6h-6zM75 -67h6v6h-6zM43 -23h6v6h-6zM39 -15h6v6h-6zM35 -11h6v6h-6z"/><path fill="#546cfc" d="M119 -67h6v6h-6z"/><path fill="#e4e4fc" d="M123 -67h6v6h-6zM55 -43h6v6h-6zM51 -39h10v6h-10zM51 -35h10v6h-10zM47 -31h14v6h-14zM47 -27h10v6h-10zM51 -23h6v6h-6z"/><path fill="#2478fc" d="M3 -63h6v6h-6zM19 -63h6v6h-6zM87 -43h6v6h-6zM23 -7h6v6h-6zM11 21h10v6h-10zM-65 25h6v6h-6zM-61 29h6v6h-6zM-61 33h6v6h-6zM-61 37h6v6h-6z"/><path fill="#246cfc" d="M15 -63h6v6h-6zM23 -63h14v6h-14zM-89 -51h14v6h-14zM23 -11h6v6h-6zM-69 25h6v6h-6zM-65 29h6v6h-6z"/><path fill="#2484fc" d="M35 -63h6v6h-6zM-73 21h6v6h-6zM-57 33h6v6h-6z"/><path fill="#3ca8f0" d="M39 -63h6v6h-6zM47 -59h6v6h-6zM-85 -35h10v6h-10zM-85 -31h6v6h-6z"/><path fill="#3084fc" d="M43 -63h6v6h-6zM-97 -55h6v6h-6zM-105 -43h6v6h-6zM95 -43h6v6h-6zM-101 -39h6v6h-6zM99 -35h6v6h-6z"/><path fill="#9ca8fc" d="M119 -63h6v6h-6zM55 -19h6v6h-6z"/><path fill="#f0fcfc" d="M123 -63h6v6h-6zM119 -55h6v6h-6zM-81 -3h6v6h-6zM-53 -3h6v6h-6z"/><path fill="#4884fc" d="M-109 -59h10v6h-10zM-113 -55h6v6h-6z"/><path fill="#30a8f0" d="M-5 -59h6v6h-6zM-9 -55h6v6h-6zM-9 -43h10v6h-10zM-13 -39h6v6h-6z"/><path fill="#24b4fc" d="M3 -59h6v6h-6zM-1 -55h6v6h-6zM-5 -51h10v6h-10z"/><path fill="#30b4f0" d="M7 -59h6v6h-6zM15 -59h6v6h-6zM-13 -47h18v6h-18zM-13 -43h6v6h-6z"/><path fill="#249cfc" d="M11 -59h6v6h-6z"/><path fill="#30c0f0" d="M19 -59h6v6h-6zM3 -55h6v6h-6zM-97 -47h6v6h-6z"/><path fill="#3cccf0" d="M23 -59h14v6h-14zM23 -55h14v6h-14zM11 -51h10v6h-10zM3 -47h6v6h-6z"/><path fill="#3cc0f0" d="M35 -59h14v6h-14zM35 -55h18v6h-18zM23 -51h18v6h-18zM51 -51h6v6h-6z"/><path fill="#1854f0" d="M51 -59h6v6h-6zM19 -11h6v6h-6zM27 -11h6v6h-6z"/><path fill="#d8e4fc" d="M119 -59h6v6h-6zM115 -51h6v6h-6zM51 -43h6v6h-6zM47 -35h6v6h-6zM43 -27h6v6h-6zM55 -27h6v6h-6zM55 -23h6v6h-6z"/><path fill="#5490fc" d="M-109 -55h6v6h-6z"/><path fill="#609cfc" d="M-105 -55h6v6h-6zM-109 -51h6v6h-6z"/><path fill="#549cfc" d="M-101 -55h6v6h-6zM-113 -51h6v6h-6z"/><path fill="#24a8fc" d="M-5 -55h6v6h-6zM-9 -51h6v6h-6z"/><path fill="#30ccf0" d="M7 -55h18v6h-18zM3 -51h10v6h-10zM19 -51h6v6h-6z"/><path fill="#243cf0" d="M-129 -51h10v6h-10zM-129 -47h10v6h-10zM43 -19h14v6h-14zM43 -15h10v6h-10zM39 -11h14v6h-14z"/><path fill="#2448f0" d="M-121 -51h6v6h-6zM-121 -47h10v6h-10zM-129 -43h6v6h-6zM43 -7h10v6h-10z"/><path fill="#54a8fc" d="M-105 -51h6v6h-6z"/><path fill="#48a8fc" d="M-101 -51h6v6h-6zM-105 -47h6v6h-6z"/><path fill="#3cb4fc" d="M-97 -51h6v6h-6zM91 -39h6v6h-6zM91 -35h10v6h-10zM119 -35h6v6h-6zM95 -31h6v6h-6zM39 1h6v6h-6z"/><path fill="#30a8fc" d="M-93 -51h6v6h-6z"/><path fill="#186cfc" d="M-77 -51h6v6h-6zM19 21h6v6h-6zM-65 33h6v6h-6z"/><path fill="#48c0f0" d="M39 -51h14v6h-14z"/><path fill="#9cb4fc" d="M55 -51h6v6h-6zM47 -23h6v6h-6z"/><path fill="#c0ccfc" d="M59 -51h22v6h-22zM39 -47h14v6h-14zM39 -43h10v6h-10zM39 -39h10v6h-10zM39 -35h10v6h-10zM35 -31h10v6h-10z"/><path fill="#3c60fc" d="M79 -51h6v6h-6z"/><path fill="#f0f0fc" d="M123 -51h22v6h-22z"/><path fill="#4878f0" d="M-113 -47h6v6h-6zM7 -35h6v6h-6z"/><path fill="#489cfc" d="M-109 -47h6v6h-6zM107 -39h6v6h-6z"/><path fill="#3ca8fc" d="M-101 -47h6v6h-6zM91 -43h6v6h-6zM91 -31h6v6h-6zM39 -3h10v6h-10z"/><path fill="#24cce4" d="M-93 -47h6v6h-6zM-53 25h6v6h-6zM-53 29h6v6h-6z"/><path fill="#24b4e4" d="M-89 -47h6v6h-6z"/><path fill="#249cf0" d="M-85 -47h14v6h-14zM-57 29h6v6h-6z"/><path fill="#2484f0" d="M-73 -47h6v6h-6zM-69 21h6v6h-6z"/><path fill="#54c0f0" d="M7 -47h6v6h-6zM95 -27h6v6h-6z"/><path fill="#60c0f0" d="M11 -47h10v6h-10zM7 -43h14v6h-14z"/><path fill="#54b4f0" d="M19 -47h6v6h-6zM99 -27h6v6h-6z"/><path fill="#3c90f0" d="M23 -47h14v6h-14zM23 -43h14v6h-14zM27 -39h10v6h-10z"/><path fill="#609cf0" d="M35 -47h6v6h-6zM11 -39h6v6h-6z"/><path fill="#ccd8fc" d="M51 -47h6v6h-6zM59 -47h22v6h-22zM63 -43h18v6h-18zM47 -39h6v6h-6zM59 -39h6v6h-6zM43 -31h6v6h-6z"/><path fill="#d8d8fc" d="M55 -47h6v6h-6zM59 -43h6v6h-6z"/><path fill="#ccccfc" d="M79 -47h6v6h-6zM79 -43h6v6h-6z"/><path fill="#d8f0fc" d="M111 -47h6v6h-6zM115 -43h6v6h-6zM123 -39h6v6h-6zM131 -35h6v6h-6zM-73 -7h6v6h-6z"/><path fill="#3048f0" d="M-125 -43h10v6h-10zM-121 -35h6v6h-6z"/><path fill="#243ce4" d="M-117 -43h6v6h-6zM71 -39h6v6h-6zM63 -35h6v6h-6zM63 -31h6v6h-6z"/><path fill="#0018d8" d="M-113 -43h6v6h-6zM-105 -31h6v6h-6zM-113 -27h6v6h-6zM19 -15h6v6h-6z"/><path fill="#1848e4" d="M-109 -43h6v6h-6zM-105 -27h6v6h-6zM135 9h6v6h-6z"/><path fill="#309cfc" d="M-101 -43h6v6h-6zM87 -39h6v6h-6zM95 -39h6v6h-6z"/><path fill="#24c0e4" d="M-97 -43h6v6h-6zM-97 -39h6v6h-6zM-57 21h6v6h-6zM-57 25h6v6h-6z"/><path fill="#24ccd8" d="M-93 -43h6v6h-6zM-93 -39h10v6h-10z"/><path fill="#24d8d8" d="M-89 -43h6v6h-6z"/><path fill="#30ccd8" d="M-85 -43h6v6h-6z"/><path fill="#30c0e4" d="M-81 -43h14v6h-14zM-81 -39h10v6h-10zM35 17h6v6h-6z"/><path fill="#54a8f0" d="M19 -43h6v6h-6zM7 -39h6v6h-6z"/><path fill="#84b4fc" d="M35 -43h6v6h-6z"/><path fill="#c0d8fc" d="M47 -43h6v6h-6z"/><path fill="#6084fc" d="M83 -43h6v6h-6z"/><path fill="#246cf0" d="M99 -43h10v6h-10zM-105 -39h6v6h-6zM103 -39h6v6h-6zM11 -7h6v6h-6z"/><path fill="#3c84f0" d="M107 -43h6v6h-6z"/><path fill="#9cd8fc" d="M111 -43h6v6h-6zM119 -39h6v6h-6z"/><path fill="#1830e4" d="M-117 -39h6v6h-6zM-9 -27h6v6h-6zM127 25h6v6h-6zM135 25h6v6h-6zM135 29h6v6h-6z"/><path fill="#000ccc" d="M-113 -39h6v6h-6zM-113 -35h6v6h-6zM-113 -31h6v6h-6zM-117 -27h6v6h-6zM11 -23h18v6h-18zM11 -19h14v6h-14zM15 -15h6v6h-6zM-77 45h14v6h-14zM-77 49h14v6h-14zM-77 53h14v6h-14z"/><path fill="#0c24d8" d="M-109 -39h6v6h-6zM83 -39h6v6h-6zM-105 -35h6v6h-6zM-109 -27h6v6h-6zM3 -27h6v6h-6zM11 -15h6v6h-6z"/><path fill="#30c0d8" d="M-85 -39h6v6h-6zM-97 -35h6v6h-6zM-89 -35h6v6h-6zM11 17h6v6h-6zM31 17h6v6h-6z"/><path fill="#3090f0" d="M-9 -39h6v6h-6z"/><path fill="#3078f0" d="M-5 -39h6v6h-6zM-13 -35h6v6h-6z"/><path fill="#306cf0" d="M-1 -39h6v6h-6zM-9 -35h6v6h-6zM27 -7h6v6h-6z"/><path fill="#3060f0" d="M3 -39h6v6h-6zM-5 -35h14v6h-14zM-13 -31h22v6h-22zM-5 -27h6v6h-6z"/><path fill="#6084f0" d="M19 -39h6v6h-6zM11 -35h18v6h-18zM11 -31h22v6h-22z"/><path fill="#4890f0" d="M23 -39h6v6h-6zM27 -35h10v6h-10z"/><path fill="#a8c0fc" d="M35 -39h6v6h-6z"/><path fill="#3054e4" d="M63 -39h6v6h-6z"/><path fill="#3048e4" d="M67 -39h6v6h-6z"/><path fill="#1824d8" d="M75 -39h6v6h-6zM71 -35h6v6h-6z"/><path fill="#000cd8" d="M79 -39h6v6h-6zM75 -35h6v6h-6zM79 -31h6v6h-6zM79 -23h6v6h-6zM-5 -19h6v6h-6zM71 -19h14v6h-14zM-1 -15h6v6h-6zM7 -15h6v6h-6zM-13 -7h6v6h-6z"/><path fill="#2478f0" d="M99 -39h6v6h-6zM27 21h6v6h-6z"/><path fill="#48b4fc" d="M111 -39h6v6h-6zM115 -35h6v6h-6zM119 -31h6v6h-6z"/><path fill="#54b4fc" d="M115 -39h6v6h-6z"/><path fill="#0c18d8" d="M-117 -35h6v6h-6zM67 -27h6v6h-6zM79 -27h6v6h-6z"/><path fill="#0018cc" d="M-109 -35h6v6h-6zM-117 -31h6v6h-6zM-109 -31h6v6h-6zM23 -19h6v6h-6z"/><path fill="#246ce4" d="M-101 -35h6v6h-6zM-105 -23h6v6h-6z"/><path fill="#30c0cc" d="M-93 -35h6v6h-6zM-93 -31h6v6h-6z"/><path fill="#b4ccfc" d="M35 -35h6v6h-6z"/><path fill="#183ce4" d="M67 -35h6v6h-6z"/><path fill="#0000cc" d="M79 -35h6v6h-6zM75 -31h6v6h-6zM-21 -27h14v6h-14zM-21 -23h34v6h-34zM-21 -19h18v6h-18zM-1 -19h14v6h-14zM-21 -15h14v6h-14zM3 -15h6v6h-6zM-17 -11h10v6h-10z"/><path fill="#0c30e4" d="M83 -35h6v6h-6zM83 -31h10v6h-10zM83 -27h10v6h-10zM83 -23h10v6h-10zM39 -19h6v6h-6zM-5 -15h6v6h-6zM23 -15h6v6h-6zM15 -11h6v6h-6zM143 21h6v6h-6z"/><path fill="#1854e4" d="M87 -35h6v6h-6zM-109 -23h6v6h-6z"/><path fill="#3084f0" d="M103 -35h6v6h-6z"/><path fill="#60b4fc" d="M107 -35h6v6h-6zM103 -27h6v6h-6z"/><path fill="#54c0fc" d="M111 -35h6v6h-6zM115 -31h6v6h-6z"/><path fill="#a8d8fc" d="M127 -35h6v6h-6zM-73 -19h6v6h-6zM-73 -15h6v6h-6zM-73 -11h6v6h-6z"/><path fill="#0c3cd8" d="M-101 -31h6v6h-6z"/><path fill="#30b4d8" d="M-97 -31h6v6h-6z"/><path fill="#3cb4e4" d="M-89 -31h6v6h-6z"/><path fill="#2454e4" d="M-17 -31h6v6h-6z"/><path fill="#5478f0" d="M7 -31h6v6h-6z"/><path fill="#5490f0" d="M31 -31h6v6h-6z"/><path fill="#6c84f0" d="M59 -31h6v6h-6z"/><path fill="#1830d8" d="M67 -31h6v6h-6z"/><path fill="#0c0cd8" d="M71 -31h6v6h-6z"/><path fill="#3c9cfc" d="M99 -31h6v6h-6z"/><path fill="#4890fc" d="M103 -31h6v6h-6z"/><path fill="#6cccfc" d="M107 -31h6v6h-6z"/><path fill="#78d8fc" d="M111 -31h6v6h-6z"/><path fill="#2460e4" d="M-101 -27h6v6h-6zM91 -27h6v6h-6z"/><path fill="#6cc0a8" d="M-89 -27h6v6h-6z"/><path fill="#48a8e4" d="M-85 -27h6v6h-6z"/><path fill="#3c9cf0" d="M-81 -27h6v6h-6z"/><path fill="#2448e4" d="M-1 -27h6v6h-6z"/><path fill="#2430d8" d="M7 -27h6v6h-6z"/><path fill="#6078f0" d="M11 -27h18v6h-18z"/><path fill="#3c60e4" d="M27 -27h6v6h-6z"/><path fill="#0024e4" d="M31 -27h10v6h-10zM27 -23h18v6h-18zM27 -19h14v6h-14zM27 -15h10v6h-10zM139 25h6v6h-6zM23 29h10v6h-10zM139 29h6v6h-6zM23 33h6v6h-6zM-77 41h14v6h-14z"/><path fill="#849cf0" d="M39 -27h6v6h-6z"/><path fill="#3c54e4" d="M59 -27h6v6h-6z"/><path fill="#183cd8" d="M63 -27h6v6h-6z"/><path fill="#0000d8" d="M71 -27h10v6h-10zM67 -23h14v6h-14zM-9 -15h6v6h-6z"/><path fill="#84d8fc" d="M107 -27h6v6h-6z"/><path fill="#9ce4fc" d="M111 -27h6v6h-6zM111 -23h14v6h-14z"/><path fill="#90e4fc" d="M115 -27h6v6h-6z"/><path fill="#78ccfc" d="M119 -27h6v6h-6z"/><path fill="#4890c0" d="M-101 -23h6v6h-6z"/><path fill="#84cc84" d="M-97 -23h6v6h-6z"/><path fill="#c0d854" d="M-93 -23h6v6h-6z"/><path fill="#d8e454" d="M-89 -23h6v6h-6z"/><path fill="#c0e478" d="M-85 -23h6v6h-6z"/><path fill="#9cd89c" d="M-81 -23h6v6h-6z"/><path fill="#9cccf0" d="M-77 -23h6v6h-6z"/><path fill="#a8ccfc" d="M-73 -23h6v6h-6z"/><path fill="#7890cc" d="M91 -23h6v6h-6z"/><path fill="#d8f0c0" d="M95 -23h10v6h-10z"/><path fill="#d8f0b4" d="M103 -23h6v6h-6z"/><path fill="#a8e4f0" d="M107 -23h6v6h-6z"/><path fill="#3c84cc" d="M-105 -19h6v6h-6z"/><path fill="#78c090" d="M-101 -19h6v6h-6z"/><path fill="#9cd86c" d="M-97 -19h6v6h-6z"/><path fill="#ccd854" d="M-93 -19h6v6h-6z"/><path fill="#c0e46c" d="M-89 -19h6v6h-6zM-93 -15h6v6h-6z"/><path fill="#a8e490" d="M-85 -19h6v6h-6zM-89 -15h6v6h-6z"/><path fill="#9cccfc" d="M-77 -19h6v6h-6zM-77 -15h6v6h-6zM-77 -11h6v6h-6z"/><path fill="#d8e4c0" d="M91 -19h6v6h-6z"/><path fill="#e4f0c0" d="M95 -19h6v6h-6z"/><path fill="#e4f0b4" d="M99 -19h6v6h-6zM95 -15h6v6h-6zM95 -11h6v6h-6zM91 -7h14v6h-14zM95 -3h14v6h-14zM99 1h14v6h-14zM103 5h10v6h-10z"/><path fill="#f0f0a8" d="M103 -19h10v6h-10zM99 -15h6v6h-6zM99 -11h6v6h-6zM115 -11h6v6h-6zM115 -7h6v6h-6zM107 -3h10v6h-10z"/><path fill="#c0f0e4" d="M115 -19h6v6h-6z"/><path fill="#f0f0c0" d="M119 -19h6v6h-6zM119 -15h10v6h-10zM119 -11h10v6h-10z"/><path fill="#9ce49c" d="M-85 -15h6v6h-6zM-89 -11h10v6h-10z"/><path fill="#e4f0e4" d="M-69 -15h6v6h-6zM-69 -11h6v6h-6z"/><path fill="#f0fce4" d="M-65 -15h6v6h-6zM-65 -11h14v6h-14zM-69 -7h14v6h-14z"/><path fill="#0c24e4" d="M35 -15h6v6h-6zM-9 -11h6v6h-6zM3 -11h6v6h-6z"/><path fill="#000ce4" d="M71 -15h14v6h-14zM75 -11h10v6h-10zM79 -7h6v6h-6zM119 13h6v6h-6zM111 17h22v6h-22zM139 17h6v6h-6zM111 21h18v6h-18zM111 25h14v6h-14zM111 29h14v6h-14zM111 33h14v6h-14z"/><path fill="#f0f09c" d="M103 -15h10v6h-10zM103 -11h6v6h-6zM111 -11h6v6h-6zM107 -7h10v6h-10z"/><path fill="#9cd8f0" d="M-81 -11h6v6h-6z"/><path fill="#b4d8fc" d="M-81 -7h6v6h-6z"/><path fill="#c0e4fc" d="M-77 -7h6v6h-6z"/><path fill="#4884d8" d="M15 -7h6v6h-6zM31 -3h6v6h-6z"/><path fill="#3078e4" d="M19 -7h6v6h-6z"/><path fill="#ccf0e4" d="M-85 -3h6v6h-6z"/><path fill="#fcfce4" d="M-65 -3h6v6h-6zM-61 1h6v6h-6z"/><path fill="#fcfcf0" d="M-61 -3h6v6h-6zM-73 1h6v6h-6zM-57 1h6v6h-6zM-81 5h6v6h-6z"/><path fill="#9cf0d8" d="M-49 -3h6v6h-6z"/><path fill="#489ccc" d="M7 -3h6v6h-6z"/><path fill="#6cc09c" d="M11 -3h6v6h-6z"/><path fill="#a8d86c" d="M15 -3h6v6h-6z"/><path fill="#c0d860" d="M19 -3h6v6h-6z"/><path fill="#a8c078" d="M23 -3h6v6h-6z"/><path fill="#a8b46c" d="M27 -3h6v6h-6z"/><path fill="#3c90fc" d="M35 -3h6v6h-6z"/><path fill="#e4e4b4" d="M115 -3h6v6h-6z"/><path fill="#e4e4c0" d="M119 -3h10v6h-10zM111 1h14v6h-14zM111 5h6v6h-6z"/><path fill="#cce4c0" d="M127 -3h6v6h-6z"/><path fill="#84ccc0" d="M131 -3h10v6h-10zM135 1h14v6h-14zM139 5h14v6h-14z"/><path fill="#fcfccc" d="M-69 1h6v6h-6z"/><path fill="#fcfcd8" d="M-65 1h6v6h-6z"/><path fill="#e4fcf0" d="M-53 1h6v6h-6z"/><path fill="#90f0d8" d="M-49 1h6v6h-6z"/><path fill="#6cf0d8" d="M-45 1h6v6h-6z"/><path fill="#48e4fc" d="M-41 1h6v6h-6zM-41 5h6v6h-6z"/><path fill="#3ce4fc" d="M-37 1h6v6h-6zM-37 5h6v6h-6z"/><path fill="#84d884" d="M7 1h6v6h-6z"/><path fill="#90e478" d="M11 1h6v6h-6z"/><path fill="#b4e460" d="M15 1h6v6h-6z"/><path fill="#e4f03c" d="M19 1h6v6h-6z"/><path fill="#e4e430" d="M23 1h10v6h-10z"/><path fill="#b4cc60" d="M31 1h6v6h-6z"/><path fill="#48b4f0" d="M35 1h6v6h-6zM39 5h6v6h-6z"/><path fill="#84b4cc" d="M127 1h6v6h-6z"/><path fill="#78ccc0" d="M131 1h6v6h-6z"/><path fill="#fcfcc0" d="M-77 5h6v6h-6z"/><path fill="#f0f084" d="M-73 5h6v6h-6zM-65 5h6v6h-6zM-81 9h6v6h-6z"/><path fill="#f0f078" d="M-69 5h6v6h-6zM-77 9h6v6h-6z"/><path fill="#e4f078" d="M-61 5h6v6h-6zM-73 13h6v6h-6z"/><path fill="#e4f084" d="M-57 5h6v6h-6z"/><path fill="#b4f0c0" d="M-53 5h6v6h-6z"/><path fill="#78f0cc" d="M-49 5h6v6h-6z"/><path fill="#60e4e4" d="M-45 5h6v6h-6z"/><path fill="#a8f060" d="M11 5h6v6h-6z"/><path fill="#b4f054" d="M15 5h6v6h-6zM23 5h6v6h-6z"/><path fill="#ccf048" d="M19 5h6v6h-6z"/><path fill="#b4e454" d="M27 5h6v6h-6z"/><path fill="#90e490" d="M31 5h6v6h-6z"/><path fill="#60cccc" d="M35 5h6v6h-6z"/><path fill="#78c0c0" d="M135 5h6v6h-6zM143 9h10v6h-10z"/><path fill="#f0f06c" d="M-73 9h10v6h-10zM-77 13h6v6h-6z"/><path fill="#d8f078" d="M-65 9h6v6h-6z"/><path fill="#ccf054" d="M-61 9h6v6h-6z"/><path fill="#d8f048" d="M-57 9h6v6h-6z"/><path fill="#90f090" d="M-53 9h6v6h-6z"/><path fill="#60f0c0" d="M-49 9h6v6h-6z"/><path fill="#54f0cc" d="M-45 9h6v6h-6z"/><path fill="#48e4f0" d="M-41 9h6v6h-6z"/><path fill="#84e484" d="M11 9h14v6h-14z"/><path fill="#90f06c" d="M23 9h6v6h-6z"/><path fill="#90e484" d="M27 9h6v6h-6z"/><path fill="#6ce4b4" d="M31 9h6v6h-6z"/><path fill="#60e4c0" d="M35 9h6v6h-6z"/><path fill="#54d8cc" d="M39 9h6v6h-6zM35 13h6v6h-6z"/><path fill="#30ccfc" d="M43 9h10v6h-10zM43 13h10v6h-10zM-41 17h6v6h-6zM39 17h14v6h-14zM-45 21h6v6h-6zM39 21h10v6h-10z"/><path fill="#0024f0" d="M123 9h14v6h-14z"/><path fill="#6ca8cc" d="M139 9h6v6h-6z"/><path fill="#a8f084" d="M-69 13h6v6h-6z"/><path fill="#78f09c" d="M-65 13h6v6h-6z"/><path fill="#84f084" d="M-61 13h6v6h-6z"/><path fill="#a8f06c" d="M-57 13h6v6h-6z"/><path fill="#3ce4c0" d="M-53 13h6v6h-6z"/><path fill="#3ce4cc" d="M-49 13h6v6h-6z"/><path fill="#3cd8e4" d="M-45 13h6v6h-6z"/><path fill="#3cd8fc" d="M-41 13h6v6h-6z"/><path fill="#48e4c0" d="M7 13h10v6h-10z"/><path fill="#48d8c0" d="M15 13h10v6h-10zM-57 17h6v6h-6z"/><path fill="#60d8a8" d="M23 13h6v6h-6z"/><path fill="#54d8b4" d="M27 13h6v6h-6zM-69 17h14v6h-14z"/><path fill="#48d8cc" d="M31 13h6v6h-6z"/><path fill="#3cd8f0" d="M39 13h6v6h-6z"/><path fill="#0018e4" d="M123 13h10v6h-10zM135 13h14v6h-14zM131 17h10v6h-10zM143 17h6v6h-6zM139 21h6v6h-6zM123 29h6v6h-6z"/><path fill="#0018f0" d="M131 13h6v6h-6z"/><path fill="#6cd8a8" d="M-73 17h6v6h-6z"/><path fill="#24e4cc" d="M-53 17h6v6h-6z"/><path fill="#24d8e4" d="M-49 17h6v6h-6zM-53 21h10v6h-10z"/><path fill="#30d8fc" d="M-45 17h6v6h-6z"/><path fill="#30a8e4" d="M15 17h10v6h-10zM31 21h6v6h-6z"/><path fill="#48b4cc" d="M23 17h6v6h-6z"/><path fill="#3cc0d8" d="M27 17h6v6h-6z"/><path fill="#0c48f0" d="M147 17h6v6h-6zM147 21h6v6h-6zM31 25h6v6h-6zM147 25h6v6h-6zM-77 29h6v6h-6zM151 29h6v6h-6z"/><path fill="#2490f0" d="M-65 21h10v6h-10z"/><path fill="#1860f0" d="M23 21h6v6h-6z"/><path fill="#0c18e4" d="M127 21h6v6h-6zM135 21h6v6h-6zM123 25h6v6h-6z"/><path fill="#1824e4" d="M131 21h6v6h-6z"/><path fill="#0c54f0" d="M151 21h6v6h-6zM151 25h6v6h-6zM147 33h6v6h-6zM-65 37h6v6h-6z"/><path fill="#2490fc" d="M-61 25h6v6h-6z"/><path fill="#2430e4" d="M131 25h6v6h-6zM127 29h10v6h-10zM131 33h6v6h-6z"/><path fill="#0030e4" d="M143 25h6v6h-6zM143 29h6v6h-6zM-65 41h6v6h-6z"/><path fill="#003cf0" d="M-77 33h6v6h-6zM-77 37h14v6h-14z"/><path fill="#0048f0" d="M-73 33h6v6h-6z"/><path fill="#0c48e4" d="M135 33h6v6h-6z"/><path fill="#0c54e4" d="M139 33h10v6h-10z"/><path fill="#249c9c" d="M171 33h10v6h-10zM167 37h14v6h-14zM163 41h14v6h-14zM163 45h10v6h-10z"/><path fill="#1878cc" d="M139 37h6v6h-6z"/><path fill="#1878d8" d="M143 37h6v6h-6z"/><path fill="#186cd8" d="M147 37h6v6h-6z"/><path fill="#2490c0" d="M143 41h6v6h-6z"/><path fill="#2484c0" d="M147 41h6v6h-6z"/></g><path fill="#fff" d="M-180,-90 -127,-90 -127,-66.5 -180,-66.5Z"/><path fill="#fff" d="M-127,-90 -50,-90 -50,-56 -60,-56 -70,-60 -91,-63.5 -127,-66.5Z"/><path fill="#fff" d="M-180,-61 -138,-61 -138,-50 -180,-50Z"/><path fill="#fff" d="M-50,-90 55,-90 55,-71 -50,-71Z"/><path fill="#fff" d="M55,-90 125,-90 125,-66 55,-66Z"/><path fill="#fff" d="M120,-90 180,-90 180,-50 140,-50 125,-55 120,-60Z"/><path fill="#fff" d="M-75,-84 -10,-84 -10,-58 -55,-58 -75,-76Z"/><path fill="#fff" d="M-17,-18 -13,-27 -8,-29.5 0,-30 10,-30.5 20,-29 30,-29.5 35,-29 35,-18 20,-16.5 0,-17Z"/><path fill="#fff" d="M35,-29.5 48,-29.5 50,-26 56,-23 60,-21 53,-15.5 44,-13.5 40,-16Z"/><path fill="#fff" d="M75,-37 100,-37 102,-30 95,-28 80,-30Z"/><path fill="#fff" d="M-82,17 -70.8,17 -71.2,30 -72,56 -82,56Z"/><path fill="#fff" d="M50,-49 60,-51.5 90,-53 120,-53 130,-45 122,-38 110,-36 100,-30 75,-37 60,-38 52,-40Z"/></g><path fill="#fff" d="M47,-45 49,-46.7 51.5,-47 53,-45.3 51,-44.5 51.5,-42.5 53,-42 53.8,-40.5 53,-39.3 54,-37.5 51,-36.7 49,-37.5 49.3,-40.3 48,-42 47.5,-43ZM28,-41.3 28.5,-43.5 29.7,-45.2 31.5,-46.6 33.5,-46 33.5,-44.5 36.5,-45.3 38.2,-46.9 39,-46 37.5,-44.7 40,-43.5 41.5,-41.5 38,-40.9 35,-42 33,-41.9 31,-41.1Z"/></g>
<g id="coast"><path fill="none" stroke="#000" stroke-width="1.5" stroke-linejoin="round" d="M-168,-65.6 -166,-68.9 -163,-70.3 -156.5,-71.3 -150,-70.4 -141,-69.6 -135,-69 -128,-70.2 -120,-69.5 -115,-68 -108,-68.3 -100,-67.8 -96,-68.5 -94,-71.5 -90,-68.5 -85,-69.7 -81.5,-68.5 -82.5,-66.2 -86.5,-66.5 -90.5,-63.5 -94,-61 -94.5,-59 -93,-58.7 -88.8,-56.8 -85,-55.3 -82.3,-55.1 -82,-53 -80.5,-51.3 -79,-51.5 -78.9,-54.5 -76.5,-56.5 -78,-58.5 -77.5,-60.5 -78,-62.4 -73.5,-62.2 -70,-61 -67.5,-58.3 -64.5,-60.3 -61.5,-56 -57.5,-54 -55.7,-52.3 -57,-51.5 -60,-50.2 -66.5,-50.2 -70,-47.5 -64.2,-48.5 -65,-47 -64,-46 -60,-46 -66,-43.5 -67.5,-44.5 -70,-43.5 -70.5,-41.8 -74,-40.5 -75.5,-38.5 -76,-37 -75.5,-35.2 -78,-33.8 -81,-31.5 -80.5,-28 -80.2,-25.3 -81,-25.1 -82.7,-27.8 -83.5,-29.8 -85,-29.7 -88,-30.4 -89.5,-29.2 -91,-29.5 -94,-29.6 -97.2,-27.8 -97.5,-25 -97.8,-22.3 -96,-19 -94.5,-18.2 -92,-18.6 -90.5,-19.9 -90.4,-21 -87,-21.5 -87.5,-18.5 -88.3,-16 -86,-15.9 -83.3,-15 -83.7,-11 -81.7,-9 -79.5,-9.5 -77.2,-8.6 -78,-7.3 -80,-7.5 -81.5,-8 -84,-9.5 -85.7,-11 -87.5,-13 -91,-14 -94,-16 -96.5,-15.7 -100,-17 -103.5,-18.3 -105.5,-20.5 -105.2,-22.7 -108,-25.5 -110,-27.5 -112.2,-29 -113.2,-31.2 -114.8,-31.8 -114.2,-30 -112.8,-28 -111.3,-26 -110.3,-24.2 -109.5,-23 -110.5,-23.5 -112,-24.8 -114,-27 -115,-28 -116,-30.5 -117.1,-32.5 -118.5,-34 -120.6,-34.6 -122.5,-37.5 -124,-40.4 -124.5,-43 -124,-46.2 -124.7,-48.4 -123,-49 -125,-50 -128,-51.5 -130,-54.5 -133,-57.5 -136,-58.5 -140,-59.8 -145,-60.3 -148,-60 -150,-59.5 -152,-60.5 -154,-59 -156.5,-57 -160,-55.7 -163.5,-54.7 -161,-56.3 -158,-58.5 -162,-58.7 -164.5,-60.5 -165,-62.5 -161,-63.7 -165,-64.5 -168,-65.6ZM-73,-78.5 -66,-81 -55,-82.5 -40,-83.5 -25,-83.2 -18,-81.5 -19,-79 -19,-76 -21,-72 -23,-70 -26,-68.5 -32,-68 -38,-65.5 -41,-63 -43.5,-60 -46,-60.8 -49.5,-62 -51,-64.5 -53,-66.5 -54,-69 -52,-70.5 -55,-71.5 -56,-74 -60,-76 -68,-76.5 -71,-77.5ZM-61.5,-66.6 -64,-70 -70,-72.5 -78,-73.5 -85,-73.3 -89,-71.8 -85,-70 -80,-69.8 -77,-67.5 -73,-68 -75,-65.5 -78,-64.5 -75,-62.5 -66,-61.8 -64.5,-63.5ZM-92,-80.5 -85,-77 -78,-76.5 -75,-79 -68,-80.5 -62,-82.3 -75,-83 -90,-82ZM-118,-71 -112,-73 -105,-73 -101,-70 -105,-68.8 -110,-68.5 -117,-69.5ZM-125.5,-72 -120,-74.5 -116,-73.5 -117,-71.5 -122,-71ZM-120,-76 -110,-78 -100,-78.5 -95,-77 -100,-75.5 -110,-75ZM-92,-75 -80,-74.5 -80,-76.5 -90,-76.7ZM-96,-74 -93,-72 -90,-73.8ZM-87,-64.5 -81,-63 -81,-65ZM-77.3,-8.6 -76,-9.5 -75.5,-10.5 -74,-11.3 -72,-12.4 -71.5,-10.8 -71,-11.8 -70,-12.2 -68,-10.5 -64,-10.6 -61.5,-10.5 -60.5,-8.5 -58,-6.8 -55,-5.9 -52,-4.8 -51,-4 -50,-1.8 -50,0 -48,1 -44.5,2.5 -41,2.9 -38.5,3.7 -35.2,5.5 -35,8 -37,11 -38.8,13 -39.2,17.7 -40.5,20.5 -42,22.9 -44.8,23.3 -48,25.5 -48.7,28.5 -51,31 -53.3,33.8 -55,34.9 -58.4,34.6 -57.2,36.3 -57.5,38.2 -62,38.8 -62.3,40.6 -65,41 -64,42.2 -65.3,44.8 -67.5,46.5 -65.8,47.7 -68.3,50.1 -69,51.6 -68.4,52.4 -68,53.5 -66.5,55 -70,55.2 -74,53 -75.5,50 -75.5,46.5 -74,43.5 -73.5,41.5 -73.6,37.2 -71.5,32 -71.3,28 -70.5,23.5 -70.2,18.3 -71.5,17.2 -75,15.3 -76.3,13.5 -78,10.5 -79.8,7 -81.2,5.3 -80.3,3.5 -80.9,2.2 -80,0.5 -80.1,-0.8 -78.9,-1.4 -77.5,-3.5 -77.3,-6.5 -77.8,-7.3ZM32.5,-31.2 34.3,-31.3 35,-33 35.9,-35 35.9,-36.8 34.5,-36.8 32.7,-36.1 30.5,-36.3 28.5,-36.7 27.3,-37 26.2,-39.5 26.5,-40.5 26,-40.8 24,-40.8 22.9,-40.6 24,-38 23,-37.8 22.5,-36.5 21.7,-36.8 21,-38.3 19.4,-40.3 19.4,-41.8 17,-43 15.5,-44 13.7,-45.6 12.3,-44.6 13.6,-43.6 15,-42 17,-41 18.5,-40.2 17.2,-39.2 16.5,-38.4 15.7,-38 14.5,-40.5 12.3,-41.7 10.3,-43.8 8.8,-44.4 7.5,-43.8 6.5,-43.1 4.5,-43.4 3.1,-43.1 3.2,-42 0.9,-41 -0.3,-39.5 0,-38.8 -2,-36.7 -5.3,-36.1 -6,-36.2 -7.4,-37.2 -8.8,-37 -9.5,-38.7 -8.9,-41 -8.8,-42 -9.3,-43 -8,-43.7 -1.8,-43.4 -1.2,-46 -2.2,-47.2 -4.5,-47.9 -4.7,-48.6 -1.6,-48.7 -1.3,-49.7 0.2,-49.5 1.6,-50.2 3.5,-51.4 4.5,-52.5 5,-53.3 7,-53.6 8.6,-53.9 8.6,-55.5 8.1,-56.8 10,-57.6 10.5,-56.3 12.5,-56 10.9,-54 14,-54.2 18,-54.8 21,-55 21,-56.5 23.8,-57.3 24,-59.3 28.5,-59.8 30,-60 25,-60.3 22.5,-60 21.4,-61 21.5,-63 25,-65 25.3,-65.6 21.5,-65.4 19.5,-63.5 17.5,-62.3 17.2,-60.7 18.8,-59.8 16.5,-57.5 15.8,-56.1 14.2,-55.4 12.9,-55.5 11,-58.8 10.5,-59.2 8,-58 5.6,-58.9 5,-61 5.2,-62.5 10,-64 12.5,-66 14.5,-67.8 16,-68.5 19,-69.8 23.5,-70.7 28,-71 31,-70 33,-69.3 36,-69 41,-67.5 40.5,-66.2 35,-66.3 34.8,-64.5 37,-64 40.5,-65 44,-66.5 43.5,-68.5 46,-68.2 53,-68.5 55,-68.5 60,-69 60.5,-69.8 66,-69 68,-69.5 67,-71 69.5,-73 72.5,-72.8 72.5,-71 72.8,-68.5 75,-68.5 73.5,-71 78,-72.3 80.5,-73.6 87,-74 86.5,-75.2 97,-76 104.3,-77.7 107,-76.8 112,-76.5 113.5,-73.5 119,-73 128,-71.8 129.5,-71 131,-71 139,-71.5 140,-72.5 150,-71.5 155,-71 160,-70.5 161,-69.6 167,-69.7 170,-70.1 176,-69.9 180,-68.9 180,-65.3 178.5,-64.3 177,-62.5 173.5,-61.7 170,-60 164.5,-59.9 163,-58 162,-56.3 163.5,-56.5 160,-54.5 158.5,-52.9 156.7,-51 156,-53 155.5,-56.5 157,-58 160,-61.2 160.5,-62 156,-61.5 154,-59.3 150,-59.5 143,-59.3 140.5,-57 138,-54 141,-53 141.3,-50 140.5,-48.5 138.5,-46.9 135,-43.3 132,-43.2 130.7,-42.3 129.5,-40.8 128,-38.5 129.4,-36 129,-35.1 126.5,-34.4 126.3,-36 126.7,-37.7 125.2,-37.8 124.7,-39.6 121.5,-39 121.2,-40.8 119.5,-39.8 117.7,-39 118.8,-37.5 121,-37.8 122.5,-37.2 120.5,-36 119.2,-34.9 120.8,-32.3 121.9,-30.9 121.9,-29 120.5,-27.3 119.6,-25.5 117.5,-23.6 113.5,-22.3 110.5,-21.3 109.8,-21.5 108,-21.5 106.5,-20.3 105.7,-19 107,-17 108.8,-15.3 109.3,-12.5 109,-11.3 106.7,-10.4 104.8,-8.6 105,-10.3 103.4,-10.6 102,-12.3 100.8,-13.4 99.3,-10.5 100.3,-8.3 101.7,-6.8 103.3,-4.8 103.5,-2.3 104.2,-1.4 103.5,-1.3 101.2,-2.8 100.4,-4.9 98.3,-8.2 98.5,-10.5 97.7,-15.5 97.5,-16.7 95.3,-15.8 94.2,-16.1 94.5,-19.5 92.3,-20.8 91.8,-22.4 89,-21.7 86.9,-21 86.3,-19.8 84.8,-19.2 82.2,-16.6 80.2,-15.2 80.3,-13 79.8,-10.3 78.2,-8.9 77.5,-8.1 76.5,-9.5 75.5,-11.8 74.4,-14.8 73.4,-16.6 72.8,-19 72.7,-21.2 72.3,-22 71.5,-20.8 69,-22.4 68.8,-23.8 67.2,-24.7 66.5,-25.5 64,-25.4 61.6,-25.2 58.8,-25.5 57.3,-27.1 56.3,-27.2 54.5,-26.5 51.5,-27.9 50.2,-29.9 48.5,-30 48,-29.2 49.5,-27 50.2,-26.2 51.5,-24.5 51.6,-25.9 51.2,-24.2 54,-24.2 56.2,-26 56.5,-24.5 59.5,-22.5 57.8,-19 55.5,-17.4 52.2,-15.7 48.5,-14 45,-12.8 43.5,-12.7 42.7,-15 41.5,-18 39.5,-21.5 38.5,-23.6 37,-25.8 35,-28 34.6,-29.3 34.2,-27.8 32.6,-29.9ZM-180,-68.9 -175,-67.5 -171,-66.5 -169.7,-66 -171,-64.5 -173,-64.3 -176,-65 -178.5,-65.5 -180,-65.3ZM34.2,-31.3 32.3,-31.3 30,-31.3 25,-31.6 20,-30.8 19,-30.3 20,-32 20.5,-32.8 15.5,-31.5 13,-32.8 11,-33.3 10.2,-34.3 11,-35.5 10.3,-36.9 8.6,-36.9 5,-36.8 1,-36.5 -2,-35.1 -5.3,-35.9 -6,-35.8 -6.8,-34 -9.5,-32.5 -9.8,-30 -11.5,-28 -13,-27.6 -14.5,-26 -16,-24 -17,-21 -16.3,-19.5 -16.5,-16 -17.5,-14.7 -16.7,-12.4 -15,-11 -13.5,-9.5 -12.5,-7.5 -10.5,-6.2 -7.5,-4.4 -5,-5.1 -2,-4.8 1,-6 3.5,-6.4 5.5,-4.6 6.5,-4.3 8.5,-4.6 9.5,-3.8 9.8,-2.5 9.4,-0.5 9,1 11,3.5 12,5 13,7 13.5,9.5 13,12.5 12,15.5 11.8,17.5 13.3,20.5 14.5,23 15,26.5 16.5,28.6 18,31.5 18.4,34.2 20,34.8 22.5,34 25.5,34 27.5,33.2 30,31.2 31.5,28.8 32.6,26 35.3,24 35.5,21.5 34.7,19.8 36.5,18.5 40.5,15 40.5,10.5 39.3,8 39.3,5 41.5,1.7 43.5,-0.8 46,-2.5 48.5,-5.5 50.8,-10.5 51.2,-11.8 48,-11.2 45,-10.5 43.3,-11.5 42.5,-13.5 40,-15.8 38.5,-18 37.3,-21 36.9,-22 35.5,-24 34,-26.6 32.6,-29.9 32.5,-30.5ZM49.3,12 50.5,15.5 49.5,17.5 48.5,20 47.2,24.9 45.2,25.5 43.7,23.5 43.3,21.5 44.4,19.5 44,17 46,15.7 47.8,14ZM113.5,22 114,26.5 115,30 115.7,33.5 115,34.3 118,35 121.5,33.8 124,33 126,32.3 131,31.5 134,32.5 135.7,34.8 137.5,33 138,35.5 140,37.8 143.5,38.8 146.3,39.1 149.9,37.5 150.5,35.5 151.5,33 153,31 153.6,28.2 153,25 150.8,22.5 149,20.5 146.2,18.5 145.3,15 143.5,14 142.5,10.7 141.6,12.5 141.5,15.5 140.8,17.5 139.3,17.4 137,16 135.5,15 136.7,12.3 135,12 132.5,11.4 130.8,12.4 129.5,14.9 127,13.8 125,15 123,16.5 121.5,19 119,20 116.5,20.6 114.2,21.8ZM144.6,40.7 148.3,40.9 148,43.2 146.8,43.6 145.2,42.2ZM172.7,34.4 174.6,36.1 176,37.6 178.5,37.7 177.9,39.2 176.8,40 175.2,41.6 174.6,41.3 175,39.8 173.8,39.3 174.6,38 174.3,36.5ZM172.7,40.5 174.3,41.7 173.2,43 172.8,43.8 171.2,44.5 170.6,45.9 169.3,46.6 166.5,46 166.8,45.2 168.3,44 170.6,43 172,41.5ZM131,1.3 134,0.9 135,3.3 137.8,1.5 141,2.6 145,4.5 147.5,6 150,10.3 147,10.2 146,8 143.5,9 142.5,9.3 141,9.1 139,8.1 138,5.5 134,4 132,2.9ZM109,-1.5 109.6,0.5 110.3,3 114.5,4 116.5,3.5 116,1.5 117.8,-1 118.8,-1 117.8,-4.2 119.3,-5.2 117.3,-7 116,-6.5 115.3,-5 113.5,-3.8 111.3,-2.5 109.6,-2ZM95.2,-5.6 97.5,-5.2 100.3,-2.3 103.5,0.7 104.5,2 106,3.2 105.8,5.8 104.5,5.8 102,4 100.5,1 98.7,-1.7 97,-3.5ZM105.2,6.8 108.5,6.5 111,6.5 114.5,7.7 114.5,8.7 110,8.2 106.5,7.4ZM119,5.5 120.5,5.6 121,3 122.5,4.5 123.3,1 121,1 121.5,-0.5 125,-1.5 120.5,-1 119.5,0.5 118.8,3ZM120,-18.5 122.3,-18.5 122,-16.5 122.5,-14 124,-13 121,-13.5 120.5,-14.5 119.8,-16.5ZM122,-7 126,-6.5 126.5,-8.5 125.5,-9.8 123.5,-8ZM122,-10.5 124,-11.5 125.5,-11 124,-9.8 122.5,-9.5ZM130.9,-34 132.5,-35.5 136,-35.8 137,-37 139.5,-38.5 140,-40.5 141.5,-41.3 142,-39 141,-36.5 140.8,-35 139,-34.7 137,-34.6 135,-33.5 132.5,-34ZM129.7,-33.5 131.8,-33.2 131.3,-31.3 130.2,-31.2ZM140,-42 141.5,-45.5 145.5,-43.3 143.3,-42 141,-41.5ZM142,-46 143.5,-46.5 143,-49 144.5,-49 143,-54.3 142.5,-54 142,-51 141.9,-48ZM120.2,-23 121,-25.2 122,-25 121,-22ZM108.7,-19 110.5,-20.1 111,-19.7 109.5,-18.2ZM79.8,-8 80.2,-9.8 81.9,-7.5 81.5,-6.2 80.2,-6ZM-5.7,-50 -3,-50.5 1.4,-51.2 1.7,-52.7 0.2,-53.5 -1.6,-55.5 -2.1,-57.5 -3,-58.6 -5,-58.6 -6.2,-57 -5.6,-55.3 -4.8,-54.8 -3,-54.4 -3,-53.4 -4.5,-53.3 -4.2,-52 -5.2,-51.7 -3,-51.5 -4.5,-51.1ZM-6,-52.2 -6,-54 -5.6,-55 -8,-55.2 -10,-54.2 -9.9,-53 -10.3,-51.8 -8,-51.6ZM-24,-65.5 -22,-66.4 -18,-66.2 -14.5,-66.1 -13.5,-65 -15,-64.2 -18,-63.4 -22.7,-63.8ZM11,-78.5 17,-76.5 22,-77.5 27,-80 18,-80.5 11,-79.7ZM52,-71.5 57,-70.5 56,-73.5 61,-75.5 69,-77 66,-76.3 58,-75 54,-73.5ZM96,-79 100,-78.5 105,-78.5 104,-80.3 97,-81ZM137,-75 140,-76 149,-75.5 145,-74.5ZM-85,-21.8 -82,-23.2 -78,-22.3 -74.2,-20.2 -77.5,-19.8 -78.5,-21.5 -81,-21.7ZM-74.5,-18.4 -72.8,-19.9 -70,-19.8 -68.4,-18.5 -71.5,-17.7 -74.2,-18.1ZM-59.3,-47.6 -55.5,-51.6 -53,-49.5 -52.7,-47.3 -55.5,-46.8ZM8.5,-41 9.5,-43 9.8,-39 8.4,-39ZM12.4,-38 15.6,-38.3 15.1,-36.7ZM23.5,-35.5 26.3,-35.2 24.5,-34.9ZM32.3,-35 34.6,-35.6 33.8,-34.6ZM-118,-75.5 -112,-76.6 -105,-76 -106,-74.7 -114,-74.5ZM-101.5,-75.5 -98,-76.5 -97,-75.3 -99.5,-74.8ZM-123,-76.2 -118,-77.3 -115.5,-76.4 -120,-75.6ZM-95.5,-78.2 -91,-81 -86,-80.5 -88,-78.5 -92,-77.6ZM-104,-78.1 -100,-79.2 -98.5,-78.2 -101,-77.5ZM-96.5,-74.8 -93.5,-75.5 -92.5,-74.6ZM-102.5,-72.5 -98,-73.8 -96.5,-72.3 -99,-71.5ZM-99,-69 -96,-69.8 -95.5,-68.8 -97.5,-68.4ZM-81,-73.2 -77,-73.8 -76.5,-72.9ZM-84,-62.9 -81.5,-62.2 -82.5,-62.8ZM-80.5,-62 -79.5,-62.3 -79.7,-61.7ZM47,-45 49,-46.7 51.5,-47 53,-45.3 51,-44.5 51.5,-42.5 53,-42 53.8,-40.5 53,-39.3 54,-37.5 51,-36.7 49,-37.5 49.3,-40.3 48,-42 47.5,-43ZM28,-41.3 28.5,-43.5 29.7,-45.2 31.5,-46.6 33.5,-46 33.5,-44.5 36.5,-45.3 38.2,-46.9 39,-46 37.5,-44.7 40,-43.5 41.5,-41.5 38,-40.9 35,-42 33,-41.9 31,-41.1Z"/><path fill="none" stroke="#3a3a3a" stroke-width="1.6" stroke-linejoin="round" d="M-92,-80.5 -85,-77 -78,-76.5 -75,-79 -68,-80.5 -62,-82.3 -75,-83 -90,-82ZM-120,-76 -110,-78 -100,-78.5 -95,-77 -100,-75.5 -110,-75ZM-92,-75 -80,-74.5 -80,-76.5 -90,-76.7ZM-96,-74 -93,-72 -90,-73.8ZM-118,-75.5 -112,-76.6 -105,-76 -106,-74.7 -114,-74.5ZM-101.5,-75.5 -98,-76.5 -97,-75.3 -99.5,-74.8ZM-123,-76.2 -118,-77.3 -115.5,-76.4 -120,-75.6ZM-95.5,-78.2 -91,-81 -86,-80.5 -88,-78.5 -92,-77.6ZM-104,-78.1 -100,-79.2 -98.5,-78.2 -101,-77.5ZM-96.5,-74.8 -93.5,-75.5 -92.5,-74.6ZM-102.5,-72.5 -98,-73.8 -96.5,-72.3 -99,-71.5ZM-99,-69 -96,-69.8 -95.5,-68.8 -97.5,-68.4ZM-81,-73.2 -77,-73.8 -76.5,-72.9ZM-84,-62.9 -81.5,-62.2 -82.5,-62.8ZM-80.5,-62 -79.5,-62.3 -79.7,-61.7Z"/><path fill="none" stroke="#444" stroke-width="1.5" d="M-180,78.5 -170,78.2 -160,78.5 -150,77 -140,75.5 -130,74.5 -120,73.8 -110,74 -100,73 -90,73 -80,73 -75,71.5 -70,69 -66,66 -63,64.5 -58,63.2 -60,65 -62,68 -62,72 -60,75 -55,77.5 -45,78 -35,77.5 -30,76 -25,74.5 -20,73 -12,71.5 -5,70.5 0,70 10,70 20,70 30,69.5 40,69 50,67 60,67 68,68 72,70 78,68.5 85,66.8 95,66.5 100,66 110,66 120,66.5 130,66.2 140,66.8 150,68.5 160,70 165,71.5 170,72 172,75 168,77.5 175,78.2 180,78.5"/><path fill="none" stroke="#333" stroke-width="2.2" stroke-linecap="round" d="M-76,71.5 L-66,66.5 L-57,63.2"/></g>
</defs>
<g class="t"><line x1="31.15" y1="8.30" x2="31.15" y2="64.70" stroke="#ececec" stroke-width="0.25" stroke-dasharray="0.5 0.7"/><line x1="50.00" y1="8.30" x2="50.00" y2="64.70" stroke="#ececec" stroke-width="0.25" stroke-dasharray="0.5 0.7"/><line x1="68.85" y1="8.30" x2="68.85" y2="64.70" stroke="#ececec" stroke-width="0.25" stroke-dasharray="0.5 0.7"/><line x1="87.70" y1="8.30" x2="87.70" y2="64.70" stroke="#ececec" stroke-width="0.25" stroke-dasharray="0.5 0.7"/><line x1="106.55" y1="8.30" x2="106.55" y2="64.70" stroke="#ececec" stroke-width="0.25" stroke-dasharray="0.5 0.7"/><line x1="12.30" y1="12.04" x2="125.40" y2="12.04" stroke="#ececec" stroke-width="0.25" stroke-dasharray="0.5 0.7"/><line x1="12.30" y1="24.58" x2="125.40" y2="24.58" stroke="#ececec" stroke-width="0.25" stroke-dasharray="0.5 0.7"/><line x1="12.30" y1="37.12" x2="125.40" y2="37.12" stroke="#ececec" stroke-width="0.25" stroke-dasharray="0.5 0.7"/><line x1="12.30" y1="49.67" x2="125.40" y2="49.67" stroke="#ececec" stroke-width="0.25" stroke-dasharray="0.5 0.7"/><line x1="12.30" y1="62.21" x2="125.40" y2="62.21" stroke="#ececec" stroke-width="0.25" stroke-dasharray="0.5 0.7"/><svg x="12.30" y="8.90" width="113.10" height="56.45" viewBox="-180 -90 360 180" preserveAspectRatio="none" overflow="hidden"><use href="#mDJF"/><use href="#coast"/></svg><rect x="12.30" y="8.30" width="113.10" height="56.40" fill="none" stroke="#999" stroke-width="0.4"/><text x="11.40" y="13.59" font-size="3.6" fill="#333" text-anchor="end">80°N</text><line x1="12.30" y1="12.04" x2="13.30" y2="12.04" stroke="#666" stroke-width="0.3"/><text x="11.40" y="26.13" font-size="3.6" fill="#333" text-anchor="end">40°N</text><line x1="12.30" y1="24.58" x2="13.30" y2="24.58" stroke="#666" stroke-width="0.3"/><text x="11.40" y="38.67" font-size="3.6" fill="#333" text-anchor="end">0°</text><line x1="12.30" y1="37.12" x2="13.30" y2="37.12" stroke="#666" stroke-width="0.3"/><text x="11.40" y="51.22" font-size="3.6" fill="#333" text-anchor="end">40°S</text><line x1="12.30" y1="49.67" x2="13.30" y2="49.67" stroke="#666" stroke-width="0.3"/><text x="11.40" y="63.76" font-size="3.6" fill="#333" text-anchor="end">80°S</text><line x1="12.30" y1="62.21" x2="13.30" y2="62.21" stroke="#666" stroke-width="0.3"/><text x="12.30" y="69.80" font-size="3.6" fill="#333" text-anchor="middle">180°W</text><text x="31.15" y="69.80" font-size="3.6" fill="#333" text-anchor="middle">120°W</text><text x="50.00" y="69.80" font-size="3.6" fill="#333" text-anchor="middle">60°W</text><text x="68.85" y="69.80" font-size="3.6" fill="#333" text-anchor="middle">0°</text><text x="87.70" y="69.80" font-size="3.6" fill="#333" text-anchor="middle">60°E</text><text x="106.55" y="69.80" font-size="3.6" fill="#333" text-anchor="middle">120°E</text><text x="125.40" y="69.80" font-size="3.6" fill="#333" text-anchor="middle">180°E</text><text x="68.85" y="7.75" font-size="3.3" font-weight="bold" fill="#000" stroke="#000" stroke-width="0.12" text-anchor="middle">SIF 2001 DJF</text><text x="11.90" y="6.20" font-size="3.5" fill="#222">a)</text><rect x="11.30" y="71.10" width="114.00" height="3.70" fill="url(#jet)"/><text x="11.70" y="79.30" font-size="3.2" fill="#555" text-anchor="middle">0</text><text x="27.87" y="79.30" font-size="3.2" fill="#555" text-anchor="middle">100</text><text x="44.04" y="79.30" font-size="3.2" fill="#555" text-anchor="middle">200</text><text x="60.21" y="79.30" font-size="3.2" fill="#555" text-anchor="middle">300</text><text x="76.39" y="79.30" font-size="3.2" fill="#555" text-anchor="middle">400</text><text x="92.56" y="79.30" font-size="3.2" fill="#555" text-anchor="middle">500</text><text x="108.73" y="79.30" font-size="3.2" fill="#555" text-anchor="middle">600</text><text x="124.90" y="79.30" font-size="3.2" fill="#555" text-anchor="middle">700</text><text x="72.50" y="84.10" font-size="3.95" font-weight="bold" fill="#333" text-anchor="middle">GPP (g C m<tspan font-size="2.4" dy="-1.4">-2</tspan><tspan dy="1.4">)</tspan></text></g>
<g class="t"><line x1="169.95" y1="8.35" x2="169.95" y2="64.75" stroke="#ececec" stroke-width="0.25" stroke-dasharray="0.5 0.7"/><line x1="188.80" y1="8.35" x2="188.80" y2="64.75" stroke="#ececec" stroke-width="0.25" stroke-dasharray="0.5 0.7"/><line x1="207.65" y1="8.35" x2="207.65" y2="64.75" stroke="#ececec" stroke-width="0.25" stroke-dasharray="0.5 0.7"/><line x1="226.50" y1="8.35" x2="226.50" y2="64.75" stroke="#ececec" stroke-width="0.25" stroke-dasharray="0.5 0.7"/><line x1="245.35" y1="8.35" x2="245.35" y2="64.75" stroke="#ececec" stroke-width="0.25" stroke-dasharray="0.5 0.7"/><line x1="151.10" y1="12.09" x2="264.20" y2="12.09" stroke="#ececec" stroke-width="0.25" stroke-dasharray="0.5 0.7"/><line x1="151.10" y1="24.63" x2="264.20" y2="24.63" stroke="#ececec" stroke-width="0.25" stroke-dasharray="0.5 0.7"/><line x1="151.10" y1="37.17" x2="264.20" y2="37.17" stroke="#ececec" stroke-width="0.25" stroke-dasharray="0.5 0.7"/><line x1="151.10" y1="49.72" x2="264.20" y2="49.72" stroke="#ececec" stroke-width="0.25" stroke-dasharray="0.5 0.7"/><line x1="151.10" y1="62.26" x2="264.20" y2="62.26" stroke="#ececec" stroke-width="0.25" stroke-dasharray="0.5 0.7"/><svg x="151.10" y="8.95" width="113.10" height="56.45" viewBox="-180 -90 360 180" preserveAspectRatio="none" overflow="hidden"><use href="#mMAM"/><use href="#coast"/></svg><rect x="151.10" y="8.35" width="113.10" height="56.40" fill="none" stroke="#999" stroke-width="0.4"/><text x="150.20" y="13.64" font-size="3.6" fill="#333" text-anchor="end">80°N</text><line x1="151.10" y1="12.09" x2="152.10" y2="12.09" stroke="#666" stroke-width="0.3"/><text x="150.20" y="26.18" font-size="3.6" fill="#333" text-anchor="end">40°N</text><line x1="151.10" y1="24.63" x2="152.10" y2="24.63" stroke="#666" stroke-width="0.3"/><text x="150.20" y="38.72" font-size="3.6" fill="#333" text-anchor="end">0°</text><line x1="151.10" y1="37.17" x2="152.10" y2="37.17" stroke="#666" stroke-width="0.3"/><text x="150.20" y="51.27" font-size="3.6" fill="#333" text-anchor="end">40°S</text><line x1="151.10" y1="49.72" x2="152.10" y2="49.72" stroke="#666" stroke-width="0.3"/><text x="150.20" y="63.81" font-size="3.6" fill="#333" text-anchor="end">80°S</text><line x1="151.10" y1="62.26" x2="152.10" y2="62.26" stroke="#666" stroke-width="0.3"/><text x="151.10" y="69.85" font-size="3.6" fill="#333" text-anchor="middle">180°W</text><text x="169.95" y="69.85" font-size="3.6" fill="#333" text-anchor="middle">120°W</text><text x="188.80" y="69.85" font-size="3.6" fill="#333" text-anchor="middle">60°W</text><text x="207.65" y="69.85" font-size="3.6" fill="#333" text-anchor="middle">0°</text><text x="226.50" y="69.85" font-size="3.6" fill="#333" text-anchor="middle">60°E</text><text x="245.35" y="69.85" font-size="3.6" fill="#333" text-anchor="middle">120°E</text><text x="264.20" y="69.85" font-size="3.6" fill="#333" text-anchor="middle">180°E</text><text x="207.65" y="7.80" font-size="3.3" font-weight="bold" fill="#000" stroke="#000" stroke-width="0.12" text-anchor="middle">SIF 2001 MAM</text><text x="150.70" y="6.25" font-size="3.5" fill="#222">b)</text><rect x="150.10" y="71.15" width="114.00" height="3.70" fill="url(#jet)"/><text x="150.50" y="79.35" font-size="3.2" fill="#555" text-anchor="middle">0</text><text x="166.67" y="79.35" font-size="3.2" fill="#555" text-anchor="middle">100</text><text x="182.84" y="79.35" font-size="3.2" fill="#555" text-anchor="middle">200</text><text x="199.01" y="79.35" font-size="3.2" fill="#555" text-anchor="middle">300</text><text x="215.19" y="79.35" font-size="3.2" fill="#555" text-anchor="middle">400</text><text x="231.36" y="79.35" font-size="3.2" fill="#555" text-anchor="middle">500</text><text x="247.53" y="79.35" font-size="3.2" fill="#555" text-anchor="middle">600</text><text x="263.70" y="79.35" font-size="3.2" fill="#555" text-anchor="middle">700</text><text x="213.40" y="84.15" font-size="3.95" font-weight="bold" fill="#333" text-anchor="middle">GPP (g C m<tspan font-size="2.4" dy="-1.4">-2</tspan><tspan dy="1.4">)</tspan></text></g>
<g class="t"><line x1="310.15" y1="8.25" x2="310.15" y2="64.65" stroke="#ececec" stroke-width="0.25" stroke-dasharray="0.5 0.7"/><line x1="329.00" y1="8.25" x2="329.00" y2="64.65" stroke="#ececec" stroke-width="0.25" stroke-dasharray="0.5 0.7"/><line x1="347.85" y1="8.25" x2="347.85" y2="64.65" stroke="#ececec" stroke-width="0.25" stroke-dasharray="0.5 0.7"/><line x1="366.70" y1="8.25" x2="366.70" y2="64.65" stroke="#ececec" stroke-width="0.25" stroke-dasharray="0.5 0.7"/><line x1="385.55" y1="8.25" x2="385.55" y2="64.65" stroke="#ececec" stroke-width="0.25" stroke-dasharray="0.5 0.7"/><line x1="291.30" y1="11.99" x2="404.40" y2="11.99" stroke="#ececec" stroke-width="0.25" stroke-dasharray="0.5 0.7"/><line x1="291.30" y1="24.53" x2="404.40" y2="24.53" stroke="#ececec" stroke-width="0.25" stroke-dasharray="0.5 0.7"/><line x1="291.30" y1="37.08" x2="404.40" y2="37.08" stroke="#ececec" stroke-width="0.25" stroke-dasharray="0.5 0.7"/><line x1="291.30" y1="49.62" x2="404.40" y2="49.62" stroke="#ececec" stroke-width="0.25" stroke-dasharray="0.5 0.7"/><line x1="291.30" y1="62.16" x2="404.40" y2="62.16" stroke="#ececec" stroke-width="0.25" stroke-dasharray="0.5 0.7"/><svg x="291.30" y="8.85" width="113.10" height="56.45" viewBox="-180 -90 360 180" preserveAspectRatio="none" overflow="hidden"><use href="#mJJA"/><use href="#coast"/></svg><rect x="291.30" y="8.25" width="113.10" height="56.40" fill="none" stroke="#999" stroke-width="0.4"/><text x="290.40" y="13.54" font-size="3.6" fill="#333" text-anchor="end">80°N</text><line x1="291.30" y1="11.99" x2="292.30" y2="11.99" stroke="#666" stroke-width="0.3"/><text x="290.40" y="26.08" font-size="3.6" fill="#333" text-anchor="end">40°N</text><line x1="291.30" y1="24.53" x2="292.30" y2="24.53" stroke="#666" stroke-width="0.3"/><text x="290.40" y="38.62" font-size="3.6" fill="#333" text-anchor="end">0°</text><line x1="291.30" y1="37.08" x2="292.30" y2="37.08" stroke="#666" stroke-width="0.3"/><text x="290.40" y="51.17" font-size="3.6" fill="#333" text-anchor="end">40°S</text><line x1="291.30" y1="49.62" x2="292.30" y2="49.62" stroke="#666" stroke-width="0.3"/><text x="290.40" y="63.71" font-size="3.6" fill="#333" text-anchor="end">80°S</text><line x1="291.30" y1="62.16" x2="292.30" y2="62.16" stroke="#666" stroke-width="0.3"/><text x="291.30" y="69.75" font-size="3.6" fill="#333" text-anchor="middle">180°W</text><text x="310.15" y="69.75" font-size="3.6" fill="#333" text-anchor="middle">120°W</text><text x="329.00" y="69.75" font-size="3.6" fill="#333" text-anchor="middle">60°W</text><text x="347.85" y="69.75" font-size="3.6" fill="#333" text-anchor="middle">0°</text><text x="366.70" y="69.75" font-size="3.6" fill="#333" text-anchor="middle">60°E</text><text x="385.55" y="69.75" font-size="3.6" fill="#333" text-anchor="middle">120°E</text><text x="404.40" y="69.75" font-size="3.6" fill="#333" text-anchor="middle">180°E</text><text x="347.85" y="7.70" font-size="3.3" font-weight="bold" fill="#000" stroke="#000" stroke-width="0.12" text-anchor="middle">SIF 2001 JJA</text><text x="290.90" y="6.15" font-size="3.5" fill="#222">c)</text><rect x="290.30" y="71.05" width="114.00" height="3.70" fill="url(#jet)"/><text x="290.70" y="79.25" font-size="3.2" fill="#555" text-anchor="middle">0</text><text x="306.87" y="79.25" font-size="3.2" fill="#555" text-anchor="middle">100</text><text x="323.04" y="79.25" font-size="3.2" fill="#555" text-anchor="middle">200</text><text x="339.21" y="79.25" font-size="3.2" fill="#555" text-anchor="middle">300</text><text x="355.39" y="79.25" font-size="3.2" fill="#555" text-anchor="middle">400</text><text x="371.56" y="79.25" font-size="3.2" fill="#555" text-anchor="middle">500</text><text x="387.73" y="79.25" font-size="3.2" fill="#555" text-anchor="middle">600</text><text x="403.90" y="79.25" font-size="3.2" fill="#555" text-anchor="middle">700</text><text x="352.30" y="84.05" font-size="3.95" font-weight="bold" fill="#333" text-anchor="middle">GPP (g C m<tspan font-size="2.4" dy="-1.4">-2</tspan><tspan dy="1.4">)</tspan></text></g>
<g class="t"><line x1="447.35" y1="8.40" x2="447.35" y2="64.80" stroke="#ececec" stroke-width="0.25" stroke-dasharray="0.5 0.7"/><line x1="466.20" y1="8.40" x2="466.20" y2="64.80" stroke="#ececec" stroke-width="0.25" stroke-dasharray="0.5 0.7"/><line x1="485.05" y1="8.40" x2="485.05" y2="64.80" stroke="#ececec" stroke-width="0.25" stroke-dasharray="0.5 0.7"/><line x1="503.90" y1="8.40" x2="503.90" y2="64.80" stroke="#ececec" stroke-width="0.25" stroke-dasharray="0.5 0.7"/><line x1="522.75" y1="8.40" x2="522.75" y2="64.80" stroke="#ececec" stroke-width="0.25" stroke-dasharray="0.5 0.7"/><line x1="428.50" y1="12.14" x2="541.60" y2="12.14" stroke="#ececec" stroke-width="0.25" stroke-dasharray="0.5 0.7"/><line x1="428.50" y1="24.68" x2="541.60" y2="24.68" stroke="#ececec" stroke-width="0.25" stroke-dasharray="0.5 0.7"/><line x1="428.50" y1="37.23" x2="541.60" y2="37.23" stroke="#ececec" stroke-width="0.25" stroke-dasharray="0.5 0.7"/><line x1="428.50" y1="49.77" x2="541.60" y2="49.77" stroke="#ececec" stroke-width="0.25" stroke-dasharray="0.5 0.7"/><line x1="428.50" y1="62.31" x2="541.60" y2="62.31" stroke="#ececec" stroke-width="0.25" stroke-dasharray="0.5 0.7"/><svg x="428.50" y="9.00" width="113.10" height="56.45" viewBox="-180 -90 360 180" preserveAspectRatio="none" overflow="hidden"><use href="#mSON"/><use href="#coast"/></svg><rect x="428.50" y="8.40" width="113.10" height="56.40" fill="none" stroke="#999" stroke-width="0.4"/><text x="427.60" y="13.69" font-size="3.6" fill="#333" text-anchor="end">80°N</text><line x1="428.50" y1="12.14" x2="429.50" y2="12.14" stroke="#666" stroke-width="0.3"/><text x="427.60" y="26.23" font-size="3.6" fill="#333" text-anchor="end">40°N</text><line x1="428.50" y1="24.68" x2="429.50" y2="24.68" stroke="#666" stroke-width="0.3"/><text x="427.60" y="38.77" font-size="3.6" fill="#333" text-anchor="end">0°</text><line x1="428.50" y1="37.23" x2="429.50" y2="37.23" stroke="#666" stroke-width="0.3"/><text x="427.60" y="51.32" font-size="3.6" fill="#333" text-anchor="end">40°S</text><line x1="428.50" y1="49.77" x2="429.50" y2="49.77" stroke="#666" stroke-width="0.3"/><text x="427.60" y="63.86" font-size="3.6" fill="#333" text-anchor="end">80°S</text><line x1="428.50" y1="62.31" x2="429.50" y2="62.31" stroke="#666" stroke-width="0.3"/><text x="428.50" y="69.90" font-size="3.6" fill="#333" text-anchor="middle">180°W</text><text x="447.35" y="69.90" font-size="3.6" fill="#333" text-anchor="middle">120°W</text><text x="466.20" y="69.90" font-size="3.6" fill="#333" text-anchor="middle">60°W</text><text x="485.05" y="69.90" font-size="3.6" fill="#333" text-anchor="middle">0°</text><text x="503.90" y="69.90" font-size="3.6" fill="#333" text-anchor="middle">60°E</text><text x="522.75" y="69.90" font-size="3.6" fill="#333" text-anchor="middle">120°E</text><text x="541.60" y="69.90" font-size="3.6" fill="#333" text-anchor="middle">180°E</text><text x="485.05" y="7.85" font-size="3.3" font-weight="bold" fill="#000" stroke="#000" stroke-width="0.12" text-anchor="middle">SIF 2001 SON</text><text x="428.10" y="6.30" font-size="3.5" fill="#222">d)</text><rect x="427.50" y="71.20" width="114.00" height="3.70" fill="url(#jet)"/><text x="427.90" y="79.40" font-size="3.2" fill="#555" text-anchor="middle">0</text><text x="444.07" y="79.40" font-size="3.2" fill="#555" text-anchor="middle">100</text><text x="460.24" y="79.40" font-size="3.2" fill="#555" text-anchor="middle">200</text><text x="476.41" y="79.40" font-size="3.2" fill="#555" text-anchor="middle">300</text><text x="492.59" y="79.40" font-size="3.2" fill="#555" text-anchor="middle">400</text><text x="508.76" y="79.40" font-size="3.2" fill="#555" text-anchor="middle">500</text><text x="524.93" y="79.40" font-size="3.2" fill="#555" text-anchor="middle">600</text><text x="541.10" y="79.40" font-size="3.2" fill="#555" text-anchor="middle">700</text><text x="493.35" y="84.20" font-size="3.95" font-weight="bold" fill="#333" text-anchor="middle">GPP (g C m<tspan font-size="2.4" dy="-1.4">-2</tspan><tspan dy="1.4">)</tspan></text></g>
<g class="t"><line x1="31.15" y1="93.30" x2="31.15" y2="149.70" stroke="#ececec" stroke-width="0.25" stroke-dasharray="0.5 0.7"/><line x1="50.00" y1="93.30" x2="50.00" y2="149.70" stroke="#ececec" stroke-width="0.25" stroke-dasharray="0.5 0.7"/><line x1="68.85" y1="93.30" x2="68.85" y2="149.70" stroke="#ececec" stroke-width="0.25" stroke-dasharray="0.5 0.7"/><line x1="87.70" y1="93.30" x2="87.70" y2="149.70" stroke="#ececec" stroke-width="0.25" stroke-dasharray="0.5 0.7"/><line x1="106.55" y1="93.30" x2="106.55" y2="149.70" stroke="#ececec" stroke-width="0.25" stroke-dasharray="0.5 0.7"/><line x1="12.30" y1="97.04" x2="125.40" y2="97.04" stroke="#ececec" stroke-width="0.25" stroke-dasharray="0.5 0.7"/><line x1="12.30" y1="109.58" x2="125.40" y2="109.58" stroke="#ececec" stroke-width="0.25" stroke-dasharray="0.5 0.7"/><line x1="12.30" y1="122.12" x2="125.40" y2="122.12" stroke="#ececec" stroke-width="0.25" stroke-dasharray="0.5 0.7"/><line x1="12.30" y1="134.67" x2="125.40" y2="134.67" stroke="#ececec" stroke-width="0.25" stroke-dasharray="0.5 0.7"/><line x1="12.30" y1="147.21" x2="125.40" y2="147.21" stroke="#ececec" stroke-width="0.25" stroke-dasharray="0.5 0.7"/><svg x="12.30" y="93.90" width="113.10" height="56.45" viewBox="-180 -90 360 180" preserveAspectRatio="none" overflow="hidden"><use href="#mDJF"/><use href="#coast"/></svg><rect x="12.30" y="93.30" width="113.10" height="56.40" fill="none" stroke="#999" stroke-width="0.4"/><text x="11.40" y="98.59" font-size="3.6" fill="#333" text-anchor="end">80°N</text><line x1="12.30" y1="97.04" x2="13.30" y2="97.04" stroke="#666" stroke-width="0.3"/><text x="11.40" y="111.13" font-size="3.6" fill="#333" text-anchor="end">40°N</text><line x1="12.30" y1="109.58" x2="13.30" y2="109.58" stroke="#666" stroke-width="0.3"/><text x="11.40" y="123.67" font-size="3.6" fill="#333" text-anchor="end">0°</text><line x1="12.30" y1="122.12" x2="13.30" y2="122.12" stroke="#666" stroke-width="0.3"/><text x="11.40" y="136.22" font-size="3.6" fill="#333" text-anchor="end">40°S</text><line x1="12.30" y1="134.67" x2="13.30" y2="134.67" stroke="#666" stroke-width="0.3"/><text x="11.40" y="148.76" font-size="3.6" fill="#333" text-anchor="end">80°S</text><line x1="12.30" y1="147.21" x2="13.30" y2="147.21" stroke="#666" stroke-width="0.3"/><text x="12.30" y="154.80" font-size="3.6" fill="#333" text-anchor="middle">180°W</text><text x="31.15" y="154.80" font-size="3.6" fill="#333" text-anchor="middle">120°W</text><text x="50.00" y="154.80" font-size="3.6" fill="#333" text-anchor="middle">60°W</text><text x="68.85" y="154.80" font-size="3.6" fill="#333" text-anchor="middle">0°</text><text x="87.70" y="154.80" font-size="3.6" fill="#333" text-anchor="middle">60°E</text><text x="106.55" y="154.80" font-size="3.6" fill="#333" text-anchor="middle">120°E</text><text x="125.40" y="154.80" font-size="3.6" fill="#333" text-anchor="middle">180°E</text><text x="68.85" y="92.75" font-size="3.3" font-weight="bold" fill="#000" stroke="#000" stroke-width="0.12" text-anchor="middle">SIF 2002 DJF</text><text x="11.90" y="91.20" font-size="3.5" fill="#222">e)</text><rect x="11.30" y="156.10" width="114.00" height="3.70" fill="url(#jet)"/><text x="11.70" y="164.30" font-size="3.2" fill="#555" text-anchor="middle">0</text><text x="27.87" y="164.30" font-size="3.2" fill="#555" text-anchor="middle">100</text><text x="44.04" y="164.30" font-size="3.2" fill="#555" text-anchor="middle">200</text><text x="60.21" y="164.30" font-size="3.2" fill="#555" text-anchor="middle">300</text><text x="76.39" y="164.30" font-size="3.2" fill="#555" text-anchor="middle">400</text><text x="92.56" y="164.30" font-size="3.2" fill="#555" text-anchor="middle">500</text><text x="108.73" y="164.30" font-size="3.2" fill="#555" text-anchor="middle">600</text><text x="124.90" y="164.30" font-size="3.2" fill="#555" text-anchor="middle">700</text><text x="72.50" y="169.10" font-size="3.95" font-weight="bold" fill="#333" text-anchor="middle">GPP (g C m<tspan font-size="2.4" dy="-1.4">-2</tspan><tspan dy="1.4">)</tspan></text></g>
<g class="t"><line x1="169.95" y1="92.55" x2="169.95" y2="148.95" stroke="#ececec" stroke-width="0.25" stroke-dasharray="0.5 0.7"/><line x1="188.80" y1="92.55" x2="188.80" y2="148.95" stroke="#ececec" stroke-width="0.25" stroke-dasharray="0.5 0.7"/><line x1="207.65" y1="92.55" x2="207.65" y2="148.95" stroke="#ececec" stroke-width="0.25" stroke-dasharray="0.5 0.7"/><line x1="226.50" y1="92.55" x2="226.50" y2="148.95" stroke="#ececec" stroke-width="0.25" stroke-dasharray="0.5 0.7"/><line x1="245.35" y1="92.55" x2="245.35" y2="148.95" stroke="#ececec" stroke-width="0.25" stroke-dasharray="0.5 0.7"/><line x1="151.10" y1="96.29" x2="264.20" y2="96.29" stroke="#ececec" stroke-width="0.25" stroke-dasharray="0.5 0.7"/><line x1="151.10" y1="108.83" x2="264.20" y2="108.83" stroke="#ececec" stroke-width="0.25" stroke-dasharray="0.5 0.7"/><line x1="151.10" y1="121.38" x2="264.20" y2="121.38" stroke="#ececec" stroke-width="0.25" stroke-dasharray="0.5 0.7"/><line x1="151.10" y1="133.92" x2="264.20" y2="133.92" stroke="#ececec" stroke-width="0.25" stroke-dasharray="0.5 0.7"/><line x1="151.10" y1="146.46" x2="264.20" y2="146.46" stroke="#ececec" stroke-width="0.25" stroke-dasharray="0.5 0.7"/><svg x="151.10" y="93.15" width="113.10" height="56.45" viewBox="-180 -90 360 180" preserveAspectRatio="none" overflow="hidden"><use href="#mMAM"/><use href="#coast"/></svg><rect x="151.10" y="92.55" width="113.10" height="56.40" fill="none" stroke="#999" stroke-width="0.4"/><text x="150.20" y="97.84" font-size="3.6" fill="#333" text-anchor="end">80°N</text><line x1="151.10" y1="96.29" x2="152.10" y2="96.29" stroke="#666" stroke-width="0.3"/><text x="150.20" y="110.38" font-size="3.6" fill="#333" text-anchor="end">40°N</text><line x1="151.10" y1="108.83" x2="152.10" y2="108.83" stroke="#666" stroke-width="0.3"/><text x="150.20" y="122.92" font-size="3.6" fill="#333" text-anchor="end">0°</text><line x1="151.10" y1="121.38" x2="152.10" y2="121.38" stroke="#666" stroke-width="0.3"/><text x="150.20" y="135.47" font-size="3.6" fill="#333" text-anchor="end">40°S</text><line x1="151.10" y1="133.92" x2="152.10" y2="133.92" stroke="#666" stroke-width="0.3"/><text x="150.20" y="148.01" font-size="3.6" fill="#333" text-anchor="end">80°S</text><line x1="151.10" y1="146.46" x2="152.10" y2="146.46" stroke="#666" stroke-width="0.3"/><text x="151.10" y="154.05" font-size="3.6" fill="#333" text-anchor="middle">180°W</text><text x="169.95" y="154.05" font-size="3.6" fill="#333" text-anchor="middle">120°W</text><text x="188.80" y="154.05" font-size="3.6" fill="#333" text-anchor="middle">60°W</text><text x="207.65" y="154.05" font-size="3.6" fill="#333" text-anchor="middle">0°</text><text x="226.50" y="154.05" font-size="3.6" fill="#333" text-anchor="middle">60°E</text><text x="245.35" y="154.05" font-size="3.6" fill="#333" text-anchor="middle">120°E</text><text x="264.20" y="154.05" font-size="3.6" fill="#333" text-anchor="middle">180°E</text><text x="207.65" y="92.00" font-size="3.3" font-weight="bold" fill="#000" stroke="#000" stroke-width="0.12" text-anchor="middle">SIF 2002 MAM</text><text x="150.70" y="90.45" font-size="3.5" fill="#222">f)</text><rect x="150.10" y="155.35" width="114.00" height="3.70" fill="url(#jet)"/><text x="150.50" y="163.55" font-size="3.2" fill="#555" text-anchor="middle">0</text><text x="166.67" y="163.55" font-size="3.2" fill="#555" text-anchor="middle">100</text><text x="182.84" y="163.55" font-size="3.2" fill="#555" text-anchor="middle">200</text><text x="199.01" y="163.55" font-size="3.2" fill="#555" text-anchor="middle">300</text><text x="215.19" y="163.55" font-size="3.2" fill="#555" text-anchor="middle">400</text><text x="231.36" y="163.55" font-size="3.2" fill="#555" text-anchor="middle">500</text><text x="247.53" y="163.55" font-size="3.2" fill="#555" text-anchor="middle">600</text><text x="263.70" y="163.55" font-size="3.2" fill="#555" text-anchor="middle">700</text><text x="213.40" y="168.35" font-size="3.95" font-weight="bold" fill="#333" text-anchor="middle">GPP (g C m<tspan font-size="2.4" dy="-1.4">-2</tspan><tspan dy="1.4">)</tspan></text></g>
<g class="t"><line x1="309.95" y1="92.50" x2="309.95" y2="148.90" stroke="#ececec" stroke-width="0.25" stroke-dasharray="0.5 0.7"/><line x1="328.80" y1="92.50" x2="328.80" y2="148.90" stroke="#ececec" stroke-width="0.25" stroke-dasharray="0.5 0.7"/><line x1="347.65" y1="92.50" x2="347.65" y2="148.90" stroke="#ececec" stroke-width="0.25" stroke-dasharray="0.5 0.7"/><line x1="366.50" y1="92.50" x2="366.50" y2="148.90" stroke="#ececec" stroke-width="0.25" stroke-dasharray="0.5 0.7"/><line x1="385.35" y1="92.50" x2="385.35" y2="148.90" stroke="#ececec" stroke-width="0.25" stroke-dasharray="0.5 0.7"/><line x1="291.10" y1="96.24" x2="404.20" y2="96.24" stroke="#ececec" stroke-width="0.25" stroke-dasharray="0.5 0.7"/><line x1="291.10" y1="108.78" x2="404.20" y2="108.78" stroke="#ececec" stroke-width="0.25" stroke-dasharray="0.5 0.7"/><line x1="291.10" y1="121.32" x2="404.20" y2="121.32" stroke="#ececec" stroke-width="0.25" stroke-dasharray="0.5 0.7"/><line x1="291.10" y1="133.87" x2="404.20" y2="133.87" stroke="#ececec" stroke-width="0.25" stroke-dasharray="0.5 0.7"/><line x1="291.10" y1="146.41" x2="404.20" y2="146.41" stroke="#ececec" stroke-width="0.25" stroke-dasharray="0.5 0.7"/><svg x="291.10" y="93.10" width="113.10" height="56.45" viewBox="-180 -90 360 180" preserveAspectRatio="none" overflow="hidden"><use href="#mJJA"/><use href="#coast"/></svg><rect x="291.10" y="92.50" width="113.10" height="56.40" fill="none" stroke="#999" stroke-width="0.4"/><text x="290.20" y="97.79" font-size="3.6" fill="#333" text-anchor="end">80°N</text><line x1="291.10" y1="96.24" x2="292.10" y2="96.24" stroke="#666" stroke-width="0.3"/><text x="290.20" y="110.33" font-size="3.6" fill="#333" text-anchor="end">40°N</text><line x1="291.10" y1="108.78" x2="292.10" y2="108.78" stroke="#666" stroke-width="0.3"/><text x="290.20" y="122.87" font-size="3.6" fill="#333" text-anchor="end">0°</text><line x1="291.10" y1="121.32" x2="292.10" y2="121.32" stroke="#666" stroke-width="0.3"/><text x="290.20" y="135.42" font-size="3.6" fill="#333" text-anchor="end">40°S</text><line x1="291.10" y1="133.87" x2="292.10" y2="133.87" stroke="#666" stroke-width="0.3"/><text x="290.20" y="147.96" font-size="3.6" fill="#333" text-anchor="end">80°S</text><line x1="291.10" y1="146.41" x2="292.10" y2="146.41" stroke="#666" stroke-width="0.3"/><text x="291.10" y="154.00" font-size="3.6" fill="#333" text-anchor="middle">180°W</text><text x="309.95" y="154.00" font-size="3.6" fill="#333" text-anchor="middle">120°W</text><text x="328.80" y="154.00" font-size="3.6" fill="#333" text-anchor="middle">60°W</text><text x="347.65" y="154.00" font-size="3.6" fill="#333" text-anchor="middle">0°</text><text x="366.50" y="154.00" font-size="3.6" fill="#333" text-anchor="middle">60°E</text><text x="385.35" y="154.00" font-size="3.6" fill="#333" text-anchor="middle">120°E</text><text x="404.20" y="154.00" font-size="3.6" fill="#333" text-anchor="middle">180°E</text><text x="347.65" y="91.95" font-size="3.3" font-weight="bold" fill="#000" stroke="#000" stroke-width="0.12" text-anchor="middle">SIF 2002 JJA</text><text x="290.70" y="90.40" font-size="3.5" fill="#222">g)</text><rect x="290.10" y="155.30" width="114.00" height="3.70" fill="url(#jet)"/><text x="290.50" y="163.50" font-size="3.2" fill="#555" text-anchor="middle">0</text><text x="306.67" y="163.50" font-size="3.2" fill="#555" text-anchor="middle">100</text><text x="322.84" y="163.50" font-size="3.2" fill="#555" text-anchor="middle">200</text><text x="339.01" y="163.50" font-size="3.2" fill="#555" text-anchor="middle">300</text><text x="355.19" y="163.50" font-size="3.2" fill="#555" text-anchor="middle">400</text><text x="371.36" y="163.50" font-size="3.2" fill="#555" text-anchor="middle">500</text><text x="387.53" y="163.50" font-size="3.2" fill="#555" text-anchor="middle">600</text><text x="403.70" y="163.50" font-size="3.2" fill="#555" text-anchor="middle">700</text><text x="352.10" y="168.30" font-size="3.95" font-weight="bold" fill="#333" text-anchor="middle">GPP (g C m<tspan font-size="2.4" dy="-1.4">-2</tspan><tspan dy="1.4">)</tspan></text></g>
<g class="t"><line x1="447.35" y1="92.55" x2="447.35" y2="148.95" stroke="#ececec" stroke-width="0.25" stroke-dasharray="0.5 0.7"/><line x1="466.20" y1="92.55" x2="466.20" y2="148.95" stroke="#ececec" stroke-width="0.25" stroke-dasharray="0.5 0.7"/><line x1="485.05" y1="92.55" x2="485.05" y2="148.95" stroke="#ececec" stroke-width="0.25" stroke-dasharray="0.5 0.7"/><line x1="503.90" y1="92.55" x2="503.90" y2="148.95" stroke="#ececec" stroke-width="0.25" stroke-dasharray="0.5 0.7"/><line x1="522.75" y1="92.55" x2="522.75" y2="148.95" stroke="#ececec" stroke-width="0.25" stroke-dasharray="0.5 0.7"/><line x1="428.50" y1="96.29" x2="541.60" y2="96.29" stroke="#ececec" stroke-width="0.25" stroke-dasharray="0.5 0.7"/><line x1="428.50" y1="108.83" x2="541.60" y2="108.83" stroke="#ececec" stroke-width="0.25" stroke-dasharray="0.5 0.7"/><line x1="428.50" y1="121.38" x2="541.60" y2="121.38" stroke="#ececec" stroke-width="0.25" stroke-dasharray="0.5 0.7"/><line x1="428.50" y1="133.92" x2="541.60" y2="133.92" stroke="#ececec" stroke-width="0.25" stroke-dasharray="0.5 0.7"/><line x1="428.50" y1="146.46" x2="541.60" y2="146.46" stroke="#ececec" stroke-width="0.25" stroke-dasharray="0.5 0.7"/><svg x="428.50" y="93.15" width="113.10" height="56.45" viewBox="-180 -90 360 180" preserveAspectRatio="none" overflow="hidden"><use href="#mSON"/><use href="#coast"/></svg><rect x="428.50" y="92.55" width="113.10" height="56.40" fill="none" stroke="#999" stroke-width="0.4"/><text x="427.60" y="97.84" font-size="3.6" fill="#333" text-anchor="end">80°N</text><line x1="428.50" y1="96.29" x2="429.50" y2="96.29" stroke="#666" stroke-width="0.3"/><text x="427.60" y="110.38" font-size="3.6" fill="#333" text-anchor="end">40°N</text><line x1="428.50" y1="108.83" x2="429.50" y2="108.83" stroke="#666" stroke-width="0.3"/><text x="427.60" y="122.92" font-size="3.6" fill="#333" text-anchor="end">0°</text><line x1="428.50" y1="121.38" x2="429.50" y2="121.38" stroke="#666" stroke-width="0.3"/><text x="427.60" y="135.47" font-size="3.6" fill="#333" text-anchor="end">40°S</text><line x1="428.50" y1="133.92" x2="429.50" y2="133.92" stroke="#666" stroke-width="0.3"/><text x="427.60" y="148.01" font-size="3.6" fill="#333" text-anchor="end">80°S</text><line x1="428.50" y1="146.46" x2="429.50" y2="146.46" stroke="#666" stroke-width="0.3"/><text x="428.50" y="154.05" font-size="3.6" fill="#333" text-anchor="middle">180°W</text><text x="447.35" y="154.05" font-size="3.6" fill="#333" text-anchor="middle">120°W</text><text x="466.20" y="154.05" font-size="3.6" fill="#333" text-anchor="middle">60°W</text><text x="485.05" y="154.05" font-size="3.6" fill="#333" text-anchor="middle">0°</text><text x="503.90" y="154.05" font-size="3.6" fill="#333" text-anchor="middle">60°E</text><text x="522.75" y="154.05" font-size="3.6" fill="#333" text-anchor="middle">120°E</text><text x="541.60" y="154.05" font-size="3.6" fill="#333" text-anchor="middle">180°E</text><text x="485.05" y="92.00" font-size="3.3" font-weight="bold" fill="#000" stroke="#000" stroke-width="0.12" text-anchor="middle">SIF 2002 SON</text><text x="428.10" y="90.45" font-size="3.5" fill="#222">h)</text><rect x="427.50" y="155.35" width="114.00" height="3.70" fill="url(#jet)"/><text x="427.90" y="163.55" font-size="3.2" fill="#555" text-anchor="middle">0</text><text x="444.07" y="163.55" font-size="3.2" fill="#555" text-anchor="middle">100</text><text x="460.24" y="163.55" font-size="3.2" fill="#555" text-anchor="middle">200</text><text x="476.41" y="163.55" font-size="3.2" fill="#555" text-anchor="middle">300</text><text x="492.59" y="163.55" font-size="3.2" fill="#555" text-anchor="middle">400</text><text x="508.76" y="163.55" font-size="3.2" fill="#555" text-anchor="middle">500</text><text x="524.93" y="163.55" font-size="3.2" fill="#555" text-anchor="middle">600</text><text x="541.10" y="163.55" font-size="3.2" fill="#555" text-anchor="middle">700</text><text x="493.35" y="168.35" font-size="3.95" font-weight="bold" fill="#333" text-anchor="middle">GPP (g C m<tspan font-size="2.4" dy="-1.4">-2</tspan><tspan dy="1.4">)</tspan></text></g>
<g class="t"><line x1="31.15" y1="177.00" x2="31.15" y2="233.40" stroke="#ececec" stroke-width="0.25" stroke-dasharray="0.5 0.7"/><line x1="50.00" y1="177.00" x2="50.00" y2="233.40" stroke="#ececec" stroke-width="0.25" stroke-dasharray="0.5 0.7"/><line x1="68.85" y1="177.00" x2="68.85" y2="233.40" stroke="#ececec" stroke-width="0.25" stroke-dasharray="0.5 0.7"/><line x1="87.70" y1="177.00" x2="87.70" y2="233.40" stroke="#ececec" stroke-width="0.25" stroke-dasharray="0.5 0.7"/><line x1="106.55" y1="177.00" x2="106.55" y2="233.40" stroke="#ececec" stroke-width="0.25" stroke-dasharray="0.5 0.7"/><line x1="12.30" y1="180.74" x2="125.40" y2="180.74" stroke="#ececec" stroke-width="0.25" stroke-dasharray="0.5 0.7"/><line x1="12.30" y1="193.28" x2="125.40" y2="193.28" stroke="#ececec" stroke-width="0.25" stroke-dasharray="0.5 0.7"/><line x1="12.30" y1="205.82" x2="125.40" y2="205.82" stroke="#ececec" stroke-width="0.25" stroke-dasharray="0.5 0.7"/><line x1="12.30" y1="218.37" x2="125.40" y2="218.37" stroke="#ececec" stroke-width="0.25" stroke-dasharray="0.5 0.7"/><line x1="12.30" y1="230.91" x2="125.40" y2="230.91" stroke="#ececec" stroke-width="0.25" stroke-dasharray="0.5 0.7"/><svg x="12.30" y="177.60" width="113.10" height="56.45" viewBox="-180 -90 360 180" preserveAspectRatio="none" overflow="hidden"><use href="#mDJF2"/><use href="#coast"/></svg><rect x="12.30" y="177.00" width="113.10" height="56.40" fill="none" stroke="#999" stroke-width="0.4"/><text x="11.40" y="182.29" font-size="3.6" fill="#333" text-anchor="end">80°N</text><line x1="12.30" y1="180.74" x2="13.30" y2="180.74" stroke="#666" stroke-width="0.3"/><text x="11.40" y="194.83" font-size="3.6" fill="#333" text-anchor="end">40°N</text><line x1="12.30" y1="193.28" x2="13.30" y2="193.28" stroke="#666" stroke-width="0.3"/><text x="11.40" y="207.38" font-size="3.6" fill="#333" text-anchor="end">0°</text><line x1="12.30" y1="205.82" x2="13.30" y2="205.82" stroke="#666" stroke-width="0.3"/><text x="11.40" y="219.92" font-size="3.6" fill="#333" text-anchor="end">40°S</text><line x1="12.30" y1="218.37" x2="13.30" y2="218.37" stroke="#666" stroke-width="0.3"/><text x="11.40" y="232.46" font-size="3.6" fill="#333" text-anchor="end">80°S</text><line x1="12.30" y1="230.91" x2="13.30" y2="230.91" stroke="#666" stroke-width="0.3"/><text x="12.30" y="238.50" font-size="3.6" fill="#333" text-anchor="middle">180°W</text><text x="31.15" y="238.50" font-size="3.6" fill="#333" text-anchor="middle">120°W</text><text x="50.00" y="238.50" font-size="3.6" fill="#333" text-anchor="middle">60°W</text><text x="68.85" y="238.50" font-size="3.6" fill="#333" text-anchor="middle">0°</text><text x="87.70" y="238.50" font-size="3.6" fill="#333" text-anchor="middle">60°E</text><text x="106.55" y="238.50" font-size="3.6" fill="#333" text-anchor="middle">120°E</text><text x="125.40" y="238.50" font-size="3.6" fill="#333" text-anchor="middle">180°E</text><text x="68.85" y="176.45" font-size="3.3" font-weight="bold" fill="#000" stroke="#000" stroke-width="0.12" text-anchor="middle">SIF 2003 DJF</text><text x="11.90" y="174.90" font-size="3.5" fill="#222">i)</text><rect x="11.30" y="239.80" width="114.00" height="3.70" fill="url(#jet)"/><text x="11.70" y="248.00" font-size="3.2" fill="#555" text-anchor="middle">0</text><text x="27.87" y="248.00" font-size="3.2" fill="#555" text-anchor="middle">100</text><text x="44.04" y="248.00" font-size="3.2" fill="#555" text-anchor="middle">200</text><text x="60.21" y="248.00" font-size="3.2" fill="#555" text-anchor="middle">300</text><text x="76.39" y="248.00" font-size="3.2" fill="#555" text-anchor="middle">400</text><text x="92.56" y="248.00" font-size="3.2" fill="#555" text-anchor="middle">500</text><text x="108.73" y="248.00" font-size="3.2" fill="#555" text-anchor="middle">600</text><text x="124.90" y="248.00" font-size="3.2" fill="#555" text-anchor="middle">700</text><text x="72.50" y="252.80" font-size="3.95" font-weight="bold" fill="#333" text-anchor="middle">GPP (g C m<tspan font-size="2.4" dy="-1.4">-2</tspan><tspan dy="1.4">)</tspan></text></g>
<g class="t"><line x1="169.95" y1="175.40" x2="169.95" y2="231.80" stroke="#ececec" stroke-width="0.25" stroke-dasharray="0.5 0.7"/><line x1="188.80" y1="175.40" x2="188.80" y2="231.80" stroke="#ececec" stroke-width="0.25" stroke-dasharray="0.5 0.7"/><line x1="207.65" y1="175.40" x2="207.65" y2="231.80" stroke="#ececec" stroke-width="0.25" stroke-dasharray="0.5 0.7"/><line x1="226.50" y1="175.40" x2="226.50" y2="231.80" stroke="#ececec" stroke-width="0.25" stroke-dasharray="0.5 0.7"/><line x1="245.35" y1="175.40" x2="245.35" y2="231.80" stroke="#ececec" stroke-width="0.25" stroke-dasharray="0.5 0.7"/><line x1="151.10" y1="179.14" x2="264.20" y2="179.14" stroke="#ececec" stroke-width="0.25" stroke-dasharray="0.5 0.7"/><line x1="151.10" y1="191.68" x2="264.20" y2="191.68" stroke="#ececec" stroke-width="0.25" stroke-dasharray="0.5 0.7"/><line x1="151.10" y1="204.22" x2="264.20" y2="204.22" stroke="#ececec" stroke-width="0.25" stroke-dasharray="0.5 0.7"/><line x1="151.10" y1="216.77" x2="264.20" y2="216.77" stroke="#ececec" stroke-width="0.25" stroke-dasharray="0.5 0.7"/><line x1="151.10" y1="229.31" x2="264.20" y2="229.31" stroke="#ececec" stroke-width="0.25" stroke-dasharray="0.5 0.7"/><svg x="151.10" y="176.00" width="113.10" height="56.45" viewBox="-180 -90 360 180" preserveAspectRatio="none" overflow="hidden"><use href="#mMAM2"/><use href="#coast"/></svg><rect x="151.10" y="175.40" width="113.10" height="56.40" fill="none" stroke="#999" stroke-width="0.4"/><text x="150.20" y="180.69" font-size="3.6" fill="#333" text-anchor="end">80°N</text><line x1="151.10" y1="179.14" x2="152.10" y2="179.14" stroke="#666" stroke-width="0.3"/><text x="150.20" y="193.23" font-size="3.6" fill="#333" text-anchor="end">40°N</text><line x1="151.10" y1="191.68" x2="152.10" y2="191.68" stroke="#666" stroke-width="0.3"/><text x="150.20" y="205.78" font-size="3.6" fill="#333" text-anchor="end">0°</text><line x1="151.10" y1="204.22" x2="152.10" y2="204.22" stroke="#666" stroke-width="0.3"/><text x="150.20" y="218.32" font-size="3.6" fill="#333" text-anchor="end">40°S</text><line x1="151.10" y1="216.77" x2="152.10" y2="216.77" stroke="#666" stroke-width="0.3"/><text x="150.20" y="230.86" font-size="3.6" fill="#333" text-anchor="end">80°S</text><line x1="151.10" y1="229.31" x2="152.10" y2="229.31" stroke="#666" stroke-width="0.3"/><text x="151.10" y="236.90" font-size="3.6" fill="#333" text-anchor="middle">180°W</text><text x="169.95" y="236.90" font-size="3.6" fill="#333" text-anchor="middle">120°W</text><text x="188.80" y="236.90" font-size="3.6" fill="#333" text-anchor="middle">60°W</text><text x="207.65" y="236.90" font-size="3.6" fill="#333" text-anchor="middle">0°</text><text x="226.50" y="236.90" font-size="3.6" fill="#333" text-anchor="middle">60°E</text><text x="245.35" y="236.90" font-size="3.6" fill="#333" text-anchor="middle">120°E</text><text x="264.20" y="236.90" font-size="3.6" fill="#333" text-anchor="middle">180°E</text><text x="207.65" y="174.85" font-size="3.3" font-weight="bold" fill="#000" stroke="#000" stroke-width="0.12" text-anchor="middle">SIF 2003 MAM</text><text x="150.70" y="173.30" font-size="3.5" fill="#222">j)</text><rect x="150.10" y="238.20" width="114.00" height="3.70" fill="url(#jet)"/><text x="150.50" y="246.40" font-size="3.2" fill="#555" text-anchor="middle">0</text><text x="166.67" y="246.40" font-size="3.2" fill="#555" text-anchor="middle">100</text><text x="182.84" y="246.40" font-size="3.2" fill="#555" text-anchor="middle">200</text><text x="199.01" y="246.40" font-size="3.2" fill="#555" text-anchor="middle">300</text><text x="215.19" y="246.40" font-size="3.2" fill="#555" text-anchor="middle">400</text><text x="231.36" y="246.40" font-size="3.2" fill="#555" text-anchor="middle">500</text><text x="247.53" y="246.40" font-size="3.2" fill="#555" text-anchor="middle">600</text><text x="263.70" y="246.40" font-size="3.2" fill="#555" text-anchor="middle">700</text><text x="213.40" y="251.20" font-size="3.95" font-weight="bold" fill="#333" text-anchor="middle">GPP (g C m<tspan font-size="2.4" dy="-1.4">-2</tspan><tspan dy="1.4">)</tspan></text></g>
<g class="t"><line x1="309.95" y1="175.10" x2="309.95" y2="231.50" stroke="#ececec" stroke-width="0.25" stroke-dasharray="0.5 0.7"/><line x1="328.80" y1="175.10" x2="328.80" y2="231.50" stroke="#ececec" stroke-width="0.25" stroke-dasharray="0.5 0.7"/><line x1="347.65" y1="175.10" x2="347.65" y2="231.50" stroke="#ececec" stroke-width="0.25" stroke-dasharray="0.5 0.7"/><line x1="366.50" y1="175.10" x2="366.50" y2="231.50" stroke="#ececec" stroke-width="0.25" stroke-dasharray="0.5 0.7"/><line x1="385.35" y1="175.10" x2="385.35" y2="231.50" stroke="#ececec" stroke-width="0.25" stroke-dasharray="0.5 0.7"/><line x1="291.10" y1="178.84" x2="404.20" y2="178.84" stroke="#ececec" stroke-width="0.25" stroke-dasharray="0.5 0.7"/><line x1="291.10" y1="191.38" x2="404.20" y2="191.38" stroke="#ececec" stroke-width="0.25" stroke-dasharray="0.5 0.7"/><line x1="291.10" y1="203.92" x2="404.20" y2="203.92" stroke="#ececec" stroke-width="0.25" stroke-dasharray="0.5 0.7"/><line x1="291.10" y1="216.47" x2="404.20" y2="216.47" stroke="#ececec" stroke-width="0.25" stroke-dasharray="0.5 0.7"/><line x1="291.10" y1="229.01" x2="404.20" y2="229.01" stroke="#ececec" stroke-width="0.25" stroke-dasharray="0.5 0.7"/><svg x="291.10" y="175.70" width="113.10" height="56.45" viewBox="-180 -90 360 180" preserveAspectRatio="none" overflow="hidden"><use href="#mJJA"/><use href="#coast"/></svg><rect x="291.10" y="175.10" width="113.10" height="56.40" fill="none" stroke="#999" stroke-width="0.4"/><text x="290.20" y="180.39" font-size="3.6" fill="#333" text-anchor="end">80°N</text><line x1="291.10" y1="178.84" x2="292.10" y2="178.84" stroke="#666" stroke-width="0.3"/><text x="290.20" y="192.93" font-size="3.6" fill="#333" text-anchor="end">40°N</text><line x1="291.10" y1="191.38" x2="292.10" y2="191.38" stroke="#666" stroke-width="0.3"/><text x="290.20" y="205.47" font-size="3.6" fill="#333" text-anchor="end">0°</text><line x1="291.10" y1="203.92" x2="292.10" y2="203.92" stroke="#666" stroke-width="0.3"/><text x="290.20" y="218.02" font-size="3.6" fill="#333" text-anchor="end">40°S</text><line x1="291.10" y1="216.47" x2="292.10" y2="216.47" stroke="#666" stroke-width="0.3"/><text x="290.20" y="230.56" font-size="3.6" fill="#333" text-anchor="end">80°S</text><line x1="291.10" y1="229.01" x2="292.10" y2="229.01" stroke="#666" stroke-width="0.3"/><text x="291.10" y="236.60" font-size="3.6" fill="#333" text-anchor="middle">180°W</text><text x="309.95" y="236.60" font-size="3.6" fill="#333" text-anchor="middle">120°W</text><text x="328.80" y="236.60" font-size="3.6" fill="#333" text-anchor="middle">60°W</text><text x="347.65" y="236.60" font-size="3.6" fill="#333" text-anchor="middle">0°</text><text x="366.50" y="236.60" font-size="3.6" fill="#333" text-anchor="middle">60°E</text><text x="385.35" y="236.60" font-size="3.6" fill="#333" text-anchor="middle">120°E</text><text x="404.20" y="236.60" font-size="3.6" fill="#333" text-anchor="middle">180°E</text><text x="347.65" y="174.55" font-size="3.3" font-weight="bold" fill="#000" stroke="#000" stroke-width="0.12" text-anchor="middle">SIF 2003 JJA</text><text x="290.70" y="173.00" font-size="3.5" fill="#222">k)</text><rect x="290.10" y="237.90" width="114.00" height="3.70" fill="url(#jet)"/><text x="290.50" y="246.10" font-size="3.2" fill="#555" text-anchor="middle">0</text><text x="306.67" y="246.10" font-size="3.2" fill="#555" text-anchor="middle">100</text><text x="322.84" y="246.10" font-size="3.2" fill="#555" text-anchor="middle">200</text><text x="339.01" y="246.10" font-size="3.2" fill="#555" text-anchor="middle">300</text><text x="355.19" y="246.10" font-size="3.2" fill="#555" text-anchor="middle">400</text><text x="371.36" y="246.10" font-size="3.2" fill="#555" text-anchor="middle">500</text><text x="387.53" y="246.10" font-size="3.2" fill="#555" text-anchor="middle">600</text><text x="403.70" y="246.10" font-size="3.2" fill="#555" text-anchor="middle">700</text><text x="352.10" y="250.90" font-size="3.95" font-weight="bold" fill="#333" text-anchor="middle">GPP (g C m<tspan font-size="2.4" dy="-1.4">-2</tspan><tspan dy="1.4">)</tspan></text></g>
<g class="t"><line x1="447.15" y1="175.20" x2="447.15" y2="231.60" stroke="#ececec" stroke-width="0.25" stroke-dasharray="0.5 0.7"/><line x1="466.00" y1="175.20" x2="466.00" y2="231.60" stroke="#ececec" stroke-width="0.25" stroke-dasharray="0.5 0.7"/><line x1="484.85" y1="175.20" x2="484.85" y2="231.60" stroke="#ececec" stroke-width="0.25" stroke-dasharray="0.5 0.7"/><line x1="503.70" y1="175.20" x2="503.70" y2="231.60" stroke="#ececec" stroke-width="0.25" stroke-dasharray="0.5 0.7"/><line x1="522.55" y1="175.20" x2="522.55" y2="231.60" stroke="#ececec" stroke-width="0.25" stroke-dasharray="0.5 0.7"/><line x1="428.30" y1="178.94" x2="541.40" y2="178.94" stroke="#ececec" stroke-width="0.25" stroke-dasharray="0.5 0.7"/><line x1="428.30" y1="191.48" x2="541.40" y2="191.48" stroke="#ececec" stroke-width="0.25" stroke-dasharray="0.5 0.7"/><line x1="428.30" y1="204.02" x2="541.40" y2="204.02" stroke="#ececec" stroke-width="0.25" stroke-dasharray="0.5 0.7"/><line x1="428.30" y1="216.57" x2="541.40" y2="216.57" stroke="#ececec" stroke-width="0.25" stroke-dasharray="0.5 0.7"/><line x1="428.30" y1="229.11" x2="541.40" y2="229.11" stroke="#ececec" stroke-width="0.25" stroke-dasharray="0.5 0.7"/><svg x="428.30" y="175.80" width="113.10" height="56.45" viewBox="-180 -90 360 180" preserveAspectRatio="none" overflow="hidden"><use href="#mSON"/><use href="#coast"/></svg><rect x="428.30" y="175.20" width="113.10" height="56.40" fill="none" stroke="#999" stroke-width="0.4"/><text x="427.40" y="180.49" font-size="3.6" fill="#333" text-anchor="end">80°N</text><line x1="428.30" y1="178.94" x2="429.30" y2="178.94" stroke="#666" stroke-width="0.3"/><text x="427.40" y="193.03" font-size="3.6" fill="#333" text-anchor="end">40°N</text><line x1="428.30" y1="191.48" x2="429.30" y2="191.48" stroke="#666" stroke-width="0.3"/><text x="427.40" y="205.57" font-size="3.6" fill="#333" text-anchor="end">0°</text><line x1="428.30" y1="204.02" x2="429.30" y2="204.02" stroke="#666" stroke-width="0.3"/><text x="427.40" y="218.12" font-size="3.6" fill="#333" text-anchor="end">40°S</text><line x1="428.30" y1="216.57" x2="429.30" y2="216.57" stroke="#666" stroke-width="0.3"/><text x="427.40" y="230.66" font-size="3.6" fill="#333" text-anchor="end">80°S</text><line x1="428.30" y1="229.11" x2="429.30" y2="229.11" stroke="#666" stroke-width="0.3"/><text x="428.30" y="236.70" font-size="3.6" fill="#333" text-anchor="middle">180°W</text><text x="447.15" y="236.70" font-size="3.6" fill="#333" text-anchor="middle">120°W</text><text x="466.00" y="236.70" font-size="3.6" fill="#333" text-anchor="middle">60°W</text><text x="484.85" y="236.70" font-size="3.6" fill="#333" text-anchor="middle">0°</text><text x="503.70" y="236.70" font-size="3.6" fill="#333" text-anchor="middle">60°E</text><text x="522.55" y="236.70" font-size="3.6" fill="#333" text-anchor="middle">120°E</text><text x="541.40" y="236.70" font-size="3.6" fill="#333" text-anchor="middle">180°E</text><text x="484.85" y="174.65" font-size="3.3" font-weight="bold" fill="#000" stroke="#000" stroke-width="0.12" text-anchor="middle">SIF 2003 SON</text><text x="427.90" y="173.10" font-size="3.5" fill="#222">l)</text><rect x="427.30" y="238.00" width="114.00" height="3.70" fill="url(#jet)"/><text x="427.70" y="246.20" font-size="3.2" fill="#555" text-anchor="middle">0</text><text x="443.87" y="246.20" font-size="3.2" fill="#555" text-anchor="middle">100</text><text x="460.04" y="246.20" font-size="3.2" fill="#555" text-anchor="middle">200</text><text x="476.21" y="246.20" font-size="3.2" fill="#555" text-anchor="middle">300</text><text x="492.39" y="246.20" font-size="3.2" fill="#555" text-anchor="middle">400</text><text x="508.56" y="246.20" font-size="3.2" fill="#555" text-anchor="middle">500</text><text x="524.73" y="246.20" font-size="3.2" fill="#555" text-anchor="middle">600</text><text x="540.90" y="246.20" font-size="3.2" fill="#555" text-anchor="middle">700</text><text x="493.15" y="251.00" font-size="3.95" font-weight="bold" fill="#333" text-anchor="middle">GPP (g C m<tspan font-size="2.4" dy="-1.4">-2</tspan><tspan dy="1.4">)</tspan></text></g>
<g class="t"><line x1="31.15" y1="261.40" x2="31.15" y2="317.80" stroke="#ececec" stroke-width="0.25" stroke-dasharray="0.5 0.7"/><line x1="50.00" y1="261.40" x2="50.00" y2="317.80" stroke="#ececec" stroke-width="0.25" stroke-dasharray="0.5 0.7"/><line x1="68.85" y1="261.40" x2="68.85" y2="317.80" stroke="#ececec" stroke-width="0.25" stroke-dasharray="0.5 0.7"/><line x1="87.70" y1="261.40" x2="87.70" y2="317.80" stroke="#ececec" stroke-width="0.25" stroke-dasharray="0.5 0.7"/><line x1="106.55" y1="261.40" x2="106.55" y2="317.80" stroke="#ececec" stroke-width="0.25" stroke-dasharray="0.5 0.7"/><line x1="12.30" y1="265.14" x2="125.40" y2="265.14" stroke="#ececec" stroke-width="0.25" stroke-dasharray="0.5 0.7"/><line x1="12.30" y1="277.68" x2="125.40" y2="277.68" stroke="#ececec" stroke-width="0.25" stroke-dasharray="0.5 0.7"/><line x1="12.30" y1="290.23" x2="125.40" y2="290.23" stroke="#ececec" stroke-width="0.25" stroke-dasharray="0.5 0.7"/><line x1="12.30" y1="302.77" x2="125.40" y2="302.77" stroke="#ececec" stroke-width="0.25" stroke-dasharray="0.5 0.7"/><line x1="12.30" y1="315.31" x2="125.40" y2="315.31" stroke="#ececec" stroke-width="0.25" stroke-dasharray="0.5 0.7"/><svg x="12.30" y="262.00" width="113.10" height="56.45" viewBox="-180 -90 360 180" preserveAspectRatio="none" overflow="hidden"><use href="#mDJF2"/><use href="#coast"/></svg><rect x="12.30" y="261.40" width="113.10" height="56.40" fill="none" stroke="#999" stroke-width="0.4"/><text x="11.40" y="266.69" font-size="3.6" fill="#333" text-anchor="end">80°N</text><line x1="12.30" y1="265.14" x2="13.30" y2="265.14" stroke="#666" stroke-width="0.3"/><text x="11.40" y="279.23" font-size="3.6" fill="#333" text-anchor="end">40°N</text><line x1="12.30" y1="277.68" x2="13.30" y2="277.68" stroke="#666" stroke-width="0.3"/><text x="11.40" y="291.78" font-size="3.6" fill="#333" text-anchor="end">0°</text><line x1="12.30" y1="290.23" x2="13.30" y2="290.23" stroke="#666" stroke-width="0.3"/><text x="11.40" y="304.32" font-size="3.6" fill="#333" text-anchor="end">40°S</text><line x1="12.30" y1="302.77" x2="13.30" y2="302.77" stroke="#666" stroke-width="0.3"/><text x="11.40" y="316.86" font-size="3.6" fill="#333" text-anchor="end">80°S</text><line x1="12.30" y1="315.31" x2="13.30" y2="315.31" stroke="#666" stroke-width="0.3"/><text x="12.30" y="322.90" font-size="3.6" fill="#333" text-anchor="middle">180°W</text><text x="31.15" y="322.90" font-size="3.6" fill="#333" text-anchor="middle">120°W</text><text x="50.00" y="322.90" font-size="3.6" fill="#333" text-anchor="middle">60°W</text><text x="68.85" y="322.90" font-size="3.6" fill="#333" text-anchor="middle">0°</text><text x="87.70" y="322.90" font-size="3.6" fill="#333" text-anchor="middle">60°E</text><text x="106.55" y="322.90" font-size="3.6" fill="#333" text-anchor="middle">120°E</text><text x="125.40" y="322.90" font-size="3.6" fill="#333" text-anchor="middle">180°E</text><text x="68.85" y="260.85" font-size="3.3" font-weight="bold" fill="#000" stroke="#000" stroke-width="0.12" text-anchor="middle">SIF 2004 DJF</text><text x="11.90" y="259.30" font-size="3.5" fill="#222">m)</text><rect x="11.30" y="324.20" width="114.00" height="3.70" fill="url(#jet)"/><text x="11.70" y="332.40" font-size="3.2" fill="#555" text-anchor="middle">0</text><text x="27.87" y="332.40" font-size="3.2" fill="#555" text-anchor="middle">100</text><text x="44.04" y="332.40" font-size="3.2" fill="#555" text-anchor="middle">200</text><text x="60.21" y="332.40" font-size="3.2" fill="#555" text-anchor="middle">300</text><text x="76.39" y="332.40" font-size="3.2" fill="#555" text-anchor="middle">400</text><text x="92.56" y="332.40" font-size="3.2" fill="#555" text-anchor="middle">500</text><text x="108.73" y="332.40" font-size="3.2" fill="#555" text-anchor="middle">600</text><text x="124.90" y="332.40" font-size="3.2" fill="#555" text-anchor="middle">700</text><text x="72.50" y="337.20" font-size="3.95" font-weight="bold" fill="#333" text-anchor="middle">GPP (g C m<tspan font-size="2.4" dy="-1.4">-2</tspan><tspan dy="1.4">)</tspan></text></g>
<g class="t"><line x1="170.15" y1="261.60" x2="170.15" y2="318.00" stroke="#ececec" stroke-width="0.25" stroke-dasharray="0.5 0.7"/><line x1="189.00" y1="261.60" x2="189.00" y2="318.00" stroke="#ececec" stroke-width="0.25" stroke-dasharray="0.5 0.7"/><line x1="207.85" y1="261.60" x2="207.85" y2="318.00" stroke="#ececec" stroke-width="0.25" stroke-dasharray="0.5 0.7"/><line x1="226.70" y1="261.60" x2="226.70" y2="318.00" stroke="#ececec" stroke-width="0.25" stroke-dasharray="0.5 0.7"/><line x1="245.55" y1="261.60" x2="245.55" y2="318.00" stroke="#ececec" stroke-width="0.25" stroke-dasharray="0.5 0.7"/><line x1="151.30" y1="265.34" x2="264.40" y2="265.34" stroke="#ececec" stroke-width="0.25" stroke-dasharray="0.5 0.7"/><line x1="151.30" y1="277.88" x2="264.40" y2="277.88" stroke="#ececec" stroke-width="0.25" stroke-dasharray="0.5 0.7"/><line x1="151.30" y1="290.43" x2="264.40" y2="290.43" stroke="#ececec" stroke-width="0.25" stroke-dasharray="0.5 0.7"/><line x1="151.30" y1="302.97" x2="264.40" y2="302.97" stroke="#ececec" stroke-width="0.25" stroke-dasharray="0.5 0.7"/><line x1="151.30" y1="315.51" x2="264.40" y2="315.51" stroke="#ececec" stroke-width="0.25" stroke-dasharray="0.5 0.7"/><svg x="151.30" y="262.20" width="113.10" height="56.45" viewBox="-180 -90 360 180" preserveAspectRatio="none" overflow="hidden"><use href="#mMAM2"/><use href="#coast"/></svg><rect x="151.30" y="261.60" width="113.10" height="56.40" fill="none" stroke="#999" stroke-width="0.4"/><text x="150.40" y="266.89" font-size="3.6" fill="#333" text-anchor="end">80°N</text><line x1="151.30" y1="265.34" x2="152.30" y2="265.34" stroke="#666" stroke-width="0.3"/><text x="150.40" y="279.43" font-size="3.6" fill="#333" text-anchor="end">40°N</text><line x1="151.30" y1="277.88" x2="152.30" y2="277.88" stroke="#666" stroke-width="0.3"/><text x="150.40" y="291.98" font-size="3.6" fill="#333" text-anchor="end">0°</text><line x1="151.30" y1="290.43" x2="152.30" y2="290.43" stroke="#666" stroke-width="0.3"/><text x="150.40" y="304.52" font-size="3.6" fill="#333" text-anchor="end">40°S</text><line x1="151.30" y1="302.97" x2="152.30" y2="302.97" stroke="#666" stroke-width="0.3"/><text x="150.40" y="317.06" font-size="3.6" fill="#333" text-anchor="end">80°S</text><line x1="151.30" y1="315.51" x2="152.30" y2="315.51" stroke="#666" stroke-width="0.3"/><text x="151.30" y="323.10" font-size="3.6" fill="#333" text-anchor="middle">180°W</text><text x="170.15" y="323.10" font-size="3.6" fill="#333" text-anchor="middle">120°W</text><text x="189.00" y="323.10" font-size="3.6" fill="#333" text-anchor="middle">60°W</text><text x="207.85" y="323.10" font-size="3.6" fill="#333" text-anchor="middle">0°</text><text x="226.70" y="323.10" font-size="3.6" fill="#333" text-anchor="middle">60°E</text><text x="245.55" y="323.10" font-size="3.6" fill="#333" text-anchor="middle">120°E</text><text x="264.40" y="323.10" font-size="3.6" fill="#333" text-anchor="middle">180°E</text><text x="207.85" y="261.05" font-size="3.3" font-weight="bold" fill="#000" stroke="#000" stroke-width="0.12" text-anchor="middle">SIF 2004 MAM</text><text x="150.90" y="259.50" font-size="3.5" fill="#222">n)</text><rect x="150.30" y="324.40" width="114.00" height="3.70" fill="url(#jet)"/><text x="150.70" y="332.60" font-size="3.2" fill="#555" text-anchor="middle">0</text><text x="166.87" y="332.60" font-size="3.2" fill="#555" text-anchor="middle">100</text><text x="183.04" y="332.60" font-size="3.2" fill="#555" text-anchor="middle">200</text><text x="199.21" y="332.60" font-size="3.2" fill="#555" text-anchor="middle">300</text><text x="215.39" y="332.60" font-size="3.2" fill="#555" text-anchor="middle">400</text><text x="231.56" y="332.60" font-size="3.2" fill="#555" text-anchor="middle">500</text><text x="247.73" y="332.60" font-size="3.2" fill="#555" text-anchor="middle">600</text><text x="263.90" y="332.60" font-size="3.2" fill="#555" text-anchor="middle">700</text><text x="213.60" y="337.40" font-size="3.95" font-weight="bold" fill="#333" text-anchor="middle">GPP (g C m<tspan font-size="2.4" dy="-1.4">-2</tspan><tspan dy="1.4">)</tspan></text></g>
<g class="t"><line x1="310.15" y1="261.60" x2="310.15" y2="318.00" stroke="#ececec" stroke-width="0.25" stroke-dasharray="0.5 0.7"/><line x1="329.00" y1="261.60" x2="329.00" y2="318.00" stroke="#ececec" stroke-width="0.25" stroke-dasharray="0.5 0.7"/><line x1="347.85" y1="261.60" x2="347.85" y2="318.00" stroke="#ececec" stroke-width="0.25" stroke-dasharray="0.5 0.7"/><line x1="366.70" y1="261.60" x2="366.70" y2="318.00" stroke="#ececec" stroke-width="0.25" stroke-dasharray="0.5 0.7"/><line x1="385.55" y1="261.60" x2="385.55" y2="318.00" stroke="#ececec" stroke-width="0.25" stroke-dasharray="0.5 0.7"/><line x1="291.30" y1="265.34" x2="404.40" y2="265.34" stroke="#ececec" stroke-width="0.25" stroke-dasharray="0.5 0.7"/><line x1="291.30" y1="277.88" x2="404.40" y2="277.88" stroke="#ececec" stroke-width="0.25" stroke-dasharray="0.5 0.7"/><line x1="291.30" y1="290.43" x2="404.40" y2="290.43" stroke="#ececec" stroke-width="0.25" stroke-dasharray="0.5 0.7"/><line x1="291.30" y1="302.97" x2="404.40" y2="302.97" stroke="#ececec" stroke-width="0.25" stroke-dasharray="0.5 0.7"/><line x1="291.30" y1="315.51" x2="404.40" y2="315.51" stroke="#ececec" stroke-width="0.25" stroke-dasharray="0.5 0.7"/><svg x="291.30" y="262.20" width="113.10" height="56.45" viewBox="-180 -90 360 180" preserveAspectRatio="none" overflow="hidden"><use href="#mJJA"/><use href="#coast"/></svg><rect x="291.30" y="261.60" width="113.10" height="56.40" fill="none" stroke="#999" stroke-width="0.4"/><text x="290.40" y="266.89" font-size="3.6" fill="#333" text-anchor="end">80°N</text><line x1="291.30" y1="265.34" x2="292.30" y2="265.34" stroke="#666" stroke-width="0.3"/><text x="290.40" y="279.43" font-size="3.6" fill="#333" text-anchor="end">40°N</text><line x1="291.30" y1="277.88" x2="292.30" y2="277.88" stroke="#666" stroke-width="0.3"/><text x="290.40" y="291.98" font-size="3.6" fill="#333" text-anchor="end">0°</text><line x1="291.30" y1="290.43" x2="292.30" y2="290.43" stroke="#666" stroke-width="0.3"/><text x="290.40" y="304.52" font-size="3.6" fill="#333" text-anchor="end">40°S</text><line x1="291.30" y1="302.97" x2="292.30" y2="302.97" stroke="#666" stroke-width="0.3"/><text x="290.40" y="317.06" font-size="3.6" fill="#333" text-anchor="end">80°S</text><line x1="291.30" y1="315.51" x2="292.30" y2="315.51" stroke="#666" stroke-width="0.3"/><text x="291.30" y="323.10" font-size="3.6" fill="#333" text-anchor="middle">180°W</text><text x="310.15" y="323.10" font-size="3.6" fill="#333" text-anchor="middle">120°W</text><text x="329.00" y="323.10" font-size="3.6" fill="#333" text-anchor="middle">60°W</text><text x="347.85" y="323.10" font-size="3.6" fill="#333" text-anchor="middle">0°</text><text x="366.70" y="323.10" font-size="3.6" fill="#333" text-anchor="middle">60°E</text><text x="385.55" y="323.10" font-size="3.6" fill="#333" text-anchor="middle">120°E</text><text x="404.40" y="323.10" font-size="3.6" fill="#333" text-anchor="middle">180°E</text><text x="347.85" y="261.05" font-size="3.3" font-weight="bold" fill="#000" stroke="#000" stroke-width="0.12" text-anchor="middle">SIF 2004 JJA</text><text x="290.90" y="259.50" font-size="3.5" fill="#222">o)</text><rect x="290.30" y="324.40" width="114.00" height="3.70" fill="url(#jet)"/><text x="290.70" y="332.60" font-size="3.2" fill="#555" text-anchor="middle">0</text><text x="306.87" y="332.60" font-size="3.2" fill="#555" text-anchor="middle">100</text><text x="323.04" y="332.60" font-size="3.2" fill="#555" text-anchor="middle">200</text><text x="339.21" y="332.60" font-size="3.2" fill="#555" text-anchor="middle">300</text><text x="355.39" y="332.60" font-size="3.2" fill="#555" text-anchor="middle">400</text><text x="371.56" y="332.60" font-size="3.2" fill="#555" text-anchor="middle">500</text><text x="387.73" y="332.60" font-size="3.2" fill="#555" text-anchor="middle">600</text><text x="403.90" y="332.60" font-size="3.2" fill="#555" text-anchor="middle">700</text><text x="352.30" y="337.40" font-size="3.95" font-weight="bold" fill="#333" text-anchor="middle">GPP (g C m<tspan font-size="2.4" dy="-1.4">-2</tspan><tspan dy="1.4">)</tspan></text></g>
<g class="t"><line x1="448.50" y1="261.60" x2="448.50" y2="318.00" stroke="#ececec" stroke-width="0.25" stroke-dasharray="0.5 0.7"/><line x1="467.35" y1="261.60" x2="467.35" y2="318.00" stroke="#ececec" stroke-width="0.25" stroke-dasharray="0.5 0.7"/><line x1="486.20" y1="261.60" x2="486.20" y2="318.00" stroke="#ececec" stroke-width="0.25" stroke-dasharray="0.5 0.7"/><line x1="505.05" y1="261.60" x2="505.05" y2="318.00" stroke="#ececec" stroke-width="0.25" stroke-dasharray="0.5 0.7"/><line x1="523.90" y1="261.60" x2="523.90" y2="318.00" stroke="#ececec" stroke-width="0.25" stroke-dasharray="0.5 0.7"/><line x1="429.65" y1="265.34" x2="542.75" y2="265.34" stroke="#ececec" stroke-width="0.25" stroke-dasharray="0.5 0.7"/><line x1="429.65" y1="277.88" x2="542.75" y2="277.88" stroke="#ececec" stroke-width="0.25" stroke-dasharray="0.5 0.7"/><line x1="429.65" y1="290.43" x2="542.75" y2="290.43" stroke="#ececec" stroke-width="0.25" stroke-dasharray="0.5 0.7"/><line x1="429.65" y1="302.97" x2="542.75" y2="302.97" stroke="#ececec" stroke-width="0.25" stroke-dasharray="0.5 0.7"/><line x1="429.65" y1="315.51" x2="542.75" y2="315.51" stroke="#ececec" stroke-width="0.25" stroke-dasharray="0.5 0.7"/><svg x="429.65" y="262.20" width="113.10" height="56.45" viewBox="-180 -90 360 180" preserveAspectRatio="none" overflow="hidden"><use href="#mSON"/><use href="#coast"/></svg><rect x="429.65" y="261.60" width="113.10" height="56.40" fill="none" stroke="#999" stroke-width="0.4"/><text x="428.75" y="266.89" font-size="3.6" fill="#333" text-anchor="end">80°N</text><line x1="429.65" y1="265.34" x2="430.65" y2="265.34" stroke="#666" stroke-width="0.3"/><text x="428.75" y="279.43" font-size="3.6" fill="#333" text-anchor="end">40°N</text><line x1="429.65" y1="277.88" x2="430.65" y2="277.88" stroke="#666" stroke-width="0.3"/><text x="428.75" y="291.98" font-size="3.6" fill="#333" text-anchor="end">0°</text><line x1="429.65" y1="290.43" x2="430.65" y2="290.43" stroke="#666" stroke-width="0.3"/><text x="428.75" y="304.52" font-size="3.6" fill="#333" text-anchor="end">40°S</text><line x1="429.65" y1="302.97" x2="430.65" y2="302.97" stroke="#666" stroke-width="0.3"/><text x="428.75" y="317.06" font-size="3.6" fill="#333" text-anchor="end">80°S</text><line x1="429.65" y1="315.51" x2="430.65" y2="315.51" stroke="#666" stroke-width="0.3"/><text x="429.65" y="323.10" font-size="3.6" fill="#333" text-anchor="middle">180°W</text><text x="448.50" y="323.10" font-size="3.6" fill="#333" text-anchor="middle">120°W</text><text x="467.35" y="323.10" font-size="3.6" fill="#333" text-anchor="middle">60°W</text><text x="486.20" y="323.10" font-size="3.6" fill="#333" text-anchor="middle">0°</text><text x="505.05" y="323.10" font-size="3.6" fill="#333" text-anchor="middle">60°E</text><text x="523.90" y="323.10" font-size="3.6" fill="#333" text-anchor="middle">120°E</text><text x="542.75" y="323.10" font-size="3.6" fill="#333" text-anchor="middle">180°E</text><text x="486.20" y="261.05" font-size="3.3" font-weight="bold" fill="#000" stroke="#000" stroke-width="0.12" text-anchor="middle">SIF 2004 SON</text><text x="429.25" y="259.50" font-size="3.5" fill="#222">p)</text><rect x="428.65" y="324.40" width="114.00" height="3.70" fill="url(#jet)"/><text x="429.05" y="332.60" font-size="3.2" fill="#555" text-anchor="middle">0</text><text x="445.22" y="332.60" font-size="3.2" fill="#555" text-anchor="middle">100</text><text x="461.39" y="332.60" font-size="3.2" fill="#555" text-anchor="middle">200</text><text x="477.56" y="332.60" font-size="3.2" fill="#555" text-anchor="middle">300</text><text x="493.74" y="332.60" font-size="3.2" fill="#555" text-anchor="middle">400</text><text x="509.91" y="332.60" font-size="3.2" fill="#555" text-anchor="middle">500</text><text x="526.08" y="332.60" font-size="3.2" fill="#555" text-anchor="middle">600</text><text x="542.25" y="332.60" font-size="3.2" fill="#555" text-anchor="middle">700</text><text x="494.50" y="337.40" font-size="3.95" font-weight="bold" fill="#333" text-anchor="middle">GPP (g C m<tspan font-size="2.4" dy="-1.4">-2</tspan><tspan dy="1.4">)</tspan></text></g>
</svg></body></html>
